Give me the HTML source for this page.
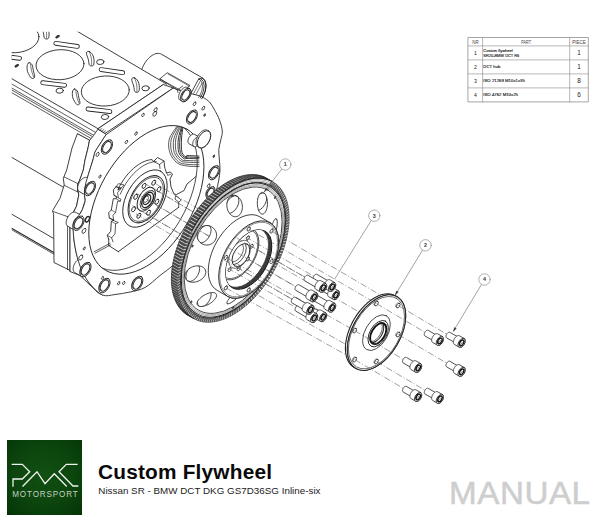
<!DOCTYPE html>
<html><head><meta charset="utf-8"><title>Custom Flywheel Manual</title>
<style>
html,body{margin:0;padding:0;background:#fff;}
body{width:600px;height:525px;position:relative;overflow:hidden;font-family:"Liberation Sans",sans-serif;}
svg{position:absolute;left:0;top:0;}
svg text{font-family:"Liberation Sans",sans-serif;}
.logo{position:absolute;left:7px;top:440px;width:75px;height:75px;background:radial-gradient(ellipse 75% 75% at 50% 46%,#114f12 0%,#0d470e 45%,#063a09 85%,#033205 100%);}
.title{position:absolute;left:98px;top:459.8px;font-size:20px;font-weight:bold;color:#0a0a0a;white-space:nowrap;letter-spacing:0.2px;line-height:24px;transform:scaleX(1.04);transform-origin:0 0;}
.sub{position:absolute;left:98.3px;top:485.1px;font-size:9.8px;color:#222;white-space:nowrap;line-height:12px;letter-spacing:0.02px;}
.manual{position:absolute;left:449.3px;top:476.2px;font-size:30.9px;color:#cecece;-webkit-text-stroke:0.5px #cecece;white-space:nowrap;line-height:36px;letter-spacing:0.5px;transform:scaleX(1.075);transform-origin:0 0;}
</style></head><body>
<svg width="600" height="525" viewBox="0 0 600 525" stroke-linecap="round" stroke-linejoin="round">
<clipPath id="crop"><rect x="11.7" y="31.7" width="600" height="500"/></clipPath>
<g clip-path="url(#crop)">
<path d="M161.28 54.18 L160.34 53.75 L159.33 53.48 L158.24 53.38 L157.09 53.45 L155.89 53.7 L154.66 54.1 L153.41 54.68 L152.15 55.4 L150.9 56.28 L149.67 57.29 L148.47 58.43 L147.32 59.68 L146.23 61.04 L145.21 62.48 L144.28 63.99 L143.44 65.56 L142.7 67.16 L142.07 68.78 L141.56 70.4 L141.17 72.01 L140.91 73.58 L140.77 75.1 L140.77 76.56 L140.91 77.93 L141.17 79.2 L141.56 80.35 L142.07 81.38 L142.7 82.28 L143.44 83.03 L144.28 83.62 L185.5 107.42 L186.44 107.85 L187.45 108.12 L188.54 108.22 L189.69 108.15 L190.89 107.9 L192.12 107.5 L193.37 106.92 L194.63 106.2 L195.88 105.32 L197.11 104.31 L198.31 103.17 L199.46 101.92 L200.55 100.56 L201.56 99.12 L202.5 97.61 L203.34 96.04 L204.08 94.44 L204.71 92.82 L205.22 91.2 L205.61 89.59 L205.87 88.02 L206 86.5 L206 85.04 L205.87 83.67 L205.61 82.4 L205.22 81.25 L204.71 80.22 L204.08 79.32 L203.34 78.57 L202.5 77.98Z" fill="#fff" stroke="#262626" stroke-width="0.88" />
<line x1="5" y1="153.5" x2="63.3" y2="187.2" stroke="#262626" stroke-width="0.88" />
<line x1="5" y1="210.3" x2="53.3" y2="238.3" stroke="#262626" stroke-width="0.88" />
<line x1="5" y1="224.4" x2="55" y2="253.3" stroke="#262626" stroke-width="1.12" />
<line x1="5" y1="225.9" x2="55" y2="254.8" stroke="#262626" stroke-width="0.75" />
<path d="M5 27.8 L78.3 31.7 L166.7 84.2 L98 128.7 L5 74.8Z" fill="#fff" stroke="none" stroke-width="0" />
<line x1="70" y1="27" x2="166.7" y2="84.2" stroke="#262626" stroke-width="0.88" />
<line x1="5" y1="74.8" x2="98" y2="128.7" stroke="#262626" stroke-width="0.88" />
<line x1="98" y1="128.7" x2="163.3" y2="84.5" stroke="#262626" stroke-width="0.88" />
<ellipse cx="15" cy="37.7" rx="24" ry="15" transform="rotate(-3 15 37.7)" fill="none" stroke="#262626" stroke-width="0.88"/>
<line x1="10.8" y1="16.3" x2="32.4" y2="19.4" stroke="#262626" stroke-width="4.8" stroke-linecap="round"/>
<line x1="10.8" y1="16.3" x2="32.4" y2="19.4" stroke="#fff" stroke-width="3.05" stroke-linecap="round"/>
<line x1="-2.3" y1="55.7" x2="19.6" y2="58.3" stroke="#262626" stroke-width="4.8" stroke-linecap="round"/>
<line x1="-2.3" y1="55.7" x2="19.6" y2="58.3" stroke="#fff" stroke-width="3.05" stroke-linecap="round"/>
<path d="M-16 35.7 C-16.8 35.87 -17.57 37.2 -17.8 38.7 C-18.03 40.2 -18.1 42.63 -17.4 44.7 C-16.7 46.77 -14.77 50.2 -13.6 51.1 C-12.43 52 -10.73 51.33 -10.4 50.1 C-10.07 48.87 -11.17 45.77 -11.6 43.7 C-12.03 41.63 -12.27 39.03 -13 37.7 C-13.73 36.37 -15.2 35.53 -16 35.7Z" fill="#fff" stroke="#262626" stroke-width="0.88" />
<path d="M-14.6 37.2 C-14.4 38.28 -13.93 41.58 -13.4 43.7 C-12.87 45.82 -11.73 48.87 -11.4 49.9" fill="none" stroke="#262626" stroke-width="0.62" />
<path d="M44.2 24.5 C43.17 24.2 41.53 24.53 41.4 25.9 C41.27 27.27 42.87 30.63 43.4 32.7 C43.93 34.77 43.77 37.37 44.6 38.3 C45.43 39.23 47.67 39.23 48.4 38.3 C49.13 37.37 49.13 34.47 49 32.7 C48.87 30.93 48.4 29.07 47.6 27.7 C46.8 26.33 45.23 24.8 44.2 24.5Z" fill="#fff" stroke="#262626" stroke-width="0.88" />
<path d="M46.6 38.1 C46.57 37.03 46.73 33.87 46.4 31.7 C46.07 29.53 44.9 26.2 44.6 25.1" fill="none" stroke="#262626" stroke-width="0.62" />
<ellipse cx="57.5" cy="36.7" rx="2" ry="0.9" transform="rotate(-30 57.5 36.7)" fill="#444" stroke="#262626" stroke-width="0.88"/>
<ellipse cx="16.7" cy="65.8" rx="2" ry="0.9" transform="rotate(-30 16.7 65.8)" fill="#444" stroke="#262626" stroke-width="0.88"/>
<ellipse cx="60" cy="64.7" rx="24" ry="15" transform="rotate(-3 60 64.7)" fill="none" stroke="#262626" stroke-width="0.88"/>
<line x1="55.8" y1="43.3" x2="77.4" y2="46.4" stroke="#262626" stroke-width="4.8" stroke-linecap="round"/>
<line x1="55.8" y1="43.3" x2="77.4" y2="46.4" stroke="#fff" stroke-width="3.05" stroke-linecap="round"/>
<line x1="42.7" y1="82.7" x2="64.6" y2="85.3" stroke="#262626" stroke-width="4.8" stroke-linecap="round"/>
<line x1="42.7" y1="82.7" x2="64.6" y2="85.3" stroke="#fff" stroke-width="3.05" stroke-linecap="round"/>
<path d="M29 62.7 C28.2 62.87 27.43 64.2 27.2 65.7 C26.97 67.2 26.9 69.63 27.6 71.7 C28.3 73.77 30.23 77.2 31.4 78.1 C32.57 79 34.27 78.33 34.6 77.1 C34.93 75.87 33.83 72.77 33.4 70.7 C32.97 68.63 32.73 66.03 32 64.7 C31.27 63.37 29.8 62.53 29 62.7Z" fill="#fff" stroke="#262626" stroke-width="0.88" />
<path d="M30.4 64.2 C30.6 65.28 31.07 68.58 31.6 70.7 C32.13 72.82 33.27 75.87 33.6 76.9" fill="none" stroke="#262626" stroke-width="0.62" />
<path d="M89.2 51.5 C88.17 51.2 86.53 51.53 86.4 52.9 C86.27 54.27 87.87 57.63 88.4 59.7 C88.93 61.77 88.77 64.37 89.6 65.3 C90.43 66.23 92.67 66.23 93.4 65.3 C94.13 64.37 94.13 61.47 94 59.7 C93.87 57.93 93.4 56.07 92.6 54.7 C91.8 53.33 90.23 51.8 89.2 51.5Z" fill="#fff" stroke="#262626" stroke-width="0.88" />
<path d="M91.6 65.1 C91.57 64.03 91.73 60.87 91.4 58.7 C91.07 56.53 89.9 53.2 89.6 52.1" fill="none" stroke="#262626" stroke-width="0.62" />
<ellipse cx="59.7" cy="90.7" rx="3.7" ry="2.5" transform="rotate(-5 59.7 90.7)" fill="none" stroke="#262626" stroke-width="0.88"/>
<ellipse cx="100.3" cy="62" rx="3.7" ry="2.5" transform="rotate(-5 100.3 62)" fill="none" stroke="#262626" stroke-width="0.88"/>
<ellipse cx="105.3" cy="91" rx="24" ry="15" transform="rotate(-3 105.3 91)" fill="none" stroke="#262626" stroke-width="0.88"/>
<line x1="101.1" y1="69.6" x2="122.7" y2="72.7" stroke="#262626" stroke-width="4.8" stroke-linecap="round"/>
<line x1="101.1" y1="69.6" x2="122.7" y2="72.7" stroke="#fff" stroke-width="3.05" stroke-linecap="round"/>
<line x1="88" y1="109" x2="109.9" y2="111.6" stroke="#262626" stroke-width="4.8" stroke-linecap="round"/>
<line x1="88" y1="109" x2="109.9" y2="111.6" stroke="#fff" stroke-width="3.05" stroke-linecap="round"/>
<path d="M74.3 89 C73.5 89.17 72.73 90.5 72.5 92 C72.27 93.5 72.2 95.93 72.9 98 C73.6 100.07 75.53 103.5 76.7 104.4 C77.87 105.3 79.57 104.63 79.9 103.4 C80.23 102.17 79.13 99.07 78.7 97 C78.27 94.93 78.03 92.33 77.3 91 C76.57 89.67 75.1 88.83 74.3 89Z" fill="#fff" stroke="#262626" stroke-width="0.88" />
<path d="M75.7 90.5 C75.9 91.58 76.37 94.88 76.9 97 C77.43 99.12 78.57 102.17 78.9 103.2" fill="none" stroke="#262626" stroke-width="0.62" />
<path d="M134.5 77.8 C133.47 77.5 131.83 77.83 131.7 79.2 C131.57 80.57 133.17 83.93 133.7 86 C134.23 88.07 134.07 90.67 134.9 91.6 C135.73 92.53 137.97 92.53 138.7 91.6 C139.43 90.67 139.43 87.77 139.3 86 C139.17 84.23 138.7 82.37 137.9 81 C137.1 79.63 135.53 78.1 134.5 77.8Z" fill="#fff" stroke="#262626" stroke-width="0.88" />
<path d="M136.9 91.4 C136.87 90.33 137.03 87.17 136.7 85 C136.37 82.83 135.2 79.5 134.9 78.4" fill="none" stroke="#262626" stroke-width="0.62" />
<ellipse cx="105" cy="117" rx="3.7" ry="2.5" transform="rotate(-5 105 117)" fill="none" stroke="#262626" stroke-width="0.88"/>
<ellipse cx="145.6" cy="88.3" rx="3.7" ry="2.5" transform="rotate(-5 145.6 88.3)" fill="none" stroke="#262626" stroke-width="0.88"/>
<line x1="5" y1="80.1" x2="96.7" y2="133.05" stroke="#262626" stroke-width="0.75" />
<line x1="5" y1="84.1" x2="94" y2="135.49" stroke="#262626" stroke-width="0.75" />
<line x1="5" y1="86.1" x2="93.3" y2="137.08" stroke="#262626" stroke-width="0.75" />
<line x1="5" y1="88.8" x2="90.7" y2="138.28" stroke="#262626" stroke-width="0.75" />
<line x1="77.3" y1="134" x2="88.7" y2="140.3" stroke="#262626" stroke-width="0.75" />
<path d="M77.3 134 L72 148 L66.7 170 L63.3 178.3 L64.2 185 L60 198.3 L52.5 210.8 L53.6 214.2 L54 262.5 L70.8 270.8 L70 271.5 L70 217.5 L73 213.2 L76.5 206.2 L78.8 195.1 L77.5 187 L78.3 183.3 L80.5 178 L83.3 170 L85 160 L88 148 L89.5 140.5Z" fill="#fff" stroke="#262626" stroke-width="0.88" />
<path d="M89.5 140.5 L88 148 L85 160 L83.3 170 L80.5 178 L78.3 183.3 L77.5 187 L78.8 195.1 L76.5 206.2 L73 213.2 L70 217.5 L70 271.5 L80 275.5 L90 285 L98.3 293 L102.5 295 L102.5 295 L90 284 L82.5 272 L79 263 L76 252 L74 240 L73.2 228 L74.8 220 L78.8 215.5 L82.3 209.7 L85.2 200.5 L84.6 196 L85.2 186 L87 179 L90 169.3 L93.3 158.7 L95 152 L100 144 L106 134.7 L105.3 133.3 L98 129.2 L93.5 135.5 L89.5 140.5Z" fill="#fff" stroke="#262626" stroke-width="0.88" />
<line x1="64.3" y1="177" x2="77.9" y2="183.6" stroke="#262626" stroke-width="0.75" />
<line x1="64.5" y1="185.4" x2="77.4" y2="191.8" stroke="#262626" stroke-width="0.75" />
<line x1="53.4" y1="211.6" x2="70" y2="217.5" stroke="#262626" stroke-width="0.75" />
<line x1="67.5" y1="216.8" x2="67.5" y2="269.6" stroke="#262626" stroke-width="0.75" />
<line x1="77.9" y1="183.6" x2="77.4" y2="191.8" stroke="#262626" stroke-width="0.75" />
<path d="M98 128.7 L163.3 84.5 L173.3 88 L105.3 133.3Z" fill="#fff" stroke="#262626" stroke-width="0.88" />
<line x1="99.83" y1="129.85" x2="102.03" y2="128.45" stroke="#262626" stroke-width="0.62" />
<line x1="101.65" y1="131" x2="103.85" y2="129.6" stroke="#262626" stroke-width="0.62" />
<line x1="103.47" y1="132.15" x2="105.67" y2="130.75" stroke="#262626" stroke-width="0.62" />
<path d="M87.33 177.72 L86.89 177.52 L86.41 177.39 L85.9 177.35 L85.36 177.38 L84.8 177.5 L84.22 177.69 L83.63 177.96 L83.04 178.3 L82.45 178.71 L81.87 179.19 L81.3 179.72 L80.76 180.31 L80.25 180.95 L79.77 181.63 L79.33 182.34 L78.94 183.08 L78.59 183.83 L78.29 184.59 L78.05 185.36 L77.87 186.11 L77.74 186.85 L77.68 187.57 L77.68 188.25 L77.74 188.9 L77.87 189.49 L78.05 190.04 L78.29 190.53 L78.59 190.95 L78.94 191.3 L79.33 191.58 L86 195.43 L86.44 195.63 L86.92 195.76 L87.43 195.8 L87.97 195.77 L88.54 195.65 L89.12 195.46 L89.7 195.19 L90.3 194.85 L90.88 194.44 L91.46 193.96 L92.03 193.43 L92.57 192.84 L93.08 192.2 L93.56 191.52 L94 190.81 L94.4 190.07 L94.74 189.32 L95.04 188.56 L95.28 187.79 L95.46 187.04 L95.59 186.3 L95.65 185.58 L95.65 184.9 L95.59 184.25 L95.46 183.66 L95.28 183.11 L95.04 182.62 L94.74 182.2 L94.4 181.85 L94 181.57Z" fill="#fff" stroke="#262626" stroke-width="0.88" />
<path d="M75.83 212.42 L75.39 212.22 L74.91 212.09 L74.4 212.05 L73.86 212.08 L73.3 212.2 L72.72 212.39 L72.13 212.66 L71.54 213 L70.95 213.41 L70.37 213.89 L69.8 214.42 L69.26 215.01 L68.75 215.65 L68.27 216.33 L67.83 217.04 L67.44 217.78 L67.09 218.53 L66.79 219.29 L66.55 220.06 L66.37 220.81 L66.24 221.55 L66.18 222.27 L66.18 222.95 L66.24 223.6 L66.37 224.19 L66.55 224.74 L66.79 225.23 L67.09 225.65 L67.44 226 L67.83 226.28 L74.5 230.13 L74.94 230.33 L75.42 230.46 L75.93 230.5 L76.47 230.47 L77.04 230.35 L77.62 230.16 L78.2 229.89 L78.8 229.55 L79.38 229.14 L79.96 228.66 L80.53 228.13 L81.07 227.54 L81.58 226.9 L82.06 226.22 L82.5 225.51 L82.9 224.77 L83.24 224.02 L83.54 223.26 L83.78 222.49 L83.96 221.74 L84.09 221 L84.15 220.28 L84.15 219.6 L84.09 218.95 L83.96 218.36 L83.78 217.81 L83.54 217.32 L83.24 216.9 L82.9 216.55 L82.5 216.27Z" fill="#fff" stroke="#262626" stroke-width="0.88" />
<path d="M82.83 258.72 L82.39 258.52 L81.91 258.39 L81.4 258.35 L80.86 258.38 L80.3 258.5 L79.72 258.69 L79.13 258.96 L78.54 259.3 L77.95 259.71 L77.37 260.19 L76.8 260.72 L76.26 261.31 L75.75 261.95 L75.27 262.63 L74.83 263.34 L74.44 264.08 L74.09 264.83 L73.79 265.59 L73.55 266.36 L73.37 267.11 L73.24 267.85 L73.18 268.57 L73.18 269.25 L73.24 269.9 L73.37 270.49 L73.55 271.04 L73.79 271.53 L74.09 271.95 L74.44 272.3 L74.83 272.58 L81.5 276.43 L81.94 276.63 L82.42 276.76 L82.93 276.8 L83.47 276.77 L84.04 276.65 L84.62 276.46 L85.2 276.19 L85.8 275.85 L86.38 275.44 L86.96 274.96 L87.53 274.43 L88.07 273.84 L88.58 273.2 L89.06 272.52 L89.5 271.81 L89.9 271.07 L90.24 270.32 L90.54 269.56 L90.78 268.79 L90.96 268.04 L91.09 267.3 L91.15 266.58 L91.15 265.9 L91.09 265.25 L90.96 264.66 L90.78 264.11 L90.54 263.62 L90.24 263.2 L89.9 262.85 L89.5 262.57Z" fill="#fff" stroke="#262626" stroke-width="0.88" />
<path d="M173.3 88 C174.42 88.42 177.22 89.58 180 90.5 C182.78 91.42 186.67 92.58 190 93.5 C193.33 94.42 196.88 94.7 200 96 C203.12 97.3 206.37 99.13 208.7 101.3 C211.03 103.47 212.2 105.88 214 109 C215.8 112.12 218.12 116.33 219.5 120 C220.88 123.67 222.08 127.67 222.3 131 C222.52 134.33 221.38 136.92 220.8 140 C220.22 143.08 219.03 146.17 218.8 149.5 C218.57 152.83 219.2 156.58 219.4 160 C219.6 163.42 220.13 166.5 220 170 C219.87 173.5 219.27 177.33 218.6 181 C217.93 184.67 217.1 188.17 216 192 C214.9 195.83 213.67 199.67 212 204 C210.33 208.33 208.33 213 206 218 C203.67 223 201 228.83 198 234 C195 239.17 192.12 243.83 188 249 C183.88 254.17 177.97 260.58 173.3 265 C168.63 269.42 164.72 271.75 160 275.5 C155.28 279.25 150 284.75 145 287.5 C140 290.25 135 290.83 130 292 C125 293.17 119.58 294 115 294.5 C110.42 295 106.67 296.75 102.5 295 C98.33 293.25 93.33 287.83 90 284 C86.67 280.17 84.33 275.5 82.5 272 C80.67 268.5 80.08 266.33 79 263 C77.92 259.67 76.83 255.83 76 252 C75.17 248.17 74.47 244 74 240 C73.53 236 73.07 231.33 73.2 228 C73.33 224.67 73.87 222.08 74.8 220 C75.73 217.92 77.55 217.22 78.8 215.5 C80.05 213.78 81.23 212.2 82.3 209.7 C83.37 207.2 84.82 202.78 85.2 200.5 C85.58 198.22 84.6 198.42 84.6 196 C84.6 193.58 84.8 188.83 85.2 186 C85.6 183.17 86.2 181.78 87 179 C87.8 176.22 88.95 172.68 90 169.3 C91.05 165.92 92.47 161.58 93.3 158.7 C94.13 155.82 93.88 154.45 95 152 C96.12 149.55 98.17 146.88 100 144 C101.83 141.12 105 136.25 106 134.7 L173.3 88 Z" fill="#fff" stroke="#262626" stroke-width="0.88" />
<ellipse cx="146.4" cy="199.8" rx="81.5" ry="47.05" transform="rotate(-60 146.4 199.8)" fill="#fff" stroke="#262626" stroke-width="0.88" />
<clipPath id="bigbore"><ellipse cx="146.4" cy="199.8" rx="81.5" ry="47.05" transform="rotate(-60 146.4 199.8)"/></clipPath>
<g clip-path="url(#bigbore)">
<ellipse cx="139.73" cy="195.95" rx="81.5" ry="47.05" transform="rotate(-60 139.73 195.95)" fill="none" stroke="#262626" stroke-width="0.75" />
<path d="M177.5 125.5 C176.13 127.75 170.58 134.5 169.3 139 C168.02 143.5 168.52 148.53 169.8 152.5 C171.08 156.47 174.13 160.55 177 162.8 C179.87 165.05 183.33 165.38 187 166 C190.67 166.62 197 166.42 199 166.5" fill="none" stroke="#262626" stroke-width="0.75" />
<path d="M178.4 125.8 C177.22 128 172.4 134.55 171.3 139 C170.2 143.45 170.58 148.68 171.8 152.5 C173.02 156.32 176.07 159.93 178.6 161.9 C181.13 163.87 183.6 163.82 187 164.3 C190.4 164.78 197 164.72 199 164.8" fill="none" stroke="#262626" stroke-width="0.75" />
<path d="M179.53 126.17 C178.57 128.31 174.67 134.61 173.8 139 C172.93 143.39 173.17 148.87 174.3 152.5 C175.43 156.13 178.48 159.16 180.6 160.78 C182.72 162.39 183.93 161.86 187 162.18 C190.07 162.49 197 162.59 199 162.68" fill="none" stroke="#262626" stroke-width="0.75" />
<path d="M180.43 126.47 C179.65 128.56 176.49 134.66 175.8 139 C175.11 143.34 175.23 149.02 176.3 152.5 C177.37 155.98 180.42 158.55 182.2 159.88 C183.98 161.2 184.2 160.29 187 160.47 C189.8 160.66 197 160.89 199 160.97" fill="none" stroke="#262626" stroke-width="0.75" />
<path d="M181.55 126.85 C181.01 128.88 178.76 134.72 178.3 139 C177.84 143.28 177.82 149.21 178.8 152.5 C179.78 155.79 182.83 157.78 184.2 158.75 C185.57 159.72 184.53 158.33 187 158.35 C189.47 158.37 197 158.77 199 158.85" fill="none" stroke="#262626" stroke-width="0.94" />
<path d="M182.27 127.09 C181.88 129.07 180.21 134.76 179.9 139 C179.59 143.24 179.47 149.33 180.4 152.5 C181.33 155.67 184.38 157.28 185.48 158.03 C186.58 158.78 184.75 157.08 187 156.99 C189.25 156.9 197 157.41 199 157.49" fill="none" stroke="#262626" stroke-width="0.94" />
<path d="M182.99 127.33 C182.74 129.28 181.66 134.81 181.5 139 C181.34 143.19 181.12 149.45 182 152.5 C182.88 155.55 185.93 156.79 186.76 157.31 C187.59 157.83 184.96 155.83 187 155.63 C189.04 155.43 197 156.05 199 156.13" fill="none" stroke="#262626" stroke-width="0.94" />
<path d="M108.7 239.3 L107.3 235.3 L110.7 231.3 L111.3 221.3 L114 220 L109.3 218 L108.7 212.7 L111.3 210 L113.3 198.7 L116 198.7 L116.7 196.7 L114 195.3 L113.3 190 L116 186.7 L121.3 188 L117.8 189.92 L119.5 186.46 L121.41 183.08 L123.5 179.83 L125.75 176.73 L128.15 173.81 L130.66 171.1 L133.27 168.62 L135.95 166.41 L138.67 164.47 L141.41 162.84 L144.15 161.52 L146.84 160.53 L149.48 159.88 L152.03 159.57 L153.5 161.5 L157.5 157.5 L164 161 L164.5 166 L165 168.5 L166.5 173 L170 172 L172.5 174 L170 179 L171 187 L174 194 L176.5 194.5 L184 190.5 L187 184 L196 176.5" fill="none" stroke="#262626" stroke-width="0.88" />
<path d="M113 241.8 L111.6 237.8 L115 233.8 L115.6 223.8 L118.3 222.5 L113.6 220.5 L113 215.2 L115.6 212.5 L117.6 201.2 L120.3 201.2 L121 199.2 L118.3 197.8 L117.6 192.5 L120.3 189.2" fill="none" stroke="#262626" stroke-width="0.75" />
<line x1="107.3" y1="235.3" x2="111.6" y2="237.8" stroke="#262626" stroke-width="0.62" />
<line x1="111.3" y1="221.3" x2="115.6" y2="223.8" stroke="#262626" stroke-width="0.62" />
<line x1="109.3" y1="218" x2="113.6" y2="220.5" stroke="#262626" stroke-width="0.62" />
<line x1="111.3" y1="210" x2="115.6" y2="212.5" stroke="#262626" stroke-width="0.62" />
<line x1="116" y1="198.7" x2="120.3" y2="201.2" stroke="#262626" stroke-width="0.62" />
<line x1="114" y1="195.3" x2="118.3" y2="197.8" stroke="#262626" stroke-width="0.62" />
<line x1="116" y1="186.7" x2="120.3" y2="189.2" stroke="#262626" stroke-width="0.62" />
<path d="M116 186.7 L118.6 183.6 L124 185 L121.3 188" fill="none" stroke="#262626" stroke-width="0.75" />
<path d="M153.5 161.5 L159.5 164.5 L164 161" fill="none" stroke="#262626" stroke-width="0.75" />
<line x1="159.5" y1="164.5" x2="160" y2="168.5" stroke="#262626" stroke-width="0.75" />
<line x1="166.5" y1="173" x2="167.8" y2="175.2" stroke="#262626" stroke-width="0.62" />
<line x1="167.8" y1="175.2" x2="170.6" y2="174.4" stroke="#262626" stroke-width="0.62" />
<path d="M120.31 194.18 L121.99 190.45 L123.91 186.79 L126.05 183.26 L128.38 179.88 L130.89 176.69 L133.54 173.74 L136.3 171.04 L139.15 168.64 L142.05 166.55 L144.97 164.81 L147.89 163.42 L150.76 162.41 L153.55 161.78 L156.24 161.54" fill="none" stroke="#262626" stroke-width="0.75" />
<path d="M176 196 L181.3 200 L178.7 202.2 L175.3 199.3Z" fill="none" stroke="#262626" stroke-width="0.75" />
<line x1="178.7" y1="207.3" x2="118.3" y2="251.7" stroke="#262626" stroke-width="0.88" />
<line x1="118.3" y1="251.7" x2="108.7" y2="245.5" stroke="#262626" stroke-width="0.88" />
<line x1="108.7" y1="245.5" x2="108.7" y2="239.3" stroke="#262626" stroke-width="0.88" />
<path d="M178.7 202.2 L178.7 207.3" fill="none" stroke="#262626" stroke-width="0.75" />
<line x1="94.2" y1="251.7" x2="110" y2="243.3" stroke="#262626" stroke-width="0.75" />
<line x1="95" y1="253.2" x2="110.8" y2="244.8" stroke="#262626" stroke-width="0.75" />
<ellipse cx="145" cy="198.5" rx="31.5" ry="18.19" transform="rotate(-60 145 198.5)" fill="none" stroke="#262626" stroke-width="0.88" />
<ellipse cx="146.3" cy="199.25" rx="25.8" ry="14.9" transform="rotate(-60 146.3 199.25)" fill="#fff" stroke="#262626" stroke-width="1" />
<ellipse cx="146.3" cy="199.25" rx="24.2" ry="13.97" transform="rotate(-60 146.3 199.25)" fill="none" stroke="#262626" stroke-width="0.62" />
<ellipse cx="159.04" cy="189.3" rx="2.8" ry="1.62" transform="rotate(-60 159.04 189.3)" fill="#fff" stroke="#262626" stroke-width="0.88" />
<ellipse cx="153.72" cy="182.73" rx="2.8" ry="1.62" transform="rotate(-60 153.72 182.73)" fill="#fff" stroke="#262626" stroke-width="0.88" />
<ellipse cx="144.05" cy="185.83" rx="2.8" ry="1.62" transform="rotate(-60 144.05 185.83)" fill="#fff" stroke="#262626" stroke-width="0.88" />
<ellipse cx="135.7" cy="196.8" rx="2.8" ry="1.62" transform="rotate(-60 135.7 196.8)" fill="#fff" stroke="#262626" stroke-width="0.88" />
<ellipse cx="133.56" cy="209.2" rx="2.8" ry="1.62" transform="rotate(-60 133.56 209.2)" fill="#fff" stroke="#262626" stroke-width="0.88" />
<ellipse cx="138.88" cy="215.77" rx="2.8" ry="1.62" transform="rotate(-60 138.88 215.77)" fill="#fff" stroke="#262626" stroke-width="0.88" />
<ellipse cx="148.55" cy="212.67" rx="2.8" ry="1.62" transform="rotate(-60 148.55 212.67)" fill="#fff" stroke="#262626" stroke-width="0.88" />
<ellipse cx="156.9" cy="201.7" rx="2.8" ry="1.62" transform="rotate(-60 156.9 201.7)" fill="#fff" stroke="#262626" stroke-width="0.88" />
<ellipse cx="146.3" cy="199.25" rx="13" ry="7.51" transform="rotate(-60 146.3 199.25)" fill="#fff" stroke="#262626" stroke-width="1" />
<ellipse cx="147.6" cy="200" rx="10.6" ry="6.12" transform="rotate(-60 147.6 200)" fill="#fff" stroke="#262626" stroke-width="0.75" />
<ellipse cx="147.6" cy="200" rx="8.4" ry="4.85" transform="rotate(-60 147.6 200)" fill="none" stroke="#262626" stroke-width="1.38" />
<ellipse cx="146.91" cy="199.6" rx="5.4" ry="3.12" transform="rotate(-60 146.91 199.6)" fill="none" stroke="#262626" stroke-width="1.38" />
<ellipse cx="146.04" cy="199.1" rx="3.6" ry="2.08" transform="rotate(-60 146.04 199.1)" fill="none" stroke="#262626" stroke-width="0.62" />
</g>
<path d="M194.44 134.37 L194.14 134.24 L193.82 134.15 L193.47 134.12 L193.11 134.14 L192.73 134.22 L192.33 134.35 L191.94 134.53 L191.54 134.76 L191.14 135.04 L190.75 135.36 L190.37 135.72 L190 136.12 L189.66 136.55 L189.33 137.01 L189.04 137.49 L188.77 137.99 L188.53 138.5 L188.33 139.01 L188.17 139.53 L188.05 140.04 L187.97 140.54 L187.92 141.02 L187.92 141.48 L187.97 141.92 L188.05 142.32 L188.17 142.69 L188.33 143.02 L188.53 143.3 L188.77 143.54 L189.04 143.73 L193.8 146.48 L194.1 146.61 L194.42 146.7 L194.77 146.73 L195.13 146.71 L195.51 146.63 L195.9 146.5 L196.3 146.32 L196.7 146.09 L197.1 145.81 L197.49 145.49 L197.87 145.13 L198.23 144.73 L198.58 144.3 L198.9 143.84 L199.2 143.36 L199.47 142.86 L199.7 142.35 L199.9 141.84 L200.06 141.32 L200.19 140.81 L200.27 140.31 L200.31 139.83 L200.31 139.37 L200.27 138.93 L200.19 138.53 L200.06 138.16 L199.9 137.83 L199.7 137.55 L199.47 137.31 L199.2 137.12Z" fill="#fff" stroke="#262626" stroke-width="0.88" />
<path d="M199.2 137.12 L198.9 136.99 L198.58 136.9 L198.23 136.87 L197.87 136.89 L197.49 136.97 L197.1 137.1 L196.7 137.28 L196.3 137.51 L195.9 137.79 L195.51 138.11 L195.13 138.47 L194.77 138.87 L194.42 139.3 L194.1 139.76 L193.8 140.24 L193.53 140.74 L193.3 141.25 L193.1 141.76 L192.94 142.28 L192.81 142.79 L192.73 143.29 L192.69 143.77 L192.69 144.23 L192.73 144.67 L192.81 145.07 L192.94 145.44 L193.1 145.77 L193.3 146.05 L193.53 146.29 L193.8 146.48" fill="none" stroke="#262626" stroke-width="0.88" />
<path d="M207.45 130.32 L206.93 130.08 L206.36 129.93 L205.75 129.88 L205.11 129.92 L204.44 130.05 L203.75 130.28 L203.05 130.6 L202.35 131.01 L201.65 131.5 L200.96 132.06 L200.29 132.7 L199.65 133.4 L199.04 134.16 L198.47 134.96 L197.95 135.81 L197.48 136.68 L197.07 137.58 L196.72 138.48 L196.43 139.39 L196.21 140.29 L196.07 141.17 L195.99 142.02 L195.99 142.83 L196.07 143.59 L196.21 144.3 L196.43 144.95 L196.72 145.53 L197.07 146.03 L197.48 146.45 L197.95 146.78 L199.25 147.53 L199.77 147.77 L200.34 147.92 L200.95 147.97 L201.59 147.93 L202.26 147.8 L202.95 147.57 L203.65 147.25 L204.35 146.84 L205.05 146.35 L205.74 145.79 L206.41 145.15 L207.05 144.45 L207.66 143.69 L208.23 142.89 L208.75 142.04 L209.22 141.17 L209.63 140.27 L209.99 139.37 L210.27 138.46 L210.49 137.56 L210.63 136.68 L210.71 135.83 L210.71 135.02 L210.63 134.26 L210.49 133.55 L210.27 132.9 L209.99 132.32 L209.63 131.82 L209.22 131.4 L208.75 131.07Z" fill="#fff" stroke="#262626" stroke-width="0.88" />
<ellipse cx="204" cy="139.3" rx="9.5" ry="5.48" transform="rotate(-60 204 139.3)" fill="#fff" stroke="#262626" stroke-width="0.88" />
<ellipse cx="107" cy="147" rx="8" ry="4.62" transform="rotate(-60 107 147)" fill="#fff" stroke="#262626" stroke-width="0.88" />
<ellipse cx="107" cy="147" rx="6.2" ry="3.58" transform="rotate(-60 107 147)" fill="none" stroke="#262626" stroke-width="1" />
<path d="M109.69 142.27 L109.51 141.9 L109.29 141.57 L109.04 141.3 L108.74 141.08 L108.41 140.92 L108.05 140.82 L107.67 140.77 L107.26 140.79 L106.84 140.87 L106.4 141.01 L105.95 141.21 L105.51 141.47 L105.06 141.78 L104.62 142.14 L104.2 142.54 L103.79 142.98 L103.4 143.47 L103.03 143.98 L102.7 144.52 L102.4 145.08 L102.14 145.65 L101.92 146.22 L101.73 146.8 L101.6 147.37 L101.51 147.93 L101.46 148.47 L101.47 148.99 L101.52 149.47 L101.61 149.92 L101.76 150.33 L101.94 150.69 L102.17 151.01 L102.44 151.27 L102.74 151.47 L103.08 151.62 L103.45 151.7 L103.84 151.73 L104.25 151.69" fill="none" stroke="#262626" stroke-width="0.62" />
<ellipse cx="90" cy="188.5" rx="8" ry="4.62" transform="rotate(-60 90 188.5)" fill="#fff" stroke="#262626" stroke-width="0.88" />
<ellipse cx="90" cy="188.5" rx="6.2" ry="3.58" transform="rotate(-60 90 188.5)" fill="none" stroke="#262626" stroke-width="1" />
<path d="M92.69 183.77 L92.51 183.4 L92.29 183.07 L92.04 182.8 L91.74 182.58 L91.41 182.42 L91.05 182.32 L90.67 182.27 L90.26 182.29 L89.84 182.37 L89.4 182.51 L88.95 182.71 L88.51 182.97 L88.06 183.28 L87.62 183.64 L87.2 184.04 L86.79 184.48 L86.4 184.97 L86.03 185.48 L85.7 186.02 L85.4 186.58 L85.14 187.15 L84.92 187.72 L84.73 188.3 L84.6 188.87 L84.51 189.43 L84.46 189.97 L84.47 190.49 L84.52 190.97 L84.61 191.42 L84.76 191.83 L84.94 192.19 L85.17 192.51 L85.44 192.77 L85.74 192.97 L86.08 193.12 L86.45 193.2 L86.84 193.23 L87.25 193.19" fill="none" stroke="#262626" stroke-width="0.62" />
<ellipse cx="78.5" cy="223.2" rx="8" ry="4.62" transform="rotate(-60 78.5 223.2)" fill="#fff" stroke="#262626" stroke-width="0.88" />
<ellipse cx="78.5" cy="223.2" rx="6.2" ry="3.58" transform="rotate(-60 78.5 223.2)" fill="none" stroke="#262626" stroke-width="1" />
<path d="M81.19 218.47 L81.01 218.1 L80.79 217.77 L80.54 217.5 L80.24 217.28 L79.91 217.12 L79.55 217.02 L79.17 216.97 L78.76 216.99 L78.34 217.07 L77.9 217.21 L77.45 217.41 L77.01 217.67 L76.56 217.98 L76.12 218.34 L75.7 218.74 L75.29 219.18 L74.9 219.67 L74.53 220.18 L74.2 220.72 L73.9 221.28 L73.64 221.85 L73.42 222.42 L73.23 223 L73.1 223.57 L73.01 224.13 L72.96 224.67 L72.97 225.19 L73.02 225.67 L73.11 226.12 L73.26 226.53 L73.44 226.89 L73.67 227.21 L73.94 227.47 L74.24 227.67 L74.58 227.82 L74.95 227.9 L75.34 227.93 L75.75 227.89" fill="none" stroke="#262626" stroke-width="0.62" />
<ellipse cx="85.5" cy="269.5" rx="8" ry="4.62" transform="rotate(-60 85.5 269.5)" fill="#fff" stroke="#262626" stroke-width="0.88" />
<ellipse cx="85.5" cy="269.5" rx="6.2" ry="3.58" transform="rotate(-60 85.5 269.5)" fill="none" stroke="#262626" stroke-width="1" />
<path d="M88.19 264.77 L88.01 264.4 L87.79 264.07 L87.54 263.8 L87.24 263.58 L86.91 263.42 L86.55 263.32 L86.17 263.27 L85.76 263.29 L85.34 263.37 L84.9 263.51 L84.45 263.71 L84.01 263.97 L83.56 264.28 L83.12 264.64 L82.7 265.04 L82.29 265.48 L81.9 265.97 L81.53 266.48 L81.2 267.02 L80.9 267.58 L80.64 268.15 L80.42 268.72 L80.23 269.3 L80.1 269.87 L80.01 270.43 L79.96 270.97 L79.97 271.49 L80.02 271.97 L80.11 272.42 L80.26 272.83 L80.44 273.19 L80.67 273.51 L80.94 273.77 L81.24 273.97 L81.58 274.12 L81.95 274.2 L82.34 274.23 L82.75 274.19" fill="none" stroke="#262626" stroke-width="0.62" />
<ellipse cx="104.5" cy="285.5" rx="8" ry="4.62" transform="rotate(-60 104.5 285.5)" fill="#fff" stroke="#262626" stroke-width="0.88" />
<ellipse cx="104.5" cy="285.5" rx="6.2" ry="3.58" transform="rotate(-60 104.5 285.5)" fill="none" stroke="#262626" stroke-width="1" />
<path d="M107.19 280.77 L107.01 280.4 L106.79 280.07 L106.54 279.8 L106.24 279.58 L105.91 279.42 L105.55 279.32 L105.17 279.27 L104.76 279.29 L104.34 279.37 L103.9 279.51 L103.45 279.71 L103.01 279.97 L102.56 280.28 L102.12 280.64 L101.7 281.04 L101.29 281.48 L100.9 281.97 L100.53 282.48 L100.2 283.02 L99.9 283.58 L99.64 284.15 L99.42 284.72 L99.23 285.3 L99.1 285.87 L99.01 286.43 L98.96 286.97 L98.97 287.49 L99.02 287.97 L99.11 288.42 L99.26 288.83 L99.44 289.19 L99.67 289.51 L99.94 289.77 L100.24 289.97 L100.58 290.12 L100.95 290.2 L101.34 290.23 L101.75 290.19" fill="none" stroke="#262626" stroke-width="0.62" />
<ellipse cx="137.3" cy="283.5" rx="8" ry="4.62" transform="rotate(-60 137.3 283.5)" fill="#fff" stroke="#262626" stroke-width="0.88" />
<ellipse cx="137.3" cy="283.5" rx="6.2" ry="3.58" transform="rotate(-60 137.3 283.5)" fill="none" stroke="#262626" stroke-width="1" />
<path d="M139.99 278.77 L139.81 278.4 L139.59 278.07 L139.34 277.8 L139.04 277.58 L138.71 277.42 L138.35 277.32 L137.97 277.27 L137.56 277.29 L137.14 277.37 L136.7 277.51 L136.25 277.71 L135.81 277.97 L135.36 278.28 L134.92 278.64 L134.5 279.04 L134.09 279.48 L133.7 279.97 L133.33 280.48 L133 281.02 L132.7 281.58 L132.44 282.15 L132.22 282.72 L132.03 283.3 L131.9 283.87 L131.81 284.43 L131.76 284.97 L131.77 285.49 L131.82 285.97 L131.91 286.42 L132.06 286.83 L132.24 287.19 L132.47 287.51 L132.74 287.77 L133.04 287.97 L133.38 288.12 L133.75 288.2 L134.14 288.23 L134.55 288.19" fill="none" stroke="#262626" stroke-width="0.62" />
<ellipse cx="192" cy="117" rx="7.8" ry="4.5" transform="rotate(-60 192 117)" fill="#fff" stroke="#262626" stroke-width="0.88" />
<ellipse cx="192" cy="117" rx="6" ry="3.46" transform="rotate(-60 192 117)" fill="none" stroke="#262626" stroke-width="1" />
<path d="M194.55 112.41 L194.39 112.04 L194.17 111.73 L193.93 111.46 L193.64 111.25 L193.32 111.09 L192.98 111 L192.6 110.96 L192.21 110.98 L191.8 111.05 L191.38 111.19 L190.95 111.38 L190.51 111.63 L190.08 111.93 L189.66 112.27 L189.25 112.66 L188.85 113.09 L188.47 113.56 L188.12 114.06 L187.8 114.58 L187.51 115.11 L187.26 115.67 L187.04 116.22 L186.87 116.78 L186.73 117.34 L186.65 117.88 L186.6 118.4 L186.61 118.9 L186.66 119.36 L186.75 119.8 L186.89 120.19 L187.07 120.54 L187.29 120.85 L187.55 121.1 L187.84 121.3 L188.17 121.44 L188.52 121.52 L188.9 121.54 L189.3 121.51" fill="none" stroke="#262626" stroke-width="0.62" />
<ellipse cx="214" cy="172.7" rx="7.8" ry="4.5" transform="rotate(-60 214 172.7)" fill="#fff" stroke="#262626" stroke-width="0.88" />
<ellipse cx="214" cy="172.7" rx="6" ry="3.46" transform="rotate(-60 214 172.7)" fill="none" stroke="#262626" stroke-width="1" />
<path d="M216.55 168.11 L216.39 167.74 L216.17 167.43 L215.93 167.16 L215.64 166.95 L215.32 166.79 L214.98 166.7 L214.6 166.66 L214.21 166.68 L213.8 166.75 L213.38 166.89 L212.95 167.08 L212.51 167.33 L212.08 167.63 L211.66 167.97 L211.25 168.36 L210.85 168.79 L210.47 169.26 L210.12 169.76 L209.8 170.28 L209.51 170.81 L209.26 171.37 L209.04 171.92 L208.87 172.48 L208.73 173.04 L208.65 173.58 L208.6 174.1 L208.61 174.6 L208.66 175.06 L208.75 175.5 L208.89 175.89 L209.07 176.24 L209.29 176.55 L209.55 176.8 L209.84 177 L210.17 177.14 L210.52 177.22 L210.9 177.24 L211.3 177.21" fill="none" stroke="#262626" stroke-width="0.62" />
<ellipse cx="210.5" cy="192.5" rx="6.5" ry="3.75" transform="rotate(-60 210.5 192.5)" fill="#fff" stroke="#262626" stroke-width="0.88" />
<ellipse cx="210.5" cy="192.5" rx="4.7" ry="2.71" transform="rotate(-60 210.5 192.5)" fill="none" stroke="#262626" stroke-width="1" />
<path d="M212.19 188.77 L212.06 188.49 L211.9 188.24 L211.7 188.04 L211.48 187.87 L211.24 187.75 L210.97 187.67 L210.68 187.64 L210.37 187.66 L210.05 187.72 L209.72 187.82 L209.39 187.97 L209.05 188.16 L208.72 188.4 L208.39 188.66 L208.07 188.97 L207.76 189.3 L207.47 189.66 L207.2 190.05 L206.95 190.45 L206.73 190.87 L206.53 191.3 L206.36 191.73 L206.23 192.16 L206.12 192.59 L206.06 193.01 L206.02 193.42 L206.02 193.8 L206.06 194.17 L206.14 194.5 L206.24 194.81 L206.38 195.08 L206.55 195.32 L206.75 195.51 L206.98 195.66 L207.24 195.77 L207.51 195.84 L207.8 195.86 L208.11 195.83" fill="none" stroke="#262626" stroke-width="0.62" />
<ellipse cx="87.4" cy="219.2" rx="3" ry="1.73" transform="rotate(-60 87.4 219.2)" fill="#fff" stroke="#262626" stroke-width="1.38" />
<ellipse cx="97.6" cy="154.4" rx="2.2" ry="1.27" transform="rotate(-60 97.6 154.4)" fill="#fff" stroke="#262626" stroke-width="0.75" />
<ellipse cx="100" cy="176.6" rx="1.6" ry="0.92" transform="rotate(-60 100 176.6)" fill="#fff" stroke="#262626" stroke-width="0.75" />
<ellipse cx="126.4" cy="142" rx="1.8" ry="1.04" transform="rotate(-60 126.4 142)" fill="#fff" stroke="#262626" stroke-width="0.75" />
<ellipse cx="136" cy="133.6" rx="1.8" ry="1.04" transform="rotate(-60 136 133.6)" fill="#fff" stroke="#262626" stroke-width="0.75" />
<ellipse cx="143" cy="115" rx="1.8" ry="1.04" transform="rotate(-60 143 115)" fill="#fff" stroke="#262626" stroke-width="0.75" />
<ellipse cx="84" cy="230.8" rx="2.8" ry="1.62" transform="rotate(-60 84 230.8)" fill="#fff" stroke="#262626" stroke-width="0.75" />
<ellipse cx="84.2" cy="248.5" rx="1.5" ry="0.87" transform="rotate(-60 84.2 248.5)" fill="#fff" stroke="#262626" stroke-width="0.75" />
<ellipse cx="80.8" cy="257.5" rx="2.8" ry="1.62" transform="rotate(-60 80.8 257.5)" fill="#fff" stroke="#262626" stroke-width="0.75" />
<ellipse cx="102.5" cy="278" rx="1.5" ry="0.87" transform="rotate(-60 102.5 278)" fill="#fff" stroke="#262626" stroke-width="0.75" />
<ellipse cx="118.7" cy="283.3" rx="1.7" ry="0.98" transform="rotate(-60 118.7 283.3)" fill="#fff" stroke="#262626" stroke-width="0.75" />
<ellipse cx="123.8" cy="283" rx="1.7" ry="0.98" transform="rotate(-60 123.8 283)" fill="#fff" stroke="#262626" stroke-width="0.75" />
<ellipse cx="194.6" cy="103.8" rx="2" ry="1.15" transform="rotate(-60 194.6 103.8)" fill="#fff" stroke="#262626" stroke-width="0.75" />
<ellipse cx="203.3" cy="108.3" rx="2" ry="1.15" transform="rotate(-60 203.3 108.3)" fill="#fff" stroke="#262626" stroke-width="0.75" />
<ellipse cx="208.7" cy="185.7" rx="2" ry="1.15" transform="rotate(-60 208.7 185.7)" fill="#fff" stroke="#262626" stroke-width="0.75" />
<ellipse cx="204.6" cy="115.1" rx="1.3" ry="0.75" transform="rotate(-60 204.6 115.1)" fill="#555" stroke="#262626" stroke-width="0.62" />
<ellipse cx="213.8" cy="156.3" rx="1.3" ry="0.75" transform="rotate(-60 213.8 156.3)" fill="#555" stroke="#262626" stroke-width="0.62" />
<ellipse cx="155.6" cy="109.8" rx="2.3" ry="1.33" transform="rotate(-60 155.6 109.8)" fill="none" stroke="#262626" stroke-width="0.75" />
<ellipse cx="154.8" cy="113.8" rx="2.7" ry="1.56" transform="rotate(-60 154.8 113.8)" fill="none" stroke="#262626" stroke-width="0.75" />
<path d="M160 78.7 L167.3 72.7 L190 85.5 L182.7 91Z" fill="#fff" stroke="#262626" stroke-width="0.75" />
<line x1="168" y1="73.9" x2="189.4" y2="86.2" stroke="#262626" stroke-width="0.62" />
<path d="M160 78.7 L177.3 90 L182.7 86" fill="none" stroke="#262626" stroke-width="0.75" />
<line x1="177.3" y1="90" x2="178" y2="92.5" stroke="#262626" stroke-width="0.75" />
<path d="M187.59 87.49 L187.19 87.3 L186.74 87.19 L186.27 87.15 L185.77 87.18 L185.25 87.28 L184.71 87.46 L184.17 87.71 L183.62 88.02 L183.08 88.4 L182.54 88.85 L182.02 89.34 L181.52 89.89 L181.04 90.48 L180.6 91.11 L180.19 91.76 L179.83 92.45 L179.51 93.14 L179.23 93.85 L179.01 94.55 L178.84 95.25 L178.73 95.94 L178.67 96.6 L178.67 97.23 L178.73 97.83 L178.84 98.38 L179.01 98.89 L179.23 99.33 L179.51 99.72 L179.83 100.05 L180.19 100.31 L182.1 101.41 L182.51 101.6 L182.95 101.71 L183.42 101.75 L183.92 101.72 L184.45 101.62 L184.98 101.44 L185.53 101.19 L186.07 100.88 L186.62 100.5 L187.15 100.05 L187.68 99.56 L188.18 99.01 L188.65 98.42 L189.09 97.79 L189.5 97.14 L189.87 96.45 L190.19 95.76 L190.46 95.05 L190.68 94.35 L190.85 93.65 L190.97 92.96 L191.03 92.3 L191.03 91.67 L190.97 91.07 L190.85 90.52 L190.68 90.01 L190.46 89.57 L190.19 89.18 L189.87 88.85 L189.5 88.59Z" fill="#fff" stroke="#262626" stroke-width="0.88" />
<ellipse cx="185.8" cy="95" rx="7.4" ry="4.27" transform="rotate(-60 185.8 95)" fill="#fff" stroke="#262626" stroke-width="0.88" />
<ellipse cx="185.8" cy="95" rx="5.6" ry="3.23" transform="rotate(-60 185.8 95)" fill="none" stroke="#262626" stroke-width="1.12" />
<clipPath id="capc"><path d="M190.7 93.5L198.9 78.2L215 75L215 105L205 101Z"/></clipPath>
<g clip-path="url(#capc)">
<ellipse cx="194" cy="92.7" rx="17" ry="9.81" transform="rotate(-60 194 92.7)" fill="none" stroke="#262626" stroke-width="0.88" />
<ellipse cx="193.22" cy="92.25" rx="15.6" ry="9.01" transform="rotate(-60 193.22 92.25)" fill="none" stroke="#262626" stroke-width="0.75" />
<ellipse cx="192.44" cy="91.8" rx="14.4" ry="8.31" transform="rotate(-60 192.44 91.8)" fill="none" stroke="#262626" stroke-width="0.62" />
</g>
<line x1="190.9" y1="93.3" x2="198.9" y2="78.6" stroke="#262626" stroke-width="0.88" />
<line x1="193.6" y1="93.4" x2="200.6" y2="80.6" stroke="#262626" stroke-width="0.62" />
<line x1="196.2" y1="94.2" x2="202.2" y2="83" stroke="#262626" stroke-width="0.62" />
</g>
<line x1="157.73" y1="190.95" x2="246.73" y2="243.65" stroke="#505050" stroke-width="0.56" stroke-dasharray="6.5 2 1 2" stroke-linecap="butt"/>
<line x1="154" y1="182.71" x2="243" y2="235.41" stroke="#505050" stroke-width="0.56" stroke-dasharray="6.5 2 1 2" stroke-linecap="butt"/>
<line x1="145" y1="183.6" x2="234" y2="236.3" stroke="#505050" stroke-width="0.56" stroke-dasharray="6.5 2 1 2" stroke-linecap="butt"/>
<line x1="136" y1="193.1" x2="225" y2="245.8" stroke="#505050" stroke-width="0.56" stroke-dasharray="6.5 2 1 2" stroke-linecap="butt"/>
<line x1="132.27" y1="205.65" x2="221.27" y2="258.35" stroke="#505050" stroke-width="0.56" stroke-dasharray="6.5 2 1 2" stroke-linecap="butt"/>
<line x1="136" y1="213.89" x2="225" y2="266.59" stroke="#505050" stroke-width="0.56" stroke-dasharray="6.5 2 1 2" stroke-linecap="butt"/>
<line x1="145" y1="213" x2="234" y2="265.7" stroke="#505050" stroke-width="0.56" stroke-dasharray="6.5 2 1 2" stroke-linecap="butt"/>
<line x1="154" y1="203.5" x2="243" y2="256.2" stroke="#505050" stroke-width="0.56" stroke-dasharray="6.5 2 1 2" stroke-linecap="butt"/>
<path d="M266.77 178.31 L264.65 177.21 L262.42 176.3 L260.1 175.59 L257.69 175.06 L255.2 174.74 L252.63 174.61 L249.99 174.68 L247.29 174.95 L244.53 175.41 L241.73 176.07 L238.88 176.93 L236.01 177.97 L233.11 179.2 L230.19 180.62 L227.27 182.22 L224.34 184 L221.43 185.95 L218.53 188.06 L215.65 190.34 L212.81 192.77 L210.01 195.34 L207.25 198.06 L204.55 200.91 L201.91 203.89 L199.34 206.99 L196.84 210.19 L194.43 213.5 L192.11 216.89 L189.89 220.37 L187.77 223.92 L185.76 227.53 L183.86 231.19 L182.08 234.9 L180.42 238.64 L178.89 242.4 L177.5 246.17 L176.24 249.95 L175.12 253.71 L174.14 257.46 L173.31 261.18 L172.63 264.86 L172.09 268.49 L171.71 272.05 L171.48 275.55 L171.41 278.97 L171.48 282.3 L171.71 285.54 L172.09 288.67 L172.63 291.68 L173.31 294.57 L174.14 297.33 L175.12 299.95 L176.24 302.42 L177.5 304.74 L178.89 306.9 L180.42 308.9 L182.08 310.73 L183.86 312.38 L185.76 313.85 L187.77 315.14 L193.7 318.56 L195.82 319.66 L198.05 320.57 L200.37 321.29 L202.78 321.81 L205.27 322.14 L207.84 322.26 L210.48 322.19 L213.18 321.93 L215.94 321.46 L218.74 320.8 L221.59 319.95 L224.46 318.9 L227.36 317.67 L230.28 316.25 L233.2 314.65 L236.12 312.88 L239.04 310.93 L241.94 308.81 L244.81 306.54 L247.66 304.11 L250.46 301.53 L253.22 298.81 L255.92 295.96 L258.56 292.98 L261.13 289.89 L263.62 286.68 L266.03 283.38 L268.35 279.98 L270.58 276.51 L272.7 272.96 L274.71 269.35 L276.61 265.68 L278.39 261.98 L280.05 258.24 L281.58 254.47 L282.97 250.7 L284.23 246.93 L285.35 243.16 L286.33 239.41 L287.16 235.7 L287.84 232.02 L288.37 228.39 L288.75 224.82 L288.98 221.32 L289.06 217.9 L288.98 214.57 L288.75 211.34 L288.37 208.21 L287.84 205.2 L287.16 202.31 L286.33 199.55 L285.35 196.93 L284.23 194.45 L282.97 192.13 L281.58 189.97 L280.05 187.97 L278.39 186.15 L276.61 184.5 L274.71 183.02 L272.7 181.74Z" fill="#fff" stroke="#262626" stroke-width="0.62" />
<path d="M270.58 180.64 L264.65 177.21 L263.56 176.74 L269.49 180.16Z" fill="#484848" stroke="#222" stroke-width="0.5" />
<path d="M268.81 179.89 L262.87 176.47 L261.75 176.07 L267.68 179.49Z" fill="#484848" stroke="#222" stroke-width="0.5" />
<path d="M266.97 179.27 L261.04 175.85 L259.87 175.53 L265.81 178.95Z" fill="#484848" stroke="#222" stroke-width="0.5" />
<path d="M265.08 178.78 L259.15 175.35 L257.95 175.11 L263.88 178.53Z" fill="#484848" stroke="#222" stroke-width="0.5" />
<path d="M263.13 178.41 L257.2 174.98 L255.96 174.82 L261.9 178.24Z" fill="#484848" stroke="#222" stroke-width="0.5" />
<path d="M261.13 178.16 L255.2 174.74 L253.93 174.65 L259.86 178.08Z" fill="#484848" stroke="#222" stroke-width="0.5" />
<path d="M259.08 178.05 L253.15 174.62 L251.85 174.61 L257.79 178.04Z" fill="#484848" stroke="#222" stroke-width="0.5" />
<path d="M256.98 178.06 L251.05 174.63 L249.73 174.7 L255.66 178.12Z" fill="#484848" stroke="#222" stroke-width="0.5" />
<path d="M254.85 178.19 L248.91 174.77 L247.57 174.91 L253.5 178.34Z" fill="#484848" stroke="#222" stroke-width="0.5" />
<path d="M252.67 178.45 L246.74 175.03 L245.37 175.25 L251.31 178.68Z" fill="#484848" stroke="#222" stroke-width="0.5" />
<path d="M250.46 178.84 L244.53 175.41 L243.14 175.72 L249.08 179.14Z" fill="#484848" stroke="#222" stroke-width="0.5" />
<path d="M248.22 179.35 L242.29 175.93 L240.89 176.31 L246.82 179.73Z" fill="#484848" stroke="#222" stroke-width="0.5" />
<path d="M245.96 179.99 L240.02 176.56 L238.61 177.02 L244.54 180.44Z" fill="#484848" stroke="#222" stroke-width="0.5" />
<path d="M243.67 180.75 L237.74 177.32 L236.31 177.85 L242.24 181.28Z" fill="#484848" stroke="#222" stroke-width="0.5" />
<path d="M241.36 181.63 L235.43 178.2 L233.99 178.81 L239.92 182.23Z" fill="#484848" stroke="#222" stroke-width="0.5" />
<path d="M239.04 182.63 L233.11 179.2 L231.66 179.88 L237.59 183.31Z" fill="#484848" stroke="#222" stroke-width="0.5" />
<path d="M236.71 183.75 L230.78 180.32 L229.33 181.08 L235.26 184.5Z" fill="#484848" stroke="#222" stroke-width="0.5" />
<path d="M234.37 184.99 L228.44 181.56 L226.99 182.38 L232.92 185.81Z" fill="#484848" stroke="#222" stroke-width="0.5" />
<path d="M232.03 186.34 L226.1 182.91 L224.65 183.8 L230.58 187.23Z" fill="#484848" stroke="#222" stroke-width="0.5" />
<path d="M229.69 187.8 L223.76 184.37 L222.31 185.34 L228.25 188.76Z" fill="#484848" stroke="#222" stroke-width="0.5" />
<path d="M227.36 189.37 L221.43 185.95 L219.99 186.97 L225.92 190.4Z" fill="#484848" stroke="#222" stroke-width="0.5" />
<path d="M225.04 191.05 L219.11 187.62 L217.68 188.72 L223.61 192.14Z" fill="#484848" stroke="#222" stroke-width="0.5" />
<path d="M222.73 192.83 L216.8 189.41 L215.38 190.56 L221.31 193.99Z" fill="#484848" stroke="#222" stroke-width="0.5" />
<path d="M220.44 194.71 L214.51 191.29 L213.1 192.51 L219.04 195.93Z" fill="#484848" stroke="#222" stroke-width="0.5" />
<path d="M218.18 196.69 L212.25 193.27 L210.85 194.54 L216.79 197.97Z" fill="#484848" stroke="#222" stroke-width="0.5" />
<path d="M215.94 198.77 L210.01 195.34 L208.63 196.67 L214.56 200.1Z" fill="#484848" stroke="#222" stroke-width="0.5" />
<path d="M213.73 200.93 L207.8 197.51 L206.44 198.89 L212.38 202.32Z" fill="#484848" stroke="#222" stroke-width="0.5" />
<path d="M211.55 203.18 L205.62 199.76 L204.29 201.2 L210.22 204.62Z" fill="#484848" stroke="#222" stroke-width="0.5" />
<path d="M209.42 205.52 L203.48 202.09 L202.18 203.58 L208.11 207Z" fill="#484848" stroke="#222" stroke-width="0.5" />
<path d="M207.32 207.93 L201.39 204.5 L200.11 206.03 L206.04 209.46Z" fill="#484848" stroke="#222" stroke-width="0.5" />
<path d="M205.27 210.41 L199.34 206.99 L198.09 208.56 L204.02 211.99Z" fill="#484848" stroke="#222" stroke-width="0.5" />
<path d="M203.27 212.97 L197.34 209.54 L196.12 211.16 L202.05 214.58Z" fill="#484848" stroke="#222" stroke-width="0.5" />
<path d="M201.32 215.59 L195.39 212.16 L194.21 213.82 L200.14 217.24Z" fill="#484848" stroke="#222" stroke-width="0.5" />
<path d="M199.43 218.27 L193.49 214.84 L192.35 216.53 L198.28 219.96Z" fill="#484848" stroke="#222" stroke-width="0.5" />
<path d="M197.59 221 L191.66 217.58 L190.56 219.3 L196.49 222.73Z" fill="#484848" stroke="#222" stroke-width="0.5" />
<path d="M195.82 223.79 L189.89 220.37 L188.82 222.12 L194.76 225.54Z" fill="#484848" stroke="#222" stroke-width="0.5" />
<path d="M194.12 226.63 L188.18 223.2 L187.16 224.98 L193.09 228.4Z" fill="#484848" stroke="#222" stroke-width="0.5" />
<path d="M192.48 229.5 L186.55 226.08 L185.57 227.88 L191.5 231.3Z" fill="#484848" stroke="#222" stroke-width="0.5" />
<path d="M190.91 232.41 L184.98 228.99 L184.05 230.81 L189.98 234.23Z" fill="#484848" stroke="#222" stroke-width="0.5" />
<path d="M189.42 235.36 L183.49 231.93 L182.6 233.77 L188.54 237.19Z" fill="#484848" stroke="#222" stroke-width="0.5" />
<path d="M188.01 238.32 L182.08 234.9 L181.24 236.75 L187.17 240.18Z" fill="#484848" stroke="#222" stroke-width="0.5" />
<path d="M186.67 241.31 L180.74 237.89 L179.95 239.75 L185.89 243.18Z" fill="#484848" stroke="#222" stroke-width="0.5" />
<path d="M185.42 244.32 L179.49 240.89 L178.75 242.76 L184.68 246.19Z" fill="#484848" stroke="#222" stroke-width="0.5" />
<path d="M184.25 247.33 L178.32 243.91 L177.63 245.78 L183.57 249.21Z" fill="#484848" stroke="#222" stroke-width="0.5" />
<path d="M183.16 250.35 L177.23 246.93 L176.6 248.8 L182.54 252.23Z" fill="#484848" stroke="#222" stroke-width="0.5" />
<path d="M182.17 253.37 L176.24 249.95 L175.66 251.82 L181.6 255.24Z" fill="#484848" stroke="#222" stroke-width="0.5" />
<path d="M181.26 256.39 L175.33 252.96 L174.81 254.83 L180.75 258.25Z" fill="#484848" stroke="#222" stroke-width="0.5" />
<path d="M180.45 259.39 L174.51 255.97 L174.05 257.82 L179.99 261.25Z" fill="#484848" stroke="#222" stroke-width="0.5" />
<path d="M179.72 262.38 L173.79 258.95 L173.39 260.79 L179.32 264.22Z" fill="#484848" stroke="#222" stroke-width="0.5" />
<path d="M179.09 265.34 L173.16 261.92 L172.82 263.74 L178.75 267.17Z" fill="#484848" stroke="#222" stroke-width="0.5" />
<path d="M178.56 268.28 L172.63 264.86 L172.34 266.66 L178.28 270.09Z" fill="#484848" stroke="#222" stroke-width="0.5" />
<path d="M178.12 271.19 L172.19 267.76 L171.97 269.55 L177.9 272.97Z" fill="#484848" stroke="#222" stroke-width="0.5" />
<path d="M177.78 274.06 L171.85 270.63 L171.68 272.39 L177.62 275.82Z" fill="#484848" stroke="#222" stroke-width="0.5" />
<path d="M177.54 276.89 L171.6 273.46 L171.5 275.19 L177.43 278.62Z" fill="#484848" stroke="#222" stroke-width="0.5" />
<path d="M177.39 279.67 L171.46 276.24 L171.41 277.94 L177.35 281.37Z" fill="#484848" stroke="#222" stroke-width="0.5" />
<path d="M177.34 282.4 L171.41 278.97 L171.43 280.64 L177.36 284.06Z" fill="#484848" stroke="#222" stroke-width="0.5" />
<path d="M177.39 285.07 L171.46 281.65 L171.54 283.27 L177.47 286.7Z" fill="#484848" stroke="#222" stroke-width="0.5" />
<path d="M177.54 287.68 L171.6 284.26 L171.74 285.84 L177.68 289.27Z" fill="#484848" stroke="#222" stroke-width="0.5" />
<path d="M177.78 290.23 L171.85 286.8 L172.05 288.35 L177.98 291.77Z" fill="#484848" stroke="#222" stroke-width="0.5" />
<path d="M178.12 292.7 L172.19 289.28 L172.45 290.78 L178.38 294.2Z" fill="#484848" stroke="#222" stroke-width="0.5" />
<path d="M178.56 295.1 L172.63 291.68 L172.95 293.13 L178.88 296.55Z" fill="#484848" stroke="#222" stroke-width="0.5" />
<path d="M179.09 297.43 L173.16 294 L173.54 295.4 L179.47 298.82Z" fill="#484848" stroke="#222" stroke-width="0.5" />
<path d="M179.72 299.67 L173.79 296.24 L174.23 297.58 L180.16 301.01Z" fill="#484848" stroke="#222" stroke-width="0.5" />
<path d="M180.45 301.82 L174.51 298.39 L175.01 299.68 L180.94 303.11Z" fill="#484848" stroke="#222" stroke-width="0.5" />
<path d="M181.26 303.88 L175.33 300.45 L175.88 301.68 L181.81 305.11Z" fill="#484848" stroke="#222" stroke-width="0.5" />
<path d="M182.17 305.85 L176.24 302.42 L176.84 303.59 L182.78 307.02Z" fill="#484848" stroke="#222" stroke-width="0.5" />
<path d="M183.16 307.72 L177.23 304.29 L177.89 305.4 L183.83 308.82Z" fill="#484848" stroke="#222" stroke-width="0.5" />
<path d="M184.25 309.48 L178.32 306.06 L179.03 307.1 L184.96 310.53Z" fill="#484848" stroke="#222" stroke-width="0.5" />
<path d="M185.42 311.15 L179.49 307.72 L180.25 308.7 L186.19 312.13Z" fill="#484848" stroke="#222" stroke-width="0.5" />
<path d="M186.67 312.71 L180.74 309.28 L181.56 310.19 L187.49 313.62Z" fill="#484848" stroke="#222" stroke-width="0.5" />
<path d="M188.01 314.15 L182.08 310.73 L182.94 311.57 L188.88 314.99Z" fill="#484848" stroke="#222" stroke-width="0.5" />
<path d="M189.42 315.49 L183.49 312.06 L184.41 312.83 L190.34 316.26Z" fill="#484848" stroke="#222" stroke-width="0.5" />
<path d="M190.91 316.71 L184.98 313.28 L185.94 313.98 L191.88 317.41Z" fill="#484848" stroke="#222" stroke-width="0.5" />
<path d="M192.48 317.81 L186.55 314.39 L187.55 315.01 L193.49 318.44Z" fill="#484848" stroke="#222" stroke-width="0.5" />
<path d="M193.22 233.38 L191.11 232.78 L190.46 233.29 L190.46 234.06 L192.42 234.93Z" fill="#6a6a6a" stroke="#333" stroke-width="0.56" />
<path d="M191.81 236.16 L189.64 235.7 L188.99 236.24 L189.01 237 L191.05 237.73Z" fill="#6a6a6a" stroke="#333" stroke-width="0.56" />
<path d="M190.47 238.97 L188.24 238.65 L187.6 239.22 L187.65 239.96 L189.75 240.55Z" fill="#6a6a6a" stroke="#333" stroke-width="0.56" />
<path d="M189.2 241.8 L186.92 241.62 L186.29 242.21 L186.37 242.93 L188.53 243.38Z" fill="#6a6a6a" stroke="#333" stroke-width="0.56" />
<path d="M188.02 244.64 L185.69 244.6 L185.06 245.22 L185.17 245.92 L187.39 246.23Z" fill="#6a6a6a" stroke="#333" stroke-width="0.56" />
<path d="M186.91 247.49 L184.53 247.6 L183.91 248.24 L184.05 248.91 L186.33 249.09Z" fill="#6a6a6a" stroke="#333" stroke-width="0.56" />
<path d="M185.89 250.34 L183.46 250.59 L182.86 251.26 L183.02 251.91 L185.35 251.94Z" fill="#6a6a6a" stroke="#333" stroke-width="0.56" />
<path d="M184.95 253.2 L182.48 253.59 L181.89 254.28 L182.08 254.91 L184.46 254.8Z" fill="#6a6a6a" stroke="#333" stroke-width="0.56" />
<path d="M184.09 256.05 L181.59 256.58 L181.01 257.29 L181.22 257.89 L183.65 257.64Z" fill="#6a6a6a" stroke="#333" stroke-width="0.56" />
<path d="M183.32 258.89 L180.79 259.56 L180.22 260.29 L180.46 260.86 L182.92 260.47Z" fill="#6a6a6a" stroke="#333" stroke-width="0.56" />
<path d="M182.63 261.71 L180.08 262.52 L179.52 263.27 L179.79 263.82 L182.29 263.29Z" fill="#6a6a6a" stroke="#333" stroke-width="0.56" />
<path d="M182.04 264.52 L179.46 265.46 L178.92 266.23 L179.22 266.75 L181.75 266.08Z" fill="#6a6a6a" stroke="#333" stroke-width="0.56" />
<path d="M181.53 267.3 L178.94 268.38 L178.42 269.16 L178.74 269.65 L181.29 268.84Z" fill="#6a6a6a" stroke="#333" stroke-width="0.56" />
<path d="M181.12 270.04 L178.51 271.26 L178.01 272.05 L178.35 272.52 L180.93 271.57Z" fill="#6a6a6a" stroke="#333" stroke-width="0.56" />
<path d="M180.8 272.76 L178.18 274.1 L177.7 274.91 L178.06 275.34 L180.66 274.26Z" fill="#6a6a6a" stroke="#333" stroke-width="0.56" />
<path d="M180.56 275.43 L177.94 276.91 L177.48 277.73 L177.87 278.13 L180.48 276.91Z" fill="#6a6a6a" stroke="#333" stroke-width="0.56" />
<path d="M180.43 278.06 L177.8 279.66 L177.36 280.49 L177.77 280.86 L180.39 279.51Z" fill="#6a6a6a" stroke="#333" stroke-width="0.56" />
<path d="M180.38 280.64 L177.76 282.37 L177.34 283.21 L177.78 283.54 L180.39 282.06Z" fill="#6a6a6a" stroke="#333" stroke-width="0.56" />
<path d="M180.43 283.17 L177.82 285.02 L177.42 285.86 L177.88 286.16 L180.49 284.56Z" fill="#6a6a6a" stroke="#333" stroke-width="0.56" />
<path d="M180.56 285.64 L177.97 287.6 L177.6 288.45 L178.07 288.72 L180.68 287Z" fill="#6a6a6a" stroke="#333" stroke-width="0.56" />
<path d="M180.8 288.05 L178.22 290.12 L177.87 290.98 L178.36 291.21 L180.97 289.37Z" fill="#6a6a6a" stroke="#333" stroke-width="0.56" />
<path d="M181.12 290.39 L178.57 292.57 L178.24 293.43 L178.75 293.63 L181.34 291.67Z" fill="#6a6a6a" stroke="#333" stroke-width="0.56" />
<path d="M181.53 292.66 L179.01 294.95 L178.71 295.81 L179.24 295.97 L181.81 293.9Z" fill="#6a6a6a" stroke="#333" stroke-width="0.56" />
<path d="M182.04 294.85 L179.55 297.25 L179.27 298.11 L179.82 298.23 L182.36 296.05Z" fill="#6a6a6a" stroke="#333" stroke-width="0.56" />
<path d="M182.63 296.97 L180.18 299.46 L179.93 300.32 L180.49 300.41 L183.01 298.12Z" fill="#6a6a6a" stroke="#333" stroke-width="0.56" />
<path d="M183.32 299 L180.91 301.59 L180.68 302.45 L181.26 302.5 L183.74 300.11Z" fill="#6a6a6a" stroke="#333" stroke-width="0.56" />
<path d="M184.09 300.95 L181.72 303.63 L181.52 304.48 L182.11 304.5 L184.56 302.01Z" fill="#6a6a6a" stroke="#333" stroke-width="0.56" />
<path d="M184.95 302.81 L182.63 305.57 L182.46 306.42 L183.06 306.4 L185.46 303.82Z" fill="#6a6a6a" stroke="#333" stroke-width="0.56" />
<path d="M185.89 304.58 L183.63 307.42 L183.48 308.26 L184.09 308.2 L186.45 305.53Z" fill="#6a6a6a" stroke="#333" stroke-width="0.56" />
<path d="M186.91 306.25 L184.71 309.17 L184.59 309.99 L185.21 309.91 L187.52 307.15Z" fill="#6a6a6a" stroke="#333" stroke-width="0.56" />
<path d="M188.02 307.83 L185.88 310.81 L185.79 311.63 L186.42 311.5 L188.67 308.67Z" fill="#6a6a6a" stroke="#333" stroke-width="0.56" />
<path d="M189.2 309.3 L187.13 312.35 L187.06 313.15 L187.7 312.99 L189.9 310.08Z" fill="#6a6a6a" stroke="#333" stroke-width="0.56" />
<path d="M190.47 310.67 L188.46 313.78 L188.42 314.57 L189.07 314.37 L191.21 311.39Z" fill="#6a6a6a" stroke="#333" stroke-width="0.56" />
<path d="M191.81 311.93 L189.87 315.09 L189.86 315.87 L190.51 315.64 L192.59 312.59Z" fill="#6a6a6a" stroke="#333" stroke-width="0.56" />
<path d="M193.22 313.09 L191.36 316.3 L191.38 317.05 L192.03 316.79 L194.04 313.68Z" fill="#6a6a6a" stroke="#333" stroke-width="0.56" />
<path d="M194.7 314.13 L192.92 317.38 L192.96 318.12 L193.62 317.82 L195.55 314.67Z" fill="#6a6a6a" stroke="#333" stroke-width="0.56" />
<path d="M196.24 315.06 L194.55 318.35 L194.62 319.07 L195.28 318.74 L197.14 315.53Z" fill="#6a6a6a" stroke="#333" stroke-width="0.56" />
<path d="M197.86 315.88 L196.24 319.2 L196.35 319.9 L197.01 319.53 L198.79 316.29Z" fill="#6a6a6a" stroke="#333" stroke-width="0.56" />
<path d="M199.53 316.58 L198.01 319.93 L198.14 320.61 L198.8 320.21 L200.49 316.92Z" fill="#6a6a6a" stroke="#333" stroke-width="0.56" />
<path d="M201.26 317.17 L199.83 320.53 L199.99 321.19 L200.65 320.76 L202.26 317.44Z" fill="#6a6a6a" stroke="#333" stroke-width="0.56" />
<path d="M203.05 317.64 L201.71 321.01 L201.9 321.65 L202.56 321.19 L204.08 317.85Z" fill="#6a6a6a" stroke="#333" stroke-width="0.56" />
<path d="M204.9 317.99 L203.65 321.37 L203.86 321.98 L204.52 321.49 L205.95 318.13Z" fill="#6a6a6a" stroke="#333" stroke-width="0.56" />
<path d="M206.79 318.22 L205.64 321.6 L205.88 322.18 L206.53 321.67 L207.87 318.29Z" fill="#6a6a6a" stroke="#333" stroke-width="0.56" />
<path d="M208.73 318.33 L207.68 321.71 L207.94 322.26 L208.59 321.72 L209.83 318.34Z" fill="#6a6a6a" stroke="#333" stroke-width="0.56" />
<path d="M210.71 318.32 L209.76 321.69 L210.05 322.22 L210.69 321.64 L211.84 318.26Z" fill="#6a6a6a" stroke="#333" stroke-width="0.56" />
<path d="M212.73 318.19 L211.89 321.55 L212.2 322.04 L212.84 321.44 L213.88 318.07Z" fill="#6a6a6a" stroke="#333" stroke-width="0.56" />
<path d="M214.79 317.95 L214.05 321.28 L214.39 321.75 L215.01 321.12 L215.95 317.76Z" fill="#6a6a6a" stroke="#333" stroke-width="0.56" />
<path d="M216.88 317.58 L216.25 320.88 L216.61 321.32 L217.22 320.67 L218.06 317.32Z" fill="#6a6a6a" stroke="#333" stroke-width="0.56" />
<path d="M219 317.1 L218.47 320.37 L218.86 320.77 L219.46 320.1 L220.19 316.77Z" fill="#6a6a6a" stroke="#333" stroke-width="0.56" />
<path d="M221.14 316.49 L220.72 319.72 L221.13 320.1 L221.72 319.4 L222.35 316.11Z" fill="#6a6a6a" stroke="#333" stroke-width="0.56" />
<path d="M223.3 315.78 L222.99 318.96 L223.42 319.3 L224 318.59 L224.52 315.32Z" fill="#6a6a6a" stroke="#333" stroke-width="0.56" />
<path d="M225.48 314.94 L225.29 318.08 L225.73 318.38 L226.3 317.65 L226.71 314.43Z" fill="#6a6a6a" stroke="#333" stroke-width="0.56" />
<path d="M227.68 314 L227.59 317.07 L228.06 317.35 L228.61 316.59 L228.91 313.42Z" fill="#6a6a6a" stroke="#333" stroke-width="0.56" />
<path d="M229.88 312.94 L229.9 315.95 L230.39 316.19 L230.92 315.42 L231.12 312.3Z" fill="#6a6a6a" stroke="#333" stroke-width="0.56" />
<path d="M232.09 311.77 L232.22 314.72 L232.73 314.92 L233.25 314.14 L233.33 311.07Z" fill="#6a6a6a" stroke="#333" stroke-width="0.56" />
<path d="M234.31 310.49 L234.55 313.37 L235.07 313.54 L235.57 312.74 L235.54 309.73Z" fill="#6a6a6a" stroke="#333" stroke-width="0.56" />
<path d="M236.52 309.11 L236.87 311.91 L237.41 312.04 L237.89 311.23 L237.75 308.29Z" fill="#6a6a6a" stroke="#333" stroke-width="0.56" />
<path d="M238.72 307.62 L239.18 310.34 L239.74 310.44 L240.19 309.61 L239.95 306.74Z" fill="#6a6a6a" stroke="#333" stroke-width="0.56" />
<path d="M240.92 306.03 L241.48 308.66 L242.05 308.73 L242.49 307.89 L242.14 305.1Z" fill="#6a6a6a" stroke="#333" stroke-width="0.56" />
<path d="M243.1 304.35 L243.77 306.89 L244.36 306.91 L244.77 306.07 L244.31 303.36Z" fill="#6a6a6a" stroke="#333" stroke-width="0.56" />
<path d="M245.26 302.57 L246.04 305.01 L246.64 305 L247.03 304.15 L246.46 301.53Z" fill="#6a6a6a" stroke="#333" stroke-width="0.56" />
<path d="M247.4 300.7 L248.29 303.04 L248.9 302.99 L249.27 302.14 L248.59 299.61Z" fill="#6a6a6a" stroke="#333" stroke-width="0.56" />
<path d="M249.52 298.73 L250.51 300.97 L251.13 300.89 L251.48 300.04 L250.7 297.6Z" fill="#6a6a6a" stroke="#333" stroke-width="0.56" />
<path d="M251.61 296.69 L252.7 298.82 L253.33 298.7 L253.65 297.84 L252.77 295.51Z" fill="#6a6a6a" stroke="#333" stroke-width="0.56" />
<path d="M253.67 294.56 L254.85 296.58 L255.49 296.43 L255.79 295.57 L254.81 293.33Z" fill="#6a6a6a" stroke="#333" stroke-width="0.56" />
<path d="M255.69 292.35 L256.97 294.26 L257.62 294.07 L257.89 293.21 L256.8 291.09Z" fill="#6a6a6a" stroke="#333" stroke-width="0.56" />
<path d="M257.67 290.07 L259.05 291.86 L259.7 291.63 L259.95 290.78 L258.76 288.77Z" fill="#6a6a6a" stroke="#333" stroke-width="0.56" />
<path d="M259.61 287.72 L261.08 289.39 L261.74 289.13 L261.96 288.28 L260.68 286.38Z" fill="#6a6a6a" stroke="#333" stroke-width="0.56" />
<path d="M261.5 285.31 L263.06 286.84 L263.72 286.55 L263.92 285.71 L262.54 283.93Z" fill="#6a6a6a" stroke="#333" stroke-width="0.56" />
<path d="M263.35 282.83 L264.99 284.24 L265.65 283.91 L265.82 283.07 L264.35 281.42Z" fill="#6a6a6a" stroke="#333" stroke-width="0.56" />
<path d="M265.14 280.3 L266.86 281.57 L267.53 281.22 L267.67 280.38 L266.11 278.85Z" fill="#6a6a6a" stroke="#333" stroke-width="0.56" />
<path d="M266.87 277.71 L268.68 278.85 L269.35 278.46 L269.46 277.64 L267.81 276.24Z" fill="#6a6a6a" stroke="#333" stroke-width="0.56" />
<path d="M268.54 275.07 L270.43 276.08 L271.1 275.66 L271.18 274.85 L269.45 273.58Z" fill="#6a6a6a" stroke="#333" stroke-width="0.56" />
<path d="M270.16 272.39 L272.12 273.27 L272.78 272.81 L272.84 272.02 L271.03 270.87Z" fill="#6a6a6a" stroke="#333" stroke-width="0.56" />
<path d="M271.7 269.67 L273.74 270.41 L274.4 269.93 L274.43 269.14 L272.54 268.14Z" fill="#6a6a6a" stroke="#333" stroke-width="0.56" />
<path d="M273.18 266.92 L275.29 267.52 L275.94 267.01 L275.94 266.24 L273.98 265.37Z" fill="#6a6a6a" stroke="#333" stroke-width="0.56" />
<path d="M274.59 264.14 L276.76 264.6 L277.41 264.06 L277.39 263.3 L275.35 262.57Z" fill="#6a6a6a" stroke="#333" stroke-width="0.56" />
<path d="M275.93 261.33 L278.16 261.65 L278.8 261.08 L278.75 260.34 L276.65 259.75Z" fill="#6a6a6a" stroke="#333" stroke-width="0.56" />
<path d="M277.2 258.5 L279.48 258.68 L280.11 258.09 L280.03 257.37 L277.87 256.92Z" fill="#6a6a6a" stroke="#333" stroke-width="0.56" />
<path d="M278.38 255.66 L280.71 255.7 L281.34 255.08 L281.23 254.38 L279.01 254.07Z" fill="#6a6a6a" stroke="#333" stroke-width="0.56" />
<path d="M279.49 252.81 L281.87 252.7 L282.49 252.06 L282.35 251.39 L280.07 251.21Z" fill="#6a6a6a" stroke="#333" stroke-width="0.56" />
<path d="M280.51 249.96 L282.94 249.71 L283.54 249.04 L283.38 248.39 L281.05 248.36Z" fill="#6a6a6a" stroke="#333" stroke-width="0.56" />
<path d="M281.45 247.1 L283.92 246.71 L284.51 246.02 L284.32 245.39 L281.94 245.5Z" fill="#6a6a6a" stroke="#333" stroke-width="0.56" />
<path d="M282.31 244.25 L284.81 243.72 L285.39 243.01 L285.18 242.41 L282.75 242.66Z" fill="#6a6a6a" stroke="#333" stroke-width="0.56" />
<path d="M283.08 241.41 L285.61 240.74 L286.18 240.01 L285.94 239.44 L283.48 239.83Z" fill="#6a6a6a" stroke="#333" stroke-width="0.56" />
<path d="M283.77 238.59 L286.32 237.78 L286.88 237.03 L286.61 236.48 L284.11 237.01Z" fill="#6a6a6a" stroke="#333" stroke-width="0.56" />
<path d="M284.36 235.78 L286.94 234.84 L287.48 234.07 L287.18 233.55 L284.65 234.22Z" fill="#6a6a6a" stroke="#333" stroke-width="0.56" />
<path d="M284.87 233 L287.46 231.92 L287.98 231.14 L287.66 230.65 L285.11 231.46Z" fill="#6a6a6a" stroke="#333" stroke-width="0.56" />
<path d="M285.28 230.26 L287.89 229.04 L288.39 228.25 L288.05 227.78 L285.47 228.73Z" fill="#6a6a6a" stroke="#333" stroke-width="0.56" />
<path d="M285.6 227.54 L288.22 226.2 L288.7 225.39 L288.34 224.96 L285.74 226.04Z" fill="#6a6a6a" stroke="#333" stroke-width="0.56" />
<path d="M285.84 224.87 L288.46 223.39 L288.92 222.57 L288.53 222.17 L285.92 223.39Z" fill="#6a6a6a" stroke="#333" stroke-width="0.56" />
<path d="M285.97 222.24 L288.6 220.64 L289.04 219.81 L288.63 219.44 L286.01 220.79Z" fill="#6a6a6a" stroke="#333" stroke-width="0.56" />
<path d="M286.02 219.66 L288.64 217.93 L289.06 217.09 L288.62 216.76 L286.01 218.24Z" fill="#6a6a6a" stroke="#333" stroke-width="0.56" />
<path d="M285.97 217.13 L288.58 215.28 L288.98 214.44 L288.52 214.14 L285.91 215.74Z" fill="#6a6a6a" stroke="#333" stroke-width="0.56" />
<path d="M285.84 214.66 L288.43 212.7 L288.8 211.85 L288.33 211.58 L285.72 213.3Z" fill="#6a6a6a" stroke="#333" stroke-width="0.56" />
<path d="M285.6 212.25 L288.18 210.18 L288.53 209.32 L288.04 209.09 L285.43 210.93Z" fill="#6a6a6a" stroke="#333" stroke-width="0.56" />
<path d="M285.28 209.91 L287.83 207.73 L288.16 206.87 L287.65 206.67 L285.06 208.63Z" fill="#6a6a6a" stroke="#333" stroke-width="0.56" />
<path d="M284.87 207.64 L287.39 205.35 L287.69 204.49 L287.16 204.33 L284.59 206.4Z" fill="#6a6a6a" stroke="#333" stroke-width="0.56" />
<path d="M284.36 205.45 L286.85 203.05 L287.13 202.19 L286.58 202.07 L284.04 204.25Z" fill="#6a6a6a" stroke="#333" stroke-width="0.56" />
<path d="M283.77 203.33 L286.22 200.84 L286.47 199.98 L285.91 199.89 L283.39 202.18Z" fill="#6a6a6a" stroke="#333" stroke-width="0.56" />
<path d="M283.08 201.3 L285.49 198.71 L285.72 197.85 L285.14 197.8 L282.66 200.19Z" fill="#6a6a6a" stroke="#333" stroke-width="0.56" />
<path d="M282.31 199.35 L284.68 196.67 L284.88 195.82 L284.29 195.8 L281.84 198.29Z" fill="#6a6a6a" stroke="#333" stroke-width="0.56" />
<path d="M281.45 197.49 L283.77 194.73 L283.94 193.88 L283.34 193.9 L280.94 196.48Z" fill="#6a6a6a" stroke="#333" stroke-width="0.56" />
<path d="M280.51 195.72 L282.77 192.88 L282.92 192.04 L282.31 192.1 L279.95 194.77Z" fill="#6a6a6a" stroke="#333" stroke-width="0.56" />
<path d="M279.49 194.05 L281.69 191.13 L281.81 190.31 L281.19 190.39 L278.88 193.15Z" fill="#6a6a6a" stroke="#333" stroke-width="0.56" />
<path d="M278.38 192.47 L280.52 189.49 L280.61 188.67 L279.98 188.8 L277.73 191.63Z" fill="#6a6a6a" stroke="#333" stroke-width="0.56" />
<path d="M277.2 191 L279.27 187.95 L279.34 187.15 L278.7 187.31 L276.5 190.22Z" fill="#6a6a6a" stroke="#333" stroke-width="0.56" />
<path d="M275.93 189.63 L277.94 186.52 L277.98 185.73 L277.33 185.93 L275.19 188.91Z" fill="#6a6a6a" stroke="#333" stroke-width="0.56" />
<path d="M274.59 188.37 L276.53 185.21 L276.54 184.43 L275.89 184.66 L273.81 187.71Z" fill="#6a6a6a" stroke="#333" stroke-width="0.56" />
<path d="M273.18 187.21 L275.04 184 L275.02 183.25 L274.37 183.51 L272.36 186.62Z" fill="#6a6a6a" stroke="#333" stroke-width="0.56" />
<path d="M271.7 186.17 L273.48 182.92 L273.44 182.18 L272.78 182.48 L270.85 185.63Z" fill="#6a6a6a" stroke="#333" stroke-width="0.56" />
<path d="M270.16 185.24 L271.85 181.95 L271.78 181.23 L271.12 181.56 L269.26 184.77Z" fill="#6a6a6a" stroke="#333" stroke-width="0.56" />
<path d="M272 181.35 L267.49 179.43 L262.58 178.33 L257.34 178.04 L251.82 178.59 L246.08 179.95 L240.2 182.11 L234.24 185.06 L228.27 188.75 L222.35 193.14 L216.56 198.18 L210.96 203.82 L205.61 209.99 L200.58 216.62 L195.92 223.64 L191.69 230.95" fill="none" stroke="#262626" stroke-width="1.12" />
<path d="M275.13 185.32 L271 182.63 L266.42 180.75 L261.44 179.71 L256.11 179.53 L250.51 180.2 L244.7 181.73 L238.74 184.08 L232.72 187.23 L226.71 191.15 L220.77 195.78 L214.99 201.07 L209.42 206.95 L204.15 213.36 L199.22 220.22 L194.71 227.44 L190.67 234.93" fill="none" stroke="#777" stroke-width="0.56" />
<path d="M274.26 186.66 L270.22 184.02 L265.74 182.18 L260.86 181.17 L255.64 180.99 L250.15 181.65 L244.46 183.14 L238.63 185.44 L232.73 188.53 L226.84 192.37 L221.03 196.9 L215.36 202.08 L209.91 207.85 L204.75 214.12 L199.93 220.84 L195.51 227.91 L191.55 235.25" fill="none" stroke="#777" stroke-width="0.56" />
<ellipse cx="233.2" cy="250.15" rx="74.5" ry="43.01" transform="rotate(-60 233.2 250.15)" fill="#fff" stroke="#262626" stroke-width="0.88" />
<ellipse cx="233.2" cy="250.15" rx="73.3" ry="42.32" transform="rotate(-60 233.2 250.15)" fill="none" stroke="#262626" stroke-width="1" />
<ellipse cx="233.2" cy="250.15" rx="72" ry="41.57" transform="rotate(-60 233.2 250.15)" fill="none" stroke="#777" stroke-width="0.56" />
<ellipse cx="233.2" cy="250.15" rx="70.7" ry="40.82" transform="rotate(-60 233.2 250.15)" fill="none" stroke="#777" stroke-width="0.56" />
<ellipse cx="233.2" cy="250.15" rx="69.3" ry="40.01" transform="rotate(-60 233.2 250.15)" fill="none" stroke="#262626" stroke-width="0.75" />
<path d="M277.24 222.6 L277.21 221.61 L277.13 220.75 L276.99 220.01 L276.8 219.43 L276.55 219 L276.27 218.74 L275.94 218.65 L275.58 218.73 L275.19 218.97 L274.78 219.39 L274.35 219.96 L273.92 220.68 L273.48 221.54 L273.05 222.52 L272.64 223.6 L272.25 224.77 L271.89 226.01 L271.56 227.29 L271.28 228.6 L271.04 229.9 L270.84 231.19 L270.7 232.43 L270.62 233.61 L270.59 234.7 L270.62 235.69 L270.7 236.56 L270.84 237.29 L271.04 237.87 L271.28 238.3 L271.56 238.56 L271.89 238.65 L272.25 238.58 L272.64 238.33 L273.05 237.91 L273.48 237.34 L273.92 236.62 L274.35 235.76 L274.78 234.78 L275.19 233.7 L275.58 232.53 L275.94 231.29 L276.27 230.01 L276.55 228.7 L276.8 227.4 L276.99 226.11 L277.13 224.87 L277.21 223.7Z" fill="#fff" stroke="#262626" stroke-width="0.88" />
<clipPath id="w0"><path d="M277.24 222.6 L277.21 221.61 L277.13 220.75 L276.99 220.01 L276.8 219.43 L276.55 219 L276.27 218.74 L275.94 218.65 L275.58 218.73 L275.19 218.97 L274.78 219.39 L274.35 219.96 L273.92 220.68 L273.48 221.54 L273.05 222.52 L272.64 223.6 L272.25 224.77 L271.89 226.01 L271.56 227.29 L271.28 228.6 L271.04 229.9 L270.84 231.19 L270.7 232.43 L270.62 233.61 L270.59 234.7 L270.62 235.69 L270.7 236.56 L270.84 237.29 L271.04 237.87 L271.28 238.3 L271.56 238.56 L271.89 238.65 L272.25 238.58 L272.64 238.33 L273.05 237.91 L273.48 237.34 L273.92 236.62 L274.35 235.76 L274.78 234.78 L275.19 233.7 L275.58 232.53 L275.94 231.29 L276.27 230.01 L276.55 228.7 L276.8 227.4 L276.99 226.11 L277.13 224.87 L277.21 223.7Z"/></clipPath>
<g clip-path="url(#w0)">
<ellipse cx="271.44" cy="227.22" rx="9.76" ry="5.63" transform="rotate(-60 271.44 227.22)" fill="none" stroke="#262626" stroke-width="0.75" />
<clipPath id="wb0"><ellipse cx="271.44" cy="227.22" rx="9.76" ry="5.63" transform="rotate(-60 271.44 227.22)"/></clipPath>
<g clip-path="url(#wb0)">
<line x1="157.73" y1="190.95" x2="246.73" y2="243.65" stroke="#505050" stroke-width="0.56" stroke-dasharray="6.5 2 1 2" stroke-linecap="butt"/>
<line x1="154" y1="182.71" x2="243" y2="235.41" stroke="#505050" stroke-width="0.56" stroke-dasharray="6.5 2 1 2" stroke-linecap="butt"/>
<line x1="145" y1="183.6" x2="234" y2="236.3" stroke="#505050" stroke-width="0.56" stroke-dasharray="6.5 2 1 2" stroke-linecap="butt"/>
<line x1="136" y1="193.1" x2="225" y2="245.8" stroke="#505050" stroke-width="0.56" stroke-dasharray="6.5 2 1 2" stroke-linecap="butt"/>
<line x1="132.27" y1="205.65" x2="221.27" y2="258.35" stroke="#505050" stroke-width="0.56" stroke-dasharray="6.5 2 1 2" stroke-linecap="butt"/>
<line x1="136" y1="213.89" x2="225" y2="266.59" stroke="#505050" stroke-width="0.56" stroke-dasharray="6.5 2 1 2" stroke-linecap="butt"/>
<line x1="145" y1="213" x2="234" y2="265.7" stroke="#505050" stroke-width="0.56" stroke-dasharray="6.5 2 1 2" stroke-linecap="butt"/>
<line x1="154" y1="203.5" x2="243" y2="256.2" stroke="#505050" stroke-width="0.56" stroke-dasharray="6.5 2 1 2" stroke-linecap="butt"/>
</g></g>
<path d="M266.77 197.75 L266.41 196.57 L265.97 195.5 L265.47 194.56 L264.92 193.77 L264.33 193.14 L263.71 192.68 L263.06 192.4 L262.4 192.31 L261.74 192.4 L261.09 192.68 L260.47 193.14 L259.87 193.77 L259.32 194.56 L258.83 195.5 L258.39 196.57 L258.02 197.75 L257.73 199.03 L257.52 200.38 L257.39 201.78 L257.35 203.2 L257.39 204.62 L257.52 206.02 L257.73 207.36 L258.03 208.64 L258.39 209.83 L258.83 210.9 L259.33 211.83 L259.88 212.63 L260.47 213.26 L261.1 213.71 L261.74 213.99 L262.4 214.08 L263.06 213.99 L263.71 213.71 L264.34 213.26 L264.93 212.63 L265.48 211.83 L265.97 210.9 L266.41 209.83 L266.78 208.64 L267.07 207.36 L267.28 206.02 L267.41 204.62 L267.45 203.2 L267.41 201.78 L267.28 200.38 L267.07 199.03Z" fill="#fff" stroke="#262626" stroke-width="0.88" />
<clipPath id="w1"><path d="M266.77 197.75 L266.41 196.57 L265.97 195.5 L265.47 194.56 L264.92 193.77 L264.33 193.14 L263.71 192.68 L263.06 192.4 L262.4 192.31 L261.74 192.4 L261.09 192.68 L260.47 193.14 L259.87 193.77 L259.32 194.56 L258.83 195.5 L258.39 196.57 L258.02 197.75 L257.73 199.03 L257.52 200.38 L257.39 201.78 L257.35 203.2 L257.39 204.62 L257.52 206.02 L257.73 207.36 L258.03 208.64 L258.39 209.83 L258.83 210.9 L259.33 211.83 L259.88 212.63 L260.47 213.26 L261.1 213.71 L261.74 213.99 L262.4 214.08 L263.06 213.99 L263.71 213.71 L264.34 213.26 L264.93 212.63 L265.48 211.83 L265.97 210.9 L266.41 209.83 L266.78 208.64 L267.07 207.36 L267.28 206.02 L267.41 204.62 L267.45 203.2 L267.41 201.78 L267.28 200.38 L267.07 199.03Z"/></clipPath>
<g clip-path="url(#w1)">
<ellipse cx="259.93" cy="201.77" rx="9.76" ry="5.63" transform="rotate(-60 259.93 201.77)" fill="none" stroke="#262626" stroke-width="0.75" />
<clipPath id="wb1"><ellipse cx="259.93" cy="201.77" rx="9.76" ry="5.63" transform="rotate(-60 259.93 201.77)"/></clipPath>
<g clip-path="url(#wb1)">
<line x1="157.73" y1="190.95" x2="246.73" y2="243.65" stroke="#505050" stroke-width="0.56" stroke-dasharray="6.5 2 1 2" stroke-linecap="butt"/>
<line x1="154" y1="182.71" x2="243" y2="235.41" stroke="#505050" stroke-width="0.56" stroke-dasharray="6.5 2 1 2" stroke-linecap="butt"/>
<line x1="145" y1="183.6" x2="234" y2="236.3" stroke="#505050" stroke-width="0.56" stroke-dasharray="6.5 2 1 2" stroke-linecap="butt"/>
<line x1="136" y1="193.1" x2="225" y2="245.8" stroke="#505050" stroke-width="0.56" stroke-dasharray="6.5 2 1 2" stroke-linecap="butt"/>
<line x1="132.27" y1="205.65" x2="221.27" y2="258.35" stroke="#505050" stroke-width="0.56" stroke-dasharray="6.5 2 1 2" stroke-linecap="butt"/>
<line x1="136" y1="213.89" x2="225" y2="266.59" stroke="#505050" stroke-width="0.56" stroke-dasharray="6.5 2 1 2" stroke-linecap="butt"/>
<line x1="145" y1="213" x2="234" y2="265.7" stroke="#505050" stroke-width="0.56" stroke-dasharray="6.5 2 1 2" stroke-linecap="butt"/>
<line x1="154" y1="203.5" x2="243" y2="256.2" stroke="#505050" stroke-width="0.56" stroke-dasharray="6.5 2 1 2" stroke-linecap="butt"/>
</g></g>
<path d="M241.5 201.97 L240.98 200.69 L240.34 199.5 L239.61 198.43 L238.79 197.48 L237.9 196.68 L236.95 196.04 L235.97 195.56 L234.96 195.27 L233.94 195.16 L232.93 195.23 L231.96 195.48 L231.03 195.92 L230.16 196.52 L229.36 197.29 L228.66 198.21 L228.05 199.25 L227.56 200.42 L227.19 201.67 L226.95 203 L226.84 204.38 L226.86 205.79 L227.01 207.2 L227.29 208.59 L227.7 209.93 L228.23 211.21 L228.86 212.39 L229.59 213.47 L230.41 214.42 L231.3 215.22 L232.25 215.86 L233.24 216.33 L234.25 216.63 L235.26 216.74 L236.27 216.67 L237.24 216.42 L238.18 215.98 L239.05 215.38 L239.84 214.61 L240.54 213.69 L241.15 212.65 L241.64 211.48 L242.01 210.23 L242.25 208.9 L242.37 207.52 L242.35 206.11 L242.19 204.7 L241.91 203.31Z" fill="#fff" stroke="#262626" stroke-width="0.88" />
<clipPath id="w2"><path d="M241.5 201.97 L240.98 200.69 L240.34 199.5 L239.61 198.43 L238.79 197.48 L237.9 196.68 L236.95 196.04 L235.97 195.56 L234.96 195.27 L233.94 195.16 L232.93 195.23 L231.96 195.48 L231.03 195.92 L230.16 196.52 L229.36 197.29 L228.66 198.21 L228.05 199.25 L227.56 200.42 L227.19 201.67 L226.95 203 L226.84 204.38 L226.86 205.79 L227.01 207.2 L227.29 208.59 L227.7 209.93 L228.23 211.21 L228.86 212.39 L229.59 213.47 L230.41 214.42 L231.3 215.22 L232.25 215.86 L233.24 216.33 L234.25 216.63 L235.26 216.74 L236.27 216.67 L237.24 216.42 L238.18 215.98 L239.05 215.38 L239.84 214.61 L240.54 213.69 L241.15 212.65 L241.64 211.48 L242.01 210.23 L242.25 208.9 L242.37 207.52 L242.35 206.11 L242.19 204.7 L241.91 203.31Z"/></clipPath>
<g clip-path="url(#w2)">
<ellipse cx="232.13" cy="204.52" rx="9.76" ry="5.63" transform="rotate(-60 232.13 204.52)" fill="none" stroke="#262626" stroke-width="0.75" />
<clipPath id="wb2"><ellipse cx="232.13" cy="204.52" rx="9.76" ry="5.63" transform="rotate(-60 232.13 204.52)"/></clipPath>
<g clip-path="url(#wb2)">
<line x1="157.73" y1="190.95" x2="246.73" y2="243.65" stroke="#505050" stroke-width="0.56" stroke-dasharray="6.5 2 1 2" stroke-linecap="butt"/>
<line x1="154" y1="182.71" x2="243" y2="235.41" stroke="#505050" stroke-width="0.56" stroke-dasharray="6.5 2 1 2" stroke-linecap="butt"/>
<line x1="145" y1="183.6" x2="234" y2="236.3" stroke="#505050" stroke-width="0.56" stroke-dasharray="6.5 2 1 2" stroke-linecap="butt"/>
<line x1="136" y1="193.1" x2="225" y2="245.8" stroke="#505050" stroke-width="0.56" stroke-dasharray="6.5 2 1 2" stroke-linecap="butt"/>
<line x1="132.27" y1="205.65" x2="221.27" y2="258.35" stroke="#505050" stroke-width="0.56" stroke-dasharray="6.5 2 1 2" stroke-linecap="butt"/>
<line x1="136" y1="213.89" x2="225" y2="266.59" stroke="#505050" stroke-width="0.56" stroke-dasharray="6.5 2 1 2" stroke-linecap="butt"/>
<line x1="145" y1="213" x2="234" y2="265.7" stroke="#505050" stroke-width="0.56" stroke-dasharray="6.5 2 1 2" stroke-linecap="butt"/>
<line x1="154" y1="203.5" x2="243" y2="256.2" stroke="#505050" stroke-width="0.56" stroke-dasharray="6.5 2 1 2" stroke-linecap="butt"/>
</g></g>
<path d="M216.23 232.77 L215.82 231.56 L215.25 230.42 L214.55 229.35 L213.7 228.39 L212.74 227.55 L211.68 226.84 L210.54 226.28 L209.33 225.87 L208.07 225.62 L206.8 225.53 L205.53 225.62 L204.27 225.87 L203.06 226.28 L201.92 226.84 L200.86 227.55 L199.9 228.39 L199.06 229.35 L198.35 230.41 L197.78 231.56 L197.37 232.77 L197.12 234.02 L197.04 235.29 L197.12 236.57 L197.37 237.82 L197.78 239.03 L198.35 240.17 L199.06 241.24 L199.9 242.2 L200.86 243.04 L201.92 243.75 L203.07 244.31 L204.28 244.72 L205.53 244.97 L206.8 245.06 L208.08 244.97 L209.33 244.72 L210.54 244.31 L211.68 243.75 L212.75 243.04 L213.71 242.2 L214.55 241.24 L215.26 240.18 L215.82 239.03 L216.23 237.82 L216.48 236.57 L216.56 235.3 L216.48 234.02Z" fill="#fff" stroke="#262626" stroke-width="0.88" />
<clipPath id="w3"><path d="M216.23 232.77 L215.82 231.56 L215.25 230.42 L214.55 229.35 L213.7 228.39 L212.74 227.55 L211.68 226.84 L210.54 226.28 L209.33 225.87 L208.07 225.62 L206.8 225.53 L205.53 225.62 L204.27 225.87 L203.06 226.28 L201.92 226.84 L200.86 227.55 L199.9 228.39 L199.06 229.35 L198.35 230.41 L197.78 231.56 L197.37 232.77 L197.12 234.02 L197.04 235.29 L197.12 236.57 L197.37 237.82 L197.78 239.03 L198.35 240.17 L199.06 241.24 L199.9 242.2 L200.86 243.04 L201.92 243.75 L203.07 244.31 L204.28 244.72 L205.53 244.97 L206.8 245.06 L208.08 244.97 L209.33 244.72 L210.54 244.31 L211.68 243.75 L212.75 243.04 L213.71 242.2 L214.55 241.24 L215.26 240.18 L215.82 239.03 L216.23 237.82 L216.48 236.57 L216.56 235.3 L216.48 234.02Z"/></clipPath>
<g clip-path="url(#w3)">
<ellipse cx="204.33" cy="233.87" rx="9.76" ry="5.63" transform="rotate(-60 204.33 233.87)" fill="none" stroke="#262626" stroke-width="0.75" />
<clipPath id="wb3"><ellipse cx="204.33" cy="233.87" rx="9.76" ry="5.63" transform="rotate(-60 204.33 233.87)"/></clipPath>
<g clip-path="url(#wb3)">
<line x1="157.73" y1="190.95" x2="246.73" y2="243.65" stroke="#505050" stroke-width="0.56" stroke-dasharray="6.5 2 1 2" stroke-linecap="butt"/>
<line x1="154" y1="182.71" x2="243" y2="235.41" stroke="#505050" stroke-width="0.56" stroke-dasharray="6.5 2 1 2" stroke-linecap="butt"/>
<line x1="145" y1="183.6" x2="234" y2="236.3" stroke="#505050" stroke-width="0.56" stroke-dasharray="6.5 2 1 2" stroke-linecap="butt"/>
<line x1="136" y1="193.1" x2="225" y2="245.8" stroke="#505050" stroke-width="0.56" stroke-dasharray="6.5 2 1 2" stroke-linecap="butt"/>
<line x1="132.27" y1="205.65" x2="221.27" y2="258.35" stroke="#505050" stroke-width="0.56" stroke-dasharray="6.5 2 1 2" stroke-linecap="butt"/>
<line x1="136" y1="213.89" x2="225" y2="266.59" stroke="#505050" stroke-width="0.56" stroke-dasharray="6.5 2 1 2" stroke-linecap="butt"/>
<line x1="145" y1="213" x2="234" y2="265.7" stroke="#505050" stroke-width="0.56" stroke-dasharray="6.5 2 1 2" stroke-linecap="butt"/>
<line x1="154" y1="203.5" x2="243" y2="256.2" stroke="#505050" stroke-width="0.56" stroke-dasharray="6.5 2 1 2" stroke-linecap="butt"/>
</g></g>
<path d="M205.76 272.12 L205.67 271.1 L205.41 270.13 L204.96 269.22 L204.36 268.4 L203.6 267.67 L202.69 267.05 L201.66 266.55 L200.52 266.18 L199.3 265.95 L198 265.85 L196.65 265.89 L195.29 266.07 L193.92 266.39 L192.57 266.84 L191.28 267.42 L190.05 268.1 L188.91 268.89 L187.88 269.77 L186.97 270.72 L186.21 271.72 L185.61 272.77 L185.17 273.84 L184.9 274.91 L184.81 275.96 L184.9 276.99 L185.17 277.96 L185.61 278.87 L186.21 279.69 L186.97 280.42 L187.88 281.04 L188.91 281.53 L190.05 281.9 L191.28 282.14 L192.57 282.24 L193.92 282.19 L195.29 282.01 L196.65 281.69 L198 281.24 L199.3 280.67 L200.52 279.98 L201.66 279.2 L202.69 278.32 L203.6 277.37 L204.36 276.36 L204.96 275.32 L205.41 274.25 L205.67 273.18Z" fill="#fff" stroke="#262626" stroke-width="0.88" />
<clipPath id="w4"><path d="M205.76 272.12 L205.67 271.1 L205.41 270.13 L204.96 269.22 L204.36 268.4 L203.6 267.67 L202.69 267.05 L201.66 266.55 L200.52 266.18 L199.3 265.95 L198 265.85 L196.65 265.89 L195.29 266.07 L193.92 266.39 L192.57 266.84 L191.28 267.42 L190.05 268.1 L188.91 268.89 L187.88 269.77 L186.97 270.72 L186.21 271.72 L185.61 272.77 L185.17 273.84 L184.9 274.91 L184.81 275.96 L184.9 276.99 L185.17 277.96 L185.61 278.87 L186.21 279.69 L186.97 280.42 L187.88 281.04 L188.91 281.53 L190.05 281.9 L191.28 282.14 L192.57 282.24 L193.92 282.19 L195.29 282.01 L196.65 281.69 L198 281.24 L199.3 280.67 L200.52 279.98 L201.66 279.2 L202.69 278.32 L203.6 277.37 L204.36 276.36 L204.96 275.32 L205.41 274.25 L205.67 273.18Z"/></clipPath>
<g clip-path="url(#w4)">
<ellipse cx="192.81" cy="272.61" rx="9.76" ry="5.63" transform="rotate(-60 192.81 272.61)" fill="none" stroke="#262626" stroke-width="0.75" />
<clipPath id="wb4"><ellipse cx="192.81" cy="272.61" rx="9.76" ry="5.63" transform="rotate(-60 192.81 272.61)"/></clipPath>
<g clip-path="url(#wb4)">
<line x1="157.73" y1="190.95" x2="246.73" y2="243.65" stroke="#505050" stroke-width="0.56" stroke-dasharray="6.5 2 1 2" stroke-linecap="butt"/>
<line x1="154" y1="182.71" x2="243" y2="235.41" stroke="#505050" stroke-width="0.56" stroke-dasharray="6.5 2 1 2" stroke-linecap="butt"/>
<line x1="145" y1="183.6" x2="234" y2="236.3" stroke="#505050" stroke-width="0.56" stroke-dasharray="6.5 2 1 2" stroke-linecap="butt"/>
<line x1="136" y1="193.1" x2="225" y2="245.8" stroke="#505050" stroke-width="0.56" stroke-dasharray="6.5 2 1 2" stroke-linecap="butt"/>
<line x1="132.27" y1="205.65" x2="221.27" y2="258.35" stroke="#505050" stroke-width="0.56" stroke-dasharray="6.5 2 1 2" stroke-linecap="butt"/>
<line x1="136" y1="213.89" x2="225" y2="266.59" stroke="#505050" stroke-width="0.56" stroke-dasharray="6.5 2 1 2" stroke-linecap="butt"/>
<line x1="145" y1="213" x2="234" y2="265.7" stroke="#505050" stroke-width="0.56" stroke-dasharray="6.5 2 1 2" stroke-linecap="butt"/>
<line x1="154" y1="203.5" x2="243" y2="256.2" stroke="#505050" stroke-width="0.56" stroke-dasharray="6.5 2 1 2" stroke-linecap="butt"/>
</g></g>
<path d="M216.23 296.97 L216.48 296.14 L216.56 295.37 L216.48 294.67 L216.23 294.05 L215.82 293.53 L215.26 293.11 L214.55 292.79 L213.71 292.6 L212.75 292.52 L211.68 292.55 L210.54 292.71 L209.33 292.99 L208.08 293.37 L206.8 293.86 L205.53 294.45 L204.28 295.12 L203.07 295.87 L201.92 296.68 L200.86 297.54 L199.9 298.43 L199.06 299.34 L198.35 300.25 L197.78 301.15 L197.37 302.02 L197.12 302.85 L197.04 303.62 L197.12 304.32 L197.37 304.94 L197.78 305.46 L198.35 305.88 L199.06 306.2 L199.9 306.4 L200.86 306.48 L201.92 306.44 L203.06 306.28 L204.27 306.01 L205.53 305.62 L206.8 305.13 L208.07 304.54 L209.33 303.87 L210.54 303.12 L211.68 302.31 L212.74 301.46 L213.7 300.56 L214.55 299.65 L215.25 298.74 L215.82 297.84Z" fill="#fff" stroke="#262626" stroke-width="0.88" />
<clipPath id="w5"><path d="M216.23 296.97 L216.48 296.14 L216.56 295.37 L216.48 294.67 L216.23 294.05 L215.82 293.53 L215.26 293.11 L214.55 292.79 L213.71 292.6 L212.75 292.52 L211.68 292.55 L210.54 292.71 L209.33 292.99 L208.08 293.37 L206.8 293.86 L205.53 294.45 L204.28 295.12 L203.07 295.87 L201.92 296.68 L200.86 297.54 L199.9 298.43 L199.06 299.34 L198.35 300.25 L197.78 301.15 L197.37 302.02 L197.12 302.85 L197.04 303.62 L197.12 304.32 L197.37 304.94 L197.78 305.46 L198.35 305.88 L199.06 306.2 L199.9 306.4 L200.86 306.48 L201.92 306.44 L203.06 306.28 L204.27 306.01 L205.53 305.62 L206.8 305.13 L208.07 304.54 L209.33 303.87 L210.54 303.12 L211.68 302.31 L212.74 301.46 L213.7 300.56 L214.55 299.65 L215.25 298.74 L215.82 297.84Z"/></clipPath>
<g clip-path="url(#w5)">
<ellipse cx="204.33" cy="298.07" rx="9.76" ry="5.63" transform="rotate(-60 204.33 298.07)" fill="none" stroke="#262626" stroke-width="0.75" />
<clipPath id="wb5"><ellipse cx="204.33" cy="298.07" rx="9.76" ry="5.63" transform="rotate(-60 204.33 298.07)"/></clipPath>
<g clip-path="url(#wb5)">
<line x1="157.73" y1="190.95" x2="246.73" y2="243.65" stroke="#505050" stroke-width="0.56" stroke-dasharray="6.5 2 1 2" stroke-linecap="butt"/>
<line x1="154" y1="182.71" x2="243" y2="235.41" stroke="#505050" stroke-width="0.56" stroke-dasharray="6.5 2 1 2" stroke-linecap="butt"/>
<line x1="145" y1="183.6" x2="234" y2="236.3" stroke="#505050" stroke-width="0.56" stroke-dasharray="6.5 2 1 2" stroke-linecap="butt"/>
<line x1="136" y1="193.1" x2="225" y2="245.8" stroke="#505050" stroke-width="0.56" stroke-dasharray="6.5 2 1 2" stroke-linecap="butt"/>
<line x1="132.27" y1="205.65" x2="221.27" y2="258.35" stroke="#505050" stroke-width="0.56" stroke-dasharray="6.5 2 1 2" stroke-linecap="butt"/>
<line x1="136" y1="213.89" x2="225" y2="266.59" stroke="#505050" stroke-width="0.56" stroke-dasharray="6.5 2 1 2" stroke-linecap="butt"/>
<line x1="145" y1="213" x2="234" y2="265.7" stroke="#505050" stroke-width="0.56" stroke-dasharray="6.5 2 1 2" stroke-linecap="butt"/>
<line x1="154" y1="203.5" x2="243" y2="256.2" stroke="#505050" stroke-width="0.56" stroke-dasharray="6.5 2 1 2" stroke-linecap="butt"/>
</g></g>
<path d="M241.5 292.76 L241.91 292.02 L242.19 291.37 L242.35 290.8 L242.37 290.34 L242.25 289.99 L242.01 289.75 L241.64 289.63 L241.15 289.64 L240.54 289.76 L239.84 290.01 L239.05 290.37 L238.18 290.84 L237.24 291.41 L236.27 292.07 L235.26 292.81 L234.25 293.62 L233.24 294.48 L232.25 295.39 L231.3 296.31 L230.41 297.24 L229.59 298.17 L228.86 299.06 L228.23 299.92 L227.7 300.73 L227.29 301.47 L227.01 302.12 L226.86 302.69 L226.84 303.15 L226.95 303.5 L227.19 303.74 L227.56 303.85 L228.05 303.85 L228.66 303.72 L229.36 303.48 L230.16 303.12 L231.03 302.65 L231.96 302.08 L232.93 301.42 L233.94 300.68 L234.96 299.87 L235.97 299 L236.95 298.1 L237.9 297.18 L238.79 296.25 L239.61 295.32 L240.34 294.42 L240.98 293.57Z" fill="#fff" stroke="#262626" stroke-width="0.88" />
<clipPath id="w6"><path d="M241.5 292.76 L241.91 292.02 L242.19 291.37 L242.35 290.8 L242.37 290.34 L242.25 289.99 L242.01 289.75 L241.64 289.63 L241.15 289.64 L240.54 289.76 L239.84 290.01 L239.05 290.37 L238.18 290.84 L237.24 291.41 L236.27 292.07 L235.26 292.81 L234.25 293.62 L233.24 294.48 L232.25 295.39 L231.3 296.31 L230.41 297.24 L229.59 298.17 L228.86 299.06 L228.23 299.92 L227.7 300.73 L227.29 301.47 L227.01 302.12 L226.86 302.69 L226.84 303.15 L226.95 303.5 L227.19 303.74 L227.56 303.85 L228.05 303.85 L228.66 303.72 L229.36 303.48 L230.16 303.12 L231.03 302.65 L231.96 302.08 L232.93 301.42 L233.94 300.68 L234.96 299.87 L235.97 299 L236.95 298.1 L237.9 297.18 L238.79 296.25 L239.61 295.32 L240.34 294.42 L240.98 293.57Z"/></clipPath>
<g clip-path="url(#w6)">
<ellipse cx="232.13" cy="295.32" rx="9.76" ry="5.63" transform="rotate(-60 232.13 295.32)" fill="none" stroke="#262626" stroke-width="0.75" />
<clipPath id="wb6"><ellipse cx="232.13" cy="295.32" rx="9.76" ry="5.63" transform="rotate(-60 232.13 295.32)"/></clipPath>
<g clip-path="url(#wb6)">
<line x1="157.73" y1="190.95" x2="246.73" y2="243.65" stroke="#505050" stroke-width="0.56" stroke-dasharray="6.5 2 1 2" stroke-linecap="butt"/>
<line x1="154" y1="182.71" x2="243" y2="235.41" stroke="#505050" stroke-width="0.56" stroke-dasharray="6.5 2 1 2" stroke-linecap="butt"/>
<line x1="145" y1="183.6" x2="234" y2="236.3" stroke="#505050" stroke-width="0.56" stroke-dasharray="6.5 2 1 2" stroke-linecap="butt"/>
<line x1="136" y1="193.1" x2="225" y2="245.8" stroke="#505050" stroke-width="0.56" stroke-dasharray="6.5 2 1 2" stroke-linecap="butt"/>
<line x1="132.27" y1="205.65" x2="221.27" y2="258.35" stroke="#505050" stroke-width="0.56" stroke-dasharray="6.5 2 1 2" stroke-linecap="butt"/>
<line x1="136" y1="213.89" x2="225" y2="266.59" stroke="#505050" stroke-width="0.56" stroke-dasharray="6.5 2 1 2" stroke-linecap="butt"/>
<line x1="145" y1="213" x2="234" y2="265.7" stroke="#505050" stroke-width="0.56" stroke-dasharray="6.5 2 1 2" stroke-linecap="butt"/>
<line x1="154" y1="203.5" x2="243" y2="256.2" stroke="#505050" stroke-width="0.56" stroke-dasharray="6.5 2 1 2" stroke-linecap="butt"/>
</g></g>
<path d="M266.77 261.96 L267.07 261.15 L267.28 260.46 L267.41 259.88 L267.45 259.43 L267.41 259.12 L267.28 258.95 L267.07 258.92 L266.78 259.04 L266.41 259.3 L265.97 259.7 L265.48 260.23 L264.93 260.89 L264.34 261.66 L263.71 262.52 L263.06 263.47 L262.4 264.48 L261.74 265.55 L261.1 266.65 L260.47 267.75 L259.88 268.86 L259.33 269.94 L258.83 270.97 L258.39 271.95 L258.03 272.84 L257.73 273.65 L257.52 274.34 L257.39 274.92 L257.35 275.37 L257.39 275.68 L257.52 275.85 L257.73 275.88 L258.02 275.76 L258.39 275.5 L258.83 275.1 L259.32 274.56 L259.87 273.91 L260.47 273.14 L261.09 272.28 L261.74 271.33 L262.4 270.32 L263.06 269.25 L263.71 268.15 L264.33 267.04 L264.92 265.94 L265.47 264.86 L265.97 263.83 L266.41 262.85Z" fill="#fff" stroke="#262626" stroke-width="0.88" />
<clipPath id="w7"><path d="M266.77 261.96 L267.07 261.15 L267.28 260.46 L267.41 259.88 L267.45 259.43 L267.41 259.12 L267.28 258.95 L267.07 258.92 L266.78 259.04 L266.41 259.3 L265.97 259.7 L265.48 260.23 L264.93 260.89 L264.34 261.66 L263.71 262.52 L263.06 263.47 L262.4 264.48 L261.74 265.55 L261.1 266.65 L260.47 267.75 L259.88 268.86 L259.33 269.94 L258.83 270.97 L258.39 271.95 L258.03 272.84 L257.73 273.65 L257.52 274.34 L257.39 274.92 L257.35 275.37 L257.39 275.68 L257.52 275.85 L257.73 275.88 L258.02 275.76 L258.39 275.5 L258.83 275.1 L259.32 274.56 L259.87 273.91 L260.47 273.14 L261.09 272.28 L261.74 271.33 L262.4 270.32 L263.06 269.25 L263.71 268.15 L264.33 267.04 L264.92 265.94 L265.47 264.86 L265.97 263.83 L266.41 262.85Z"/></clipPath>
<g clip-path="url(#w7)">
<ellipse cx="259.93" cy="265.97" rx="9.76" ry="5.63" transform="rotate(-60 259.93 265.97)" fill="none" stroke="#262626" stroke-width="0.75" />
<clipPath id="wb7"><ellipse cx="259.93" cy="265.97" rx="9.76" ry="5.63" transform="rotate(-60 259.93 265.97)"/></clipPath>
<g clip-path="url(#wb7)">
<line x1="157.73" y1="190.95" x2="246.73" y2="243.65" stroke="#505050" stroke-width="0.56" stroke-dasharray="6.5 2 1 2" stroke-linecap="butt"/>
<line x1="154" y1="182.71" x2="243" y2="235.41" stroke="#505050" stroke-width="0.56" stroke-dasharray="6.5 2 1 2" stroke-linecap="butt"/>
<line x1="145" y1="183.6" x2="234" y2="236.3" stroke="#505050" stroke-width="0.56" stroke-dasharray="6.5 2 1 2" stroke-linecap="butt"/>
<line x1="136" y1="193.1" x2="225" y2="245.8" stroke="#505050" stroke-width="0.56" stroke-dasharray="6.5 2 1 2" stroke-linecap="butt"/>
<line x1="132.27" y1="205.65" x2="221.27" y2="258.35" stroke="#505050" stroke-width="0.56" stroke-dasharray="6.5 2 1 2" stroke-linecap="butt"/>
<line x1="136" y1="213.89" x2="225" y2="266.59" stroke="#505050" stroke-width="0.56" stroke-dasharray="6.5 2 1 2" stroke-linecap="butt"/>
<line x1="145" y1="213" x2="234" y2="265.7" stroke="#505050" stroke-width="0.56" stroke-dasharray="6.5 2 1 2" stroke-linecap="butt"/>
<line x1="154" y1="203.5" x2="243" y2="256.2" stroke="#505050" stroke-width="0.56" stroke-dasharray="6.5 2 1 2" stroke-linecap="butt"/>
</g></g>
<ellipse cx="275.14" cy="197.57" rx="1.2" ry="0.69" transform="rotate(-60 275.14 197.57)" fill="#555" stroke="#262626" stroke-width="0.5" />
<ellipse cx="232.31" cy="196" rx="1.2" ry="0.69" transform="rotate(-60 232.31 196)" fill="#555" stroke="#262626" stroke-width="0.5" />
<ellipse cx="192.42" cy="246.15" rx="1.2" ry="0.69" transform="rotate(-60 192.42 246.15)" fill="#555" stroke="#262626" stroke-width="0.5" />
<ellipse cx="191.17" cy="302.02" rx="1.2" ry="0.69" transform="rotate(-60 191.17 302.02)" fill="#555" stroke="#262626" stroke-width="0.5" />
<ellipse cx="233.15" cy="307.49" rx="1.2" ry="0.69" transform="rotate(-60 233.15 307.49)" fill="#555" stroke="#262626" stroke-width="0.5" />
<ellipse cx="275.58" cy="255.85" rx="1.2" ry="0.69" transform="rotate(-60 275.58 255.85)" fill="#555" stroke="#262626" stroke-width="0.5" />
<path d="M259.58 216.7 L257.24 215.61 L254.7 214.95 L251.97 214.7 L249.1 214.89 L246.11 215.49 L243.03 216.51 L239.9 217.94 L236.76 219.75 L233.63 221.94 L230.55 224.47 L227.56 227.32 L224.69 230.46 L221.96 233.85 L219.42 237.45 L217.08 241.23 L214.98 245.14 L213.13 249.15 L211.55 253.2 L210.27 257.26 L209.3 261.28 L208.65 265.21 L208.32 269.01 L208.32 272.64 L208.65 276.06 L209.3 279.24 L210.27 282.13 L211.55 284.71 L213.13 286.95 L214.98 288.82 L217.08 290.3 L227.47 296.3 L229.81 297.39 L232.35 298.05 L235.08 298.3 L237.95 298.11 L240.94 297.51 L244.02 296.49 L247.15 295.06 L250.29 293.25 L253.42 291.06 L256.5 288.53 L259.49 285.68 L262.37 282.54 L265.09 279.15 L267.63 275.55 L269.97 271.77 L272.08 267.86 L273.93 263.85 L275.5 259.8 L276.78 255.74 L277.75 251.72 L278.4 247.79 L278.73 243.99 L278.73 240.36 L278.4 236.94 L277.75 233.76 L276.78 230.87 L275.5 228.29 L273.93 226.05 L272.08 224.18 L269.97 222.7Z" fill="#fff" stroke="#262626" stroke-width="0.88" />
<ellipse cx="248.72" cy="259.5" rx="42.5" ry="24.54" transform="rotate(-60 248.72 259.5)" fill="#fff" stroke="#262626" stroke-width="0.88" />
<ellipse cx="248.72" cy="259.5" rx="41" ry="23.67" transform="rotate(-60 248.72 259.5)" fill="none" stroke="#555" stroke-width="0.62" />
<ellipse cx="248.72" cy="259.5" rx="32.5" ry="18.76" transform="rotate(-60 248.72 259.5)" fill="#fff" stroke="#111" stroke-width="1.12" />
<clipPath id="bore"><ellipse cx="248.72" cy="259.5" rx="32.5" ry="18.76" transform="rotate(-60 248.72 259.5)"/></clipPath>
<g clip-path="url(#bore)">
<ellipse cx="248.72" cy="259.5" rx="32.5" ry="18.76" transform="rotate(-60 248.72 259.5)" fill="#3a3a3a" stroke="#262626" stroke-width="0.38" />
<ellipse cx="245.78" cy="257.8" rx="32.3" ry="18.65" transform="rotate(-60 245.78 257.8)" fill="#fff" stroke="#262626" stroke-width="0.62" />
<ellipse cx="238.76" cy="253.75" rx="28.6" ry="16.51" transform="rotate(-60 238.76 253.75)" fill="none" stroke="#262626" stroke-width="0.75" />
<ellipse cx="238.76" cy="253.75" rx="27.2" ry="15.7" transform="rotate(-60 238.76 253.75)" fill="none" stroke="#262626" stroke-width="0.62" />
<ellipse cx="239.63" cy="254.25" rx="15.5" ry="8.95" transform="rotate(-60 239.63 254.25)" fill="none" stroke="#262626" stroke-width="0.62" />
<ellipse cx="240.93" cy="255" rx="12.6" ry="7.27" transform="rotate(-60 240.93 255)" fill="#fff" stroke="#262626" stroke-width="0.88" />
<clipPath id="cb2"><ellipse cx="240.93" cy="255" rx="12.6" ry="7.27" transform="rotate(-60 240.93 255)"/></clipPath>
<g clip-path="url(#cb2)">
<ellipse cx="237.46" cy="253" rx="12.6" ry="7.27" transform="rotate(-60 237.46 253)" fill="none" stroke="#262626" stroke-width="0.75" />
<ellipse cx="236.16" cy="252.25" rx="10.5" ry="6.06" transform="rotate(-60 236.16 252.25)" fill="none" stroke="#262626" stroke-width="0.62" />
</g>
<ellipse cx="251.7" cy="246.28" rx="2.2" ry="1.27" transform="rotate(-60 251.7 246.28)" fill="#fff" stroke="#262626" stroke-width="0.75" />
<ellipse cx="247.91" cy="237.9" rx="2.2" ry="1.27" transform="rotate(-60 247.91 237.9)" fill="#fff" stroke="#262626" stroke-width="0.75" />
<ellipse cx="238.76" cy="238.81" rx="2.2" ry="1.27" transform="rotate(-60 238.76 238.81)" fill="#fff" stroke="#262626" stroke-width="0.75" />
<ellipse cx="229.61" cy="248.47" rx="2.2" ry="1.27" transform="rotate(-60 229.61 248.47)" fill="#fff" stroke="#262626" stroke-width="0.75" />
<ellipse cx="225.82" cy="261.22" rx="2.2" ry="1.27" transform="rotate(-60 225.82 261.22)" fill="#fff" stroke="#262626" stroke-width="0.75" />
<ellipse cx="229.61" cy="269.6" rx="2.2" ry="1.27" transform="rotate(-60 229.61 269.6)" fill="#fff" stroke="#262626" stroke-width="0.75" />
<ellipse cx="238.76" cy="268.69" rx="2.2" ry="1.27" transform="rotate(-60 238.76 268.69)" fill="#fff" stroke="#262626" stroke-width="0.75" />
<ellipse cx="247.91" cy="259.03" rx="2.2" ry="1.27" transform="rotate(-60 247.91 259.03)" fill="#fff" stroke="#262626" stroke-width="0.75" />
</g>
<ellipse cx="271.56" cy="231.09" rx="2.3" ry="1.33" transform="rotate(-60 271.56 231.09)" fill="#fff" stroke="#262626" stroke-width="0.75" />
<ellipse cx="248.72" cy="229.04" rx="2.3" ry="1.33" transform="rotate(-60 248.72 229.04)" fill="#fff" stroke="#262626" stroke-width="0.75" />
<ellipse cx="225.88" cy="257.46" rx="2.3" ry="1.33" transform="rotate(-60 225.88 257.46)" fill="#fff" stroke="#262626" stroke-width="0.75" />
<ellipse cx="225.88" cy="287.91" rx="2.3" ry="1.33" transform="rotate(-60 225.88 287.91)" fill="#fff" stroke="#262626" stroke-width="0.75" />
<ellipse cx="248.72" cy="289.96" rx="2.3" ry="1.33" transform="rotate(-60 248.72 289.96)" fill="#fff" stroke="#262626" stroke-width="0.75" />
<ellipse cx="271.56" cy="261.54" rx="2.3" ry="1.33" transform="rotate(-60 271.56 261.54)" fill="#fff" stroke="#262626" stroke-width="0.75" />
<line x1="249.33" y1="245.15" x2="319.04" y2="285.4" stroke="#505050" stroke-width="0.56" stroke-dasharray="6.5 2 1 2" stroke-linecap="butt"/>
<line x1="245.6" y1="236.91" x2="315.31" y2="277.16" stroke="#505050" stroke-width="0.56" stroke-dasharray="6.5 2 1 2" stroke-linecap="butt"/>
<line x1="236.6" y1="237.8" x2="306.31" y2="278.05" stroke="#505050" stroke-width="0.56" stroke-dasharray="6.5 2 1 2" stroke-linecap="butt"/>
<line x1="227.6" y1="247.3" x2="297.31" y2="287.55" stroke="#505050" stroke-width="0.56" stroke-dasharray="6.5 2 1 2" stroke-linecap="butt"/>
<line x1="223.87" y1="259.85" x2="293.58" y2="300.1" stroke="#505050" stroke-width="0.56" stroke-dasharray="6.5 2 1 2" stroke-linecap="butt"/>
<line x1="227.6" y1="268.09" x2="297.31" y2="308.34" stroke="#505050" stroke-width="0.56" stroke-dasharray="6.5 2 1 2" stroke-linecap="butt"/>
<line x1="236.6" y1="267.2" x2="306.31" y2="307.45" stroke="#505050" stroke-width="0.56" stroke-dasharray="6.5 2 1 2" stroke-linecap="butt"/>
<line x1="245.6" y1="257.7" x2="315.31" y2="297.95" stroke="#505050" stroke-width="0.56" stroke-dasharray="6.5 2 1 2" stroke-linecap="butt"/>
<line x1="271.56" y1="231.09" x2="398.24" y2="305.56" stroke="#505050" stroke-width="0.56" stroke-dasharray="6.5 2 1 2" stroke-linecap="butt"/>
<line x1="248.72" y1="229.04" x2="376.5" y2="303.61" stroke="#505050" stroke-width="0.56" stroke-dasharray="6.5 2 1 2" stroke-linecap="butt"/>
<line x1="225.88" y1="257.46" x2="354.76" y2="330.66" stroke="#505050" stroke-width="0.56" stroke-dasharray="6.5 2 1 2" stroke-linecap="butt"/>
<line x1="225.88" y1="287.91" x2="354.76" y2="359.64" stroke="#505050" stroke-width="0.56" stroke-dasharray="6.5 2 1 2" stroke-linecap="butt"/>
<line x1="248.72" y1="289.96" x2="376.5" y2="361.59" stroke="#505050" stroke-width="0.56" stroke-dasharray="6.5 2 1 2" stroke-linecap="butt"/>
<line x1="271.56" y1="261.54" x2="398.24" y2="334.54" stroke="#505050" stroke-width="0.56" stroke-dasharray="6.5 2 1 2" stroke-linecap="butt"/>
<path d="M316.91 295.18 L316.73 295.09 L316.54 295.04 L316.34 295.03 L316.12 295.04 L315.9 295.08 L315.66 295.16 L315.43 295.27 L315.19 295.41 L314.96 295.57 L314.73 295.76 L314.5 295.98 L314.28 296.21 L314.08 296.47 L313.89 296.74 L313.71 297.02 L313.55 297.32 L313.41 297.62 L313.29 297.92 L313.2 298.23 L313.13 298.53 L313.08 298.83 L313.05 299.11 L313.05 299.39 L313.08 299.65 L313.13 299.88 L313.2 300.1 L313.29 300.3 L313.41 300.47 L313.55 300.61 L313.71 300.72 L325.83 307.72 L326.01 307.8 L326.2 307.85 L326.41 307.87 L326.62 307.85 L326.85 307.81 L327.08 307.73 L327.32 307.62 L327.55 307.49 L327.79 307.32 L328.02 307.13 L328.25 306.92 L328.46 306.68 L328.67 306.43 L328.86 306.16 L329.03 305.87 L329.19 305.58 L329.33 305.27 L329.45 304.97 L329.55 304.66 L329.62 304.36 L329.67 304.07 L329.69 303.78 L329.69 303.51 L329.67 303.25 L329.62 303.01 L329.55 302.79 L329.45 302.6 L329.33 302.43 L329.19 302.29 L329.03 302.18Z" fill="#fff" stroke="#262626" stroke-width="0.81" />
<path d="M329.03 302.18 L328.86 302.09 L328.67 302.04 L328.46 302.03 L328.25 302.04 L328.02 302.08 L327.79 302.16 L327.55 302.27 L327.32 302.41 L327.08 302.57 L326.85 302.76 L326.62 302.98 L326.41 303.21 L326.2 303.47 L326.01 303.74 L325.83 304.02 L325.68 304.32 L325.54 304.62 L325.42 304.92 L325.32 305.23 L325.25 305.53 L325.2 305.83 L325.18 306.11 L325.18 306.39 L325.2 306.65 L325.25 306.88 L325.32 307.1 L325.42 307.3 L325.54 307.47 L325.68 307.61 L325.83 307.72" fill="none" stroke="#262626" stroke-width="0.81" />
<path d="M329.93 300.62 L329.66 300.49 L329.36 300.41 L329.04 300.38 L328.7 300.4 L328.35 300.48 L327.99 300.6 L327.62 300.76 L327.25 300.98 L326.88 301.23 L326.52 301.53 L326.17 301.87 L325.83 302.24 L325.51 302.63 L325.21 303.06 L324.93 303.5 L324.69 303.96 L324.47 304.44 L324.28 304.91 L324.13 305.39 L324.02 305.86 L323.94 306.32 L323.9 306.77 L323.9 307.2 L323.94 307.6 L324.02 307.97 L324.13 308.32 L324.28 308.62 L324.47 308.88 L324.69 309.1 L324.93 309.28 L329.7 312.03 L329.97 312.15 L330.27 312.23 L330.59 312.26 L330.93 312.24 L331.28 312.17 L331.64 312.05 L332.01 311.88 L332.38 311.67 L332.75 311.41 L333.11 311.11 L333.46 310.78 L333.8 310.41 L334.12 310.01 L334.42 309.59 L334.7 309.14 L334.95 308.68 L335.16 308.21 L335.35 307.73 L335.5 307.25 L335.61 306.78 L335.69 306.32 L335.73 305.87 L335.73 305.44 L335.69 305.04 L335.61 304.67 L335.5 304.33 L335.35 304.02 L335.16 303.76 L334.95 303.54 L334.7 303.37Z" fill="#fff" stroke="#262626" stroke-width="0.81" />
<ellipse cx="332.2" cy="307.7" rx="5" ry="2.89" transform="rotate(-60 332.2 307.7)" fill="#fff" stroke="#262626" stroke-width="0.81" />
<ellipse cx="332.2" cy="307.7" rx="3.1" ry="1.79" transform="rotate(-60 332.2 307.7)" fill="#fff" stroke="#111" stroke-width="1.38" />
<path d="M330.85 305.26 L330.67 305.42 L330.49 305.59 L330.32 305.78 L330.16 305.98 L330.02 306.2 L329.88 306.42 L329.76 306.66 L329.65 306.9 L329.56 307.14 L329.49 307.38 L329.44 307.62 L329.41 307.85 L329.39 308.07 L329.4 308.28 L329.42 308.48 L329.47 308.66 L329.53 308.83 L329.61 308.98 L329.71 309.1 L329.83 309.21 L329.96 309.29 L330.1 309.34 L330.25 309.37 L330.42 309.38 L330.59 309.36 L330.77 309.31 L330.96 309.24 L331.14 309.15 L331.33 309.03 L331.51 308.89 L331.69 308.73 L331.87 308.56 L332.04 308.36 L332.19 308.16 L332.34 307.94 L332.47 307.71 L332.59 307.47 L332.69 307.23" fill="none" stroke="#262626" stroke-width="0.62" />
<path d="M320.64 282.63 L320.46 282.55 L320.27 282.5 L320.07 282.48 L319.85 282.5 L319.62 282.54 L319.39 282.62 L319.16 282.72 L318.92 282.86 L318.68 283.03 L318.45 283.22 L318.23 283.43 L318.01 283.67 L317.81 283.92 L317.61 284.19 L317.44 284.48 L317.28 284.77 L317.14 285.07 L317.02 285.38 L316.93 285.69 L316.85 285.99 L316.8 286.28 L316.78 286.57 L316.78 286.84 L316.8 287.1 L316.85 287.34 L316.93 287.56 L317.02 287.75 L317.14 287.92 L317.28 288.06 L317.44 288.17 L329.56 295.17 L329.74 295.25 L329.93 295.31 L330.14 295.32 L330.35 295.31 L330.58 295.26 L330.81 295.19 L331.04 295.08 L331.28 294.94 L331.52 294.78 L331.75 294.59 L331.97 294.37 L332.19 294.14 L332.4 293.88 L332.59 293.61 L332.76 293.33 L332.92 293.03 L333.06 292.73 L333.18 292.42 L333.28 292.12 L333.35 291.82 L333.4 291.52 L333.42 291.23 L333.42 290.96 L333.4 290.7 L333.35 290.46 L333.28 290.25 L333.18 290.05 L333.06 289.88 L332.92 289.74 L332.76 289.63Z" fill="#fff" stroke="#262626" stroke-width="0.81" />
<path d="M332.76 289.63 L332.59 289.55 L332.4 289.5 L332.19 289.48 L331.97 289.5 L331.75 289.54 L331.52 289.62 L331.28 289.72 L331.04 289.86 L330.81 290.03 L330.58 290.22 L330.35 290.43 L330.14 290.67 L329.93 290.92 L329.74 291.19 L329.56 291.48 L329.4 291.77 L329.27 292.07 L329.15 292.38 L329.05 292.69 L328.98 292.99 L328.93 293.28 L328.9 293.57 L328.9 293.84 L328.93 294.1 L328.98 294.34 L329.05 294.56 L329.15 294.75 L329.27 294.92 L329.4 295.06 L329.56 295.17" fill="none" stroke="#262626" stroke-width="0.81" />
<path d="M333.66 288.07 L333.39 287.95 L333.09 287.87 L332.77 287.84 L332.43 287.86 L332.08 287.93 L331.72 288.05 L331.35 288.22 L330.98 288.43 L330.61 288.69 L330.25 288.99 L329.9 289.32 L329.56 289.69 L329.24 290.09 L328.94 290.51 L328.66 290.96 L328.42 291.42 L328.2 291.89 L328.01 292.37 L327.86 292.84 L327.75 293.32 L327.67 293.78 L327.63 294.23 L327.63 294.65 L327.67 295.06 L327.75 295.43 L327.86 295.77 L328.01 296.07 L328.2 296.34 L328.42 296.56 L328.66 296.73 L333.43 299.48 L333.7 299.61 L334 299.69 L334.32 299.72 L334.66 299.7 L335.01 299.62 L335.37 299.5 L335.74 299.34 L336.11 299.12 L336.48 298.87 L336.84 298.57 L337.19 298.23 L337.53 297.86 L337.85 297.46 L338.15 297.04 L338.43 296.6 L338.67 296.14 L338.89 295.66 L339.08 295.19 L339.23 294.71 L339.34 294.24 L339.42 293.78 L339.46 293.33 L339.46 292.9 L339.42 292.5 L339.34 292.12 L339.23 291.78 L339.08 291.48 L338.89 291.22 L338.67 291 L338.43 290.82Z" fill="#fff" stroke="#262626" stroke-width="0.81" />
<ellipse cx="335.93" cy="295.15" rx="5" ry="2.89" transform="rotate(-60 335.93 295.15)" fill="#fff" stroke="#262626" stroke-width="0.81" />
<ellipse cx="335.93" cy="295.15" rx="3.1" ry="1.79" transform="rotate(-60 335.93 295.15)" fill="#fff" stroke="#111" stroke-width="1.38" />
<path d="M334.58 292.72 L334.4 292.87 L334.22 293.05 L334.05 293.23 L333.89 293.44 L333.74 293.65 L333.61 293.88 L333.49 294.11 L333.38 294.35 L333.29 294.59 L333.22 294.83 L333.17 295.07 L333.13 295.3 L333.12 295.53 L333.12 295.74 L333.15 295.94 L333.19 296.12 L333.26 296.29 L333.34 296.43 L333.44 296.56 L333.55 296.66 L333.68 296.74 L333.83 296.8 L333.98 296.83 L334.15 296.83 L334.32 296.81 L334.5 296.77 L334.68 296.7 L334.87 296.6 L335.06 296.49 L335.24 296.35 L335.42 296.19 L335.6 296.01 L335.76 295.82 L335.92 295.61 L336.07 295.39 L336.2 295.16 L336.32 294.93 L336.42 294.69" fill="none" stroke="#262626" stroke-width="0.62" />
<path d="M307.91 304.68 L307.73 304.59 L307.54 304.54 L307.34 304.53 L307.12 304.54 L306.9 304.59 L306.66 304.66 L306.43 304.77 L306.19 304.91 L305.96 305.07 L305.73 305.26 L305.5 305.48 L305.28 305.71 L305.08 305.97 L304.89 306.24 L304.71 306.52 L304.55 306.82 L304.41 307.12 L304.29 307.42 L304.2 307.73 L304.13 308.03 L304.08 308.33 L304.05 308.61 L304.05 308.89 L304.08 309.15 L304.13 309.38 L304.2 309.6 L304.29 309.8 L304.41 309.97 L304.55 310.11 L304.71 310.22 L316.84 317.22 L317.01 317.3 L317.2 317.35 L317.41 317.37 L317.62 317.35 L317.85 317.31 L318.08 317.23 L318.32 317.12 L318.55 316.99 L318.79 316.82 L319.02 316.63 L319.25 316.42 L319.46 316.18 L319.67 315.93 L319.86 315.66 L320.03 315.37 L320.19 315.08 L320.33 314.77 L320.45 314.47 L320.55 314.16 L320.62 313.86 L320.67 313.57 L320.69 313.28 L320.69 313.01 L320.67 312.75 L320.62 312.51 L320.55 312.29 L320.45 312.1 L320.33 311.93 L320.19 311.79 L320.03 311.68Z" fill="#fff" stroke="#262626" stroke-width="0.81" />
<path d="M320.03 311.68 L319.86 311.59 L319.67 311.54 L319.46 311.53 L319.25 311.54 L319.02 311.59 L318.79 311.66 L318.55 311.77 L318.32 311.91 L318.08 312.07 L317.85 312.26 L317.62 312.48 L317.41 312.71 L317.2 312.97 L317.01 313.24 L316.84 313.52 L316.68 313.82 L316.54 314.12 L316.42 314.42 L316.32 314.73 L316.25 315.03 L316.2 315.33 L316.18 315.61 L316.18 315.89 L316.2 316.15 L316.25 316.38 L316.32 316.6 L316.42 316.8 L316.54 316.97 L316.68 317.11 L316.84 317.22" fill="none" stroke="#262626" stroke-width="0.81" />
<path d="M320.93 310.12 L320.66 309.99 L320.36 309.91 L320.04 309.88 L319.7 309.9 L319.35 309.98 L318.99 310.1 L318.62 310.26 L318.25 310.48 L317.88 310.73 L317.52 311.03 L317.17 311.37 L316.83 311.74 L316.51 312.13 L316.21 312.56 L315.94 313 L315.69 313.46 L315.47 313.94 L315.28 314.41 L315.13 314.89 L315.02 315.36 L314.94 315.82 L314.9 316.27 L314.9 316.7 L314.94 317.1 L315.02 317.48 L315.13 317.82 L315.28 318.12 L315.47 318.38 L315.69 318.6 L315.94 318.78 L320.7 321.53 L320.97 321.65 L321.27 321.73 L321.59 321.76 L321.93 321.74 L322.28 321.67 L322.64 321.55 L323.01 321.38 L323.38 321.17 L323.75 320.91 L324.11 320.61 L324.47 320.28 L324.8 319.91 L325.12 319.51 L325.42 319.09 L325.7 318.64 L325.95 318.18 L326.16 317.71 L326.35 317.23 L326.5 316.75 L326.61 316.28 L326.69 315.82 L326.73 315.37 L326.73 314.95 L326.69 314.54 L326.61 314.17 L326.5 313.83 L326.35 313.53 L326.16 313.26 L325.95 313.04 L325.7 312.87Z" fill="#fff" stroke="#262626" stroke-width="0.81" />
<ellipse cx="323.2" cy="317.2" rx="5" ry="2.89" transform="rotate(-60 323.2 317.2)" fill="#fff" stroke="#262626" stroke-width="0.81" />
<ellipse cx="323.2" cy="317.2" rx="3.1" ry="1.79" transform="rotate(-60 323.2 317.2)" fill="#fff" stroke="#111" stroke-width="1.38" />
<path d="M321.85 314.76 L321.67 314.92 L321.49 315.09 L321.32 315.28 L321.16 315.48 L321.02 315.7 L320.88 315.93 L320.76 316.16 L320.65 316.4 L320.56 316.64 L320.49 316.88 L320.44 317.12 L320.41 317.35 L320.39 317.57 L320.4 317.78 L320.42 317.98 L320.47 318.17 L320.53 318.33 L320.61 318.48 L320.71 318.6 L320.83 318.71 L320.96 318.79 L321.1 318.84 L321.25 318.87 L321.42 318.88 L321.59 318.86 L321.77 318.81 L321.96 318.74 L322.14 318.65 L322.33 318.53 L322.51 318.39 L322.69 318.23 L322.87 318.06 L323.04 317.86 L323.19 317.66 L323.34 317.44 L323.47 317.21 L323.59 316.97 L323.69 316.73" fill="none" stroke="#262626" stroke-width="0.62" />
<path d="M316.91 274.39 L316.73 274.31 L316.54 274.26 L316.34 274.24 L316.12 274.25 L315.9 274.3 L315.66 274.38 L315.43 274.48 L315.19 274.62 L314.96 274.79 L314.73 274.98 L314.5 275.19 L314.28 275.43 L314.08 275.68 L313.89 275.95 L313.71 276.24 L313.55 276.53 L313.41 276.83 L313.29 277.14 L313.2 277.45 L313.13 277.75 L313.08 278.04 L313.05 278.33 L313.05 278.6 L313.08 278.86 L313.13 279.1 L313.2 279.32 L313.29 279.51 L313.41 279.68 L313.55 279.82 L313.71 279.93 L325.83 286.93 L326.01 287.01 L326.2 287.06 L326.41 287.08 L326.62 287.07 L326.85 287.02 L327.08 286.95 L327.32 286.84 L327.55 286.7 L327.79 286.54 L328.02 286.35 L328.25 286.13 L328.46 285.9 L328.67 285.64 L328.86 285.37 L329.03 285.09 L329.19 284.79 L329.33 284.49 L329.45 284.18 L329.55 283.88 L329.62 283.58 L329.67 283.28 L329.69 282.99 L329.69 282.72 L329.67 282.46 L329.62 282.22 L329.55 282.01 L329.45 281.81 L329.33 281.64 L329.19 281.5 L329.03 281.39Z" fill="#fff" stroke="#262626" stroke-width="0.81" />
<path d="M329.03 281.39 L328.86 281.31 L328.67 281.26 L328.46 281.24 L328.25 281.25 L328.02 281.3 L327.79 281.38 L327.55 281.48 L327.32 281.62 L327.08 281.79 L326.85 281.98 L326.62 282.19 L326.41 282.43 L326.2 282.68 L326.01 282.95 L325.83 283.24 L325.68 283.53 L325.54 283.83 L325.42 284.14 L325.32 284.45 L325.25 284.75 L325.2 285.04 L325.18 285.33 L325.18 285.6 L325.2 285.86 L325.25 286.1 L325.32 286.32 L325.42 286.51 L325.54 286.68 L325.68 286.82 L325.83 286.93" fill="none" stroke="#262626" stroke-width="0.81" />
<path d="M329.93 279.83 L329.66 279.7 L329.36 279.63 L329.04 279.6 L328.7 279.62 L328.35 279.69 L327.99 279.81 L327.62 279.98 L327.25 280.19 L326.88 280.45 L326.52 280.75 L326.17 281.08 L325.83 281.45 L325.51 281.85 L325.21 282.27 L324.93 282.72 L324.69 283.18 L324.47 283.65 L324.28 284.13 L324.13 284.6 L324.02 285.08 L323.94 285.54 L323.9 285.99 L323.9 286.41 L323.94 286.82 L324.02 287.19 L324.13 287.53 L324.28 287.83 L324.47 288.1 L324.69 288.32 L324.93 288.49 L329.7 291.24 L329.97 291.37 L330.27 291.45 L330.59 291.48 L330.93 291.45 L331.28 291.38 L331.64 291.26 L332.01 291.1 L332.38 290.88 L332.75 290.63 L333.11 290.33 L333.46 289.99 L333.8 289.62 L334.12 289.22 L334.42 288.8 L334.7 288.36 L334.95 287.9 L335.16 287.42 L335.35 286.95 L335.5 286.47 L335.61 286 L335.69 285.53 L335.73 285.09 L335.73 284.66 L335.69 284.26 L335.61 283.88 L335.5 283.54 L335.35 283.24 L335.16 282.98 L334.95 282.76 L334.7 282.58Z" fill="#fff" stroke="#262626" stroke-width="0.81" />
<ellipse cx="332.2" cy="286.91" rx="5" ry="2.89" transform="rotate(-60 332.2 286.91)" fill="#fff" stroke="#262626" stroke-width="0.81" />
<ellipse cx="332.2" cy="286.91" rx="3.1" ry="1.79" transform="rotate(-60 332.2 286.91)" fill="#fff" stroke="#111" stroke-width="1.38" />
<path d="M330.85 284.48 L330.67 284.63 L330.49 284.8 L330.32 284.99 L330.16 285.2 L330.02 285.41 L329.88 285.64 L329.76 285.87 L329.65 286.11 L329.56 286.35 L329.49 286.59 L329.44 286.83 L329.41 287.06 L329.39 287.29 L329.4 287.5 L329.42 287.7 L329.47 287.88 L329.53 288.05 L329.61 288.19 L329.71 288.32 L329.83 288.42 L329.96 288.5 L330.1 288.56 L330.25 288.59 L330.42 288.59 L330.59 288.57 L330.77 288.53 L330.96 288.46 L331.14 288.36 L331.33 288.25 L331.51 288.11 L331.69 287.95 L331.87 287.77 L332.04 287.58 L332.19 287.37 L332.34 287.15 L332.47 286.92 L332.59 286.69 L332.69 286.45" fill="none" stroke="#262626" stroke-width="0.62" />
<path d="M298.91 305.57 L298.74 305.49 L298.54 305.44 L298.34 305.42 L298.12 305.43 L297.9 305.48 L297.67 305.55 L297.43 305.66 L297.19 305.8 L296.96 305.96 L296.73 306.15 L296.5 306.37 L296.28 306.6 L296.08 306.86 L295.89 307.13 L295.71 307.41 L295.55 307.71 L295.41 308.01 L295.29 308.32 L295.2 308.62 L295.13 308.92 L295.08 309.22 L295.05 309.51 L295.05 309.78 L295.08 310.04 L295.13 310.28 L295.2 310.49 L295.29 310.69 L295.41 310.86 L295.55 311 L295.71 311.11 L307.84 318.11 L308.01 318.19 L308.2 318.24 L308.41 318.26 L308.62 318.25 L308.85 318.2 L309.08 318.12 L309.32 318.02 L309.55 317.88 L309.79 317.71 L310.02 317.52 L310.25 317.31 L310.46 317.07 L310.67 316.82 L310.86 316.55 L311.04 316.26 L311.19 315.97 L311.33 315.67 L311.45 315.36 L311.55 315.05 L311.62 314.75 L311.67 314.46 L311.69 314.17 L311.69 313.9 L311.67 313.64 L311.62 313.4 L311.55 313.18 L311.45 312.99 L311.33 312.82 L311.19 312.68 L311.04 312.57Z" fill="#fff" stroke="#262626" stroke-width="0.81" />
<path d="M311.04 312.57 L310.86 312.49 L310.67 312.44 L310.46 312.42 L310.25 312.43 L310.02 312.48 L309.79 312.55 L309.55 312.66 L309.32 312.8 L309.08 312.96 L308.85 313.15 L308.62 313.37 L308.41 313.6 L308.2 313.86 L308.01 314.13 L307.84 314.41 L307.68 314.71 L307.54 315.01 L307.42 315.32 L307.32 315.62 L307.25 315.92 L307.2 316.22 L307.18 316.51 L307.18 316.78 L307.2 317.04 L307.25 317.28 L307.32 317.49 L307.42 317.69 L307.54 317.86 L307.68 318 L307.84 318.11" fill="none" stroke="#262626" stroke-width="0.81" />
<path d="M311.94 311.01 L311.66 310.88 L311.36 310.8 L311.04 310.77 L310.7 310.8 L310.35 310.87 L309.99 310.99 L309.62 311.15 L309.25 311.37 L308.88 311.62 L308.52 311.92 L308.17 312.26 L307.83 312.63 L307.51 313.03 L307.21 313.45 L306.94 313.89 L306.69 314.35 L306.47 314.83 L306.28 315.3 L306.13 315.78 L306.02 316.25 L305.94 316.72 L305.9 317.16 L305.9 317.59 L305.94 317.99 L306.02 318.37 L306.13 318.71 L306.28 319.01 L306.47 319.27 L306.69 319.49 L306.94 319.67 L311.7 322.42 L311.97 322.55 L312.27 322.62 L312.59 322.65 L312.93 322.63 L313.28 322.56 L313.65 322.44 L314.01 322.27 L314.38 322.06 L314.75 321.8 L315.11 321.5 L315.47 321.17 L315.8 320.8 L316.12 320.4 L316.42 319.98 L316.7 319.53 L316.95 319.07 L317.16 318.6 L317.35 318.12 L317.5 317.65 L317.61 317.17 L317.69 316.71 L317.73 316.26 L317.73 315.84 L317.69 315.43 L317.61 315.06 L317.5 314.72 L317.35 314.42 L317.16 314.15 L316.95 313.93 L316.7 313.76Z" fill="#fff" stroke="#262626" stroke-width="0.81" />
<ellipse cx="314.2" cy="318.09" rx="5" ry="2.89" transform="rotate(-60 314.2 318.09)" fill="#fff" stroke="#262626" stroke-width="0.81" />
<ellipse cx="314.2" cy="318.09" rx="3.1" ry="1.79" transform="rotate(-60 314.2 318.09)" fill="#fff" stroke="#111" stroke-width="1.38" />
<path d="M312.85 315.65 L312.67 315.81 L312.49 315.98 L312.32 316.17 L312.16 316.37 L312.02 316.59 L311.88 316.82 L311.76 317.05 L311.65 317.29 L311.56 317.53 L311.49 317.77 L311.44 318.01 L311.41 318.24 L311.39 318.46 L311.4 318.67 L311.42 318.87 L311.47 319.06 L311.53 319.22 L311.61 319.37 L311.71 319.49 L311.83 319.6 L311.96 319.68 L312.1 319.73 L312.25 319.76 L312.42 319.77 L312.59 319.75 L312.77 319.7 L312.96 319.63 L313.14 319.54 L313.33 319.42 L313.51 319.28 L313.69 319.12 L313.87 318.95 L314.04 318.75 L314.19 318.55 L314.34 318.33 L314.47 318.1 L314.59 317.86 L314.69 317.62" fill="none" stroke="#262626" stroke-width="0.62" />
<path d="M307.91 275.28 L307.73 275.2 L307.54 275.15 L307.34 275.13 L307.12 275.15 L306.9 275.19 L306.66 275.27 L306.43 275.38 L306.19 275.51 L305.96 275.68 L305.73 275.87 L305.5 276.08 L305.28 276.32 L305.08 276.57 L304.89 276.84 L304.71 277.13 L304.55 277.42 L304.41 277.73 L304.29 278.03 L304.2 278.34 L304.13 278.64 L304.08 278.93 L304.05 279.22 L304.05 279.49 L304.08 279.75 L304.13 279.99 L304.2 280.21 L304.29 280.4 L304.41 280.57 L304.55 280.71 L304.71 280.82 L316.84 287.82 L317.01 287.91 L317.2 287.96 L317.41 287.97 L317.62 287.96 L317.85 287.91 L318.08 287.84 L318.32 287.73 L318.55 287.59 L318.79 287.43 L319.02 287.24 L319.25 287.02 L319.46 286.79 L319.67 286.53 L319.86 286.26 L320.03 285.98 L320.19 285.68 L320.33 285.38 L320.45 285.08 L320.55 284.77 L320.62 284.47 L320.67 284.17 L320.69 283.89 L320.69 283.61 L320.67 283.35 L320.62 283.12 L320.55 282.9 L320.45 282.7 L320.33 282.53 L320.19 282.39 L320.03 282.28Z" fill="#fff" stroke="#262626" stroke-width="0.81" />
<path d="M320.03 282.28 L319.86 282.2 L319.67 282.15 L319.46 282.13 L319.25 282.15 L319.02 282.19 L318.79 282.27 L318.55 282.38 L318.32 282.51 L318.08 282.68 L317.85 282.87 L317.62 283.08 L317.41 283.32 L317.2 283.57 L317.01 283.84 L316.84 284.13 L316.68 284.42 L316.54 284.73 L316.42 285.03 L316.32 285.34 L316.25 285.64 L316.2 285.93 L316.18 286.22 L316.18 286.49 L316.2 286.75 L316.25 286.99 L316.32 287.21 L316.42 287.4 L316.54 287.57 L316.68 287.71 L316.84 287.82" fill="none" stroke="#262626" stroke-width="0.81" />
<path d="M320.93 280.72 L320.66 280.6 L320.36 280.52 L320.04 280.49 L319.7 280.51 L319.35 280.58 L318.99 280.7 L318.62 280.87 L318.25 281.08 L317.88 281.34 L317.52 281.64 L317.17 281.97 L316.83 282.34 L316.51 282.74 L316.21 283.16 L315.94 283.61 L315.69 284.07 L315.47 284.54 L315.28 285.02 L315.13 285.5 L315.02 285.97 L314.94 286.43 L314.9 286.88 L314.9 287.3 L314.94 287.71 L315.02 288.08 L315.13 288.42 L315.28 288.72 L315.47 288.99 L315.69 289.21 L315.94 289.38 L320.7 292.13 L320.97 292.26 L321.27 292.34 L321.59 292.37 L321.93 292.35 L322.28 292.27 L322.64 292.15 L323.01 291.99 L323.38 291.77 L323.75 291.52 L324.11 291.22 L324.47 290.88 L324.8 290.51 L325.12 290.12 L325.42 289.69 L325.7 289.25 L325.95 288.79 L326.16 288.31 L326.35 287.84 L326.5 287.36 L326.61 286.89 L326.69 286.43 L326.73 285.98 L326.73 285.55 L326.69 285.15 L326.61 284.77 L326.5 284.43 L326.35 284.13 L326.16 283.87 L325.95 283.65 L325.7 283.47Z" fill="#fff" stroke="#262626" stroke-width="0.81" />
<ellipse cx="323.2" cy="287.8" rx="5" ry="2.89" transform="rotate(-60 323.2 287.8)" fill="#fff" stroke="#262626" stroke-width="0.81" />
<ellipse cx="323.2" cy="287.8" rx="3.1" ry="1.79" transform="rotate(-60 323.2 287.8)" fill="#fff" stroke="#111" stroke-width="1.38" />
<path d="M321.85 285.37 L321.67 285.52 L321.49 285.7 L321.32 285.88 L321.16 286.09 L321.02 286.3 L320.88 286.53 L320.76 286.76 L320.65 287 L320.56 287.24 L320.49 287.48 L320.44 287.72 L320.41 287.95 L320.39 288.18 L320.4 288.39 L320.42 288.59 L320.47 288.77 L320.53 288.94 L320.61 289.08 L320.71 289.21 L320.83 289.31 L320.96 289.39 L321.1 289.45 L321.25 289.48 L321.42 289.48 L321.59 289.46 L321.77 289.42 L321.96 289.35 L322.14 289.25 L322.33 289.14 L322.51 289 L322.69 288.84 L322.87 288.66 L323.04 288.47 L323.19 288.26 L323.34 288.04 L323.47 287.81 L323.59 287.58 L323.69 287.34" fill="none" stroke="#262626" stroke-width="0.62" />
<path d="M295.18 297.33 L295.01 297.25 L294.82 297.19 L294.61 297.18 L294.39 297.19 L294.17 297.24 L293.94 297.31 L293.7 297.42 L293.46 297.56 L293.23 297.72 L293 297.91 L292.77 298.13 L292.56 298.36 L292.35 298.62 L292.16 298.89 L291.98 299.17 L291.82 299.47 L291.69 299.77 L291.57 300.08 L291.47 300.38 L291.4 300.68 L291.35 300.98 L291.32 301.27 L291.32 301.54 L291.35 301.8 L291.4 302.04 L291.47 302.25 L291.57 302.45 L291.69 302.62 L291.82 302.76 L291.98 302.87 L304.11 309.87 L304.28 309.95 L304.47 310 L304.68 310.02 L304.9 310 L305.12 309.96 L305.35 309.88 L305.59 309.78 L305.83 309.64 L306.06 309.47 L306.29 309.28 L306.52 309.07 L306.73 308.83 L306.94 308.58 L307.13 308.31 L307.31 308.02 L307.47 307.73 L307.6 307.43 L307.72 307.12 L307.82 306.81 L307.89 306.51 L307.94 306.22 L307.97 305.93 L307.97 305.66 L307.94 305.4 L307.89 305.16 L307.82 304.94 L307.72 304.75 L307.6 304.58 L307.47 304.44 L307.31 304.33Z" fill="#fff" stroke="#262626" stroke-width="0.81" />
<path d="M307.31 304.33 L307.13 304.25 L306.94 304.19 L306.73 304.18 L306.52 304.19 L306.29 304.24 L306.06 304.31 L305.83 304.42 L305.59 304.56 L305.35 304.72 L305.12 304.91 L304.9 305.13 L304.68 305.36 L304.47 305.62 L304.28 305.89 L304.11 306.17 L303.95 306.47 L303.81 306.77 L303.69 307.08 L303.59 307.38 L303.52 307.68 L303.47 307.98 L303.45 308.27 L303.45 308.54 L303.47 308.8 L303.52 309.04 L303.59 309.25 L303.69 309.45 L303.81 309.62 L303.95 309.76 L304.11 309.87" fill="none" stroke="#262626" stroke-width="0.81" />
<path d="M308.21 302.77 L307.93 302.64 L307.63 302.56 L307.31 302.53 L306.97 302.55 L306.62 302.63 L306.26 302.75 L305.89 302.91 L305.52 303.13 L305.15 303.38 L304.79 303.68 L304.44 304.02 L304.1 304.39 L303.78 304.79 L303.48 305.21 L303.21 305.65 L302.96 306.11 L302.74 306.59 L302.56 307.06 L302.41 307.54 L302.29 308.01 L302.22 308.47 L302.18 308.92 L302.18 309.35 L302.22 309.75 L302.29 310.13 L302.41 310.47 L302.56 310.77 L302.74 311.03 L302.96 311.25 L303.21 311.43 L307.97 314.18 L308.25 314.3 L308.54 314.38 L308.87 314.41 L309.2 314.39 L309.56 314.32 L309.92 314.2 L310.29 314.03 L310.66 313.82 L311.02 313.56 L311.39 313.26 L311.74 312.93 L312.08 312.56 L312.4 312.16 L312.7 311.74 L312.97 311.29 L313.22 310.83 L313.44 310.36 L313.62 309.88 L313.77 309.41 L313.89 308.93 L313.96 308.47 L314 308.02 L314 307.6 L313.96 307.19 L313.89 306.82 L313.77 306.48 L313.62 306.18 L313.44 305.91 L313.22 305.69 L312.97 305.52Z" fill="#fff" stroke="#262626" stroke-width="0.81" />
<ellipse cx="310.47" cy="309.85" rx="5" ry="2.89" transform="rotate(-60 310.47 309.85)" fill="#fff" stroke="#262626" stroke-width="0.81" />
<ellipse cx="310.47" cy="309.85" rx="3.1" ry="1.79" transform="rotate(-60 310.47 309.85)" fill="#fff" stroke="#111" stroke-width="1.38" />
<path d="M309.12 307.41 L308.94 307.57 L308.77 307.74 L308.6 307.93 L308.44 308.13 L308.29 308.35 L308.15 308.58 L308.03 308.81 L307.93 309.05 L307.84 309.29 L307.76 309.53 L307.71 309.77 L307.68 310 L307.66 310.22 L307.67 310.43 L307.69 310.63 L307.74 310.82 L307.8 310.98 L307.88 311.13 L307.98 311.25 L308.1 311.36 L308.23 311.44 L308.37 311.49 L308.53 311.52 L308.69 311.53 L308.86 311.51 L309.04 311.46 L309.23 311.39 L309.41 311.3 L309.6 311.18 L309.79 311.04 L309.97 310.88 L310.14 310.71 L310.31 310.51 L310.46 310.31 L310.61 310.09 L310.74 309.86 L310.86 309.62 L310.96 309.38" fill="none" stroke="#262626" stroke-width="0.62" />
<path d="M298.91 284.78 L298.74 284.7 L298.54 284.65 L298.34 284.63 L298.12 284.65 L297.9 284.69 L297.67 284.77 L297.43 284.88 L297.19 285.01 L296.96 285.18 L296.73 285.37 L296.5 285.58 L296.28 285.82 L296.08 286.07 L295.89 286.34 L295.71 286.63 L295.55 286.92 L295.41 287.23 L295.29 287.53 L295.2 287.84 L295.13 288.14 L295.08 288.43 L295.05 288.72 L295.05 288.99 L295.08 289.25 L295.13 289.49 L295.2 289.71 L295.29 289.9 L295.41 290.07 L295.55 290.21 L295.71 290.32 L307.84 297.32 L308.01 297.41 L308.2 297.46 L308.41 297.47 L308.62 297.46 L308.85 297.42 L309.08 297.34 L309.32 297.23 L309.55 297.09 L309.79 296.93 L310.02 296.74 L310.25 296.52 L310.46 296.29 L310.67 296.03 L310.86 295.76 L311.04 295.48 L311.19 295.18 L311.33 294.88 L311.45 294.58 L311.55 294.27 L311.62 293.97 L311.67 293.67 L311.69 293.39 L311.69 293.11 L311.67 292.85 L311.62 292.62 L311.55 292.4 L311.45 292.2 L311.33 292.03 L311.19 291.89 L311.04 291.78Z" fill="#fff" stroke="#262626" stroke-width="0.81" />
<path d="M311.04 291.78 L310.86 291.7 L310.67 291.65 L310.46 291.63 L310.25 291.65 L310.02 291.69 L309.79 291.77 L309.55 291.88 L309.32 292.01 L309.08 292.18 L308.85 292.37 L308.62 292.58 L308.41 292.82 L308.2 293.07 L308.01 293.34 L307.84 293.63 L307.68 293.92 L307.54 294.23 L307.42 294.53 L307.32 294.84 L307.25 295.14 L307.2 295.43 L307.18 295.72 L307.18 295.99 L307.2 296.25 L307.25 296.49 L307.32 296.71 L307.42 296.9 L307.54 297.07 L307.68 297.21 L307.84 297.32" fill="none" stroke="#262626" stroke-width="0.81" />
<path d="M311.94 290.22 L311.66 290.1 L311.36 290.02 L311.04 289.99 L310.7 290.01 L310.35 290.08 L309.99 290.2 L309.62 290.37 L309.25 290.58 L308.88 290.84 L308.52 291.14 L308.17 291.47 L307.83 291.84 L307.51 292.24 L307.21 292.66 L306.94 293.11 L306.69 293.57 L306.47 294.04 L306.28 294.52 L306.13 295 L306.02 295.47 L305.94 295.93 L305.9 296.38 L305.9 296.81 L305.94 297.21 L306.02 297.58 L306.13 297.92 L306.28 298.23 L306.47 298.49 L306.69 298.71 L306.94 298.88 L311.7 301.63 L311.97 301.76 L312.27 301.84 L312.59 301.87 L312.93 301.85 L313.28 301.77 L313.65 301.65 L314.01 301.49 L314.38 301.27 L314.75 301.02 L315.11 300.72 L315.47 300.38 L315.8 300.01 L316.12 299.62 L316.42 299.19 L316.7 298.75 L316.95 298.29 L317.16 297.81 L317.35 297.34 L317.5 296.86 L317.61 296.39 L317.69 295.93 L317.73 295.48 L317.73 295.05 L317.69 294.65 L317.61 294.28 L317.5 293.93 L317.35 293.63 L317.16 293.37 L316.95 293.15 L316.7 292.97Z" fill="#fff" stroke="#262626" stroke-width="0.81" />
<ellipse cx="314.2" cy="297.3" rx="5" ry="2.89" transform="rotate(-60 314.2 297.3)" fill="#fff" stroke="#262626" stroke-width="0.81" />
<ellipse cx="314.2" cy="297.3" rx="3.1" ry="1.79" transform="rotate(-60 314.2 297.3)" fill="#fff" stroke="#111" stroke-width="1.38" />
<path d="M312.85 294.87 L312.67 295.02 L312.49 295.2 L312.32 295.39 L312.16 295.59 L312.02 295.81 L311.88 296.03 L311.76 296.27 L311.65 296.5 L311.56 296.74 L311.49 296.98 L311.44 297.22 L311.41 297.45 L311.39 297.68 L311.4 297.89 L311.42 298.09 L311.47 298.27 L311.53 298.44 L311.61 298.58 L311.71 298.71 L311.83 298.81 L311.96 298.89 L312.1 298.95 L312.25 298.98 L312.42 298.98 L312.59 298.96 L312.77 298.92 L312.96 298.85 L313.14 298.75 L313.33 298.64 L313.51 298.5 L313.69 298.34 L313.87 298.16 L314.04 297.97 L314.19 297.76 L314.34 297.54 L314.47 297.31 L314.59 297.08 L314.69 296.84" fill="none" stroke="#262626" stroke-width="0.62" />
<path d="M395.24 295.73 L392.97 294.68 L390.5 294.04 L387.85 293.8 L385.06 293.98 L382.15 294.56 L379.16 295.56 L376.12 296.94 L373.07 298.71 L370.03 300.83 L367.04 303.29 L364.13 306.06 L361.34 309.11 L358.69 312.4 L356.22 315.9 L353.94 319.58 L351.9 323.38 L350.1 327.27 L348.57 331.21 L347.33 335.15 L346.39 339.06 L345.75 342.88 L345.43 346.57 L345.43 350.1 L345.75 353.43 L346.39 356.51 L347.33 359.32 L348.57 361.83 L350.1 364 L351.9 365.82 L353.94 367.27 L355.85 368.37 L358.12 369.42 L360.59 370.06 L363.24 370.3 L366.03 370.12 L368.94 369.54 L371.93 368.54 L374.97 367.16 L378.03 365.39 L381.07 363.27 L384.06 360.81 L386.97 358.04 L389.76 354.99 L392.41 351.7 L394.88 348.2 L397.15 344.52 L399.2 340.72 L400.99 336.83 L402.52 332.89 L403.76 328.95 L404.71 325.04 L405.34 321.22 L405.66 317.53 L405.66 314 L405.34 310.67 L404.71 307.59 L403.76 304.78 L402.52 302.27 L400.99 300.1 L399.2 298.28 L397.15 296.83Z" fill="#fff" stroke="#262626" stroke-width="1.12" />
<path d="M397.15 296.83 L394.88 295.78 L392.41 295.14 L389.76 294.9 L386.97 295.08 L384.06 295.66 L381.07 296.66 L378.03 298.04 L374.97 299.81 L371.93 301.93 L368.94 304.39 L366.03 307.16 L363.24 310.21 L360.59 313.5 L358.12 317 L355.85 320.68 L353.8 324.48 L352.01 328.37 L350.48 332.31 L349.24 336.25 L348.29 340.16 L347.66 343.98 L347.34 347.67 L347.34 351.2 L347.66 354.53 L348.29 357.61 L349.24 360.42 L350.48 362.93 L352.01 365.1 L353.8 366.92 L355.85 368.37" fill="none" stroke="#262626" stroke-width="1.12" />
<ellipse cx="376.5" cy="332.6" rx="41.3" ry="23.84" transform="rotate(-60 376.5 332.6)" fill="#fff" stroke="#262626" stroke-width="1" />
<ellipse cx="376.5" cy="332.6" rx="39.7" ry="22.92" transform="rotate(-60 376.5 332.6)" fill="none" stroke="#262626" stroke-width="0.62" />
<ellipse cx="398.24" cy="305.56" rx="2.6" ry="1.5" transform="rotate(-60 398.24 305.56)" fill="#fff" stroke="#262626" stroke-width="0.75" />
<path d="M398.22 302.87 L398.06 302.87 L397.89 302.89 L397.71 302.94 L397.54 303.01 L397.35 303.11 L397.17 303.23 L396.99 303.37 L396.82 303.52 L396.65 303.7 L396.49 303.89 L396.34 304.1 L396.2 304.31 L396.08 304.54 L395.97 304.77 L395.88 305 L395.8 305.23 L395.74 305.47 L395.7 305.69 L395.68 305.91 L395.68 306.12 L395.7 306.32 L395.73 306.51 L395.79 306.67 L395.86 306.82 L395.95 306.95 L396.06 307.06 L396.18 307.14 L396.32 307.2 L396.47 307.24 L396.63 307.25 L396.79 307.23" fill="none" stroke="#262626" stroke-width="0.5" />
<ellipse cx="376.5" cy="303.61" rx="2.6" ry="1.5" transform="rotate(-60 376.5 303.61)" fill="#fff" stroke="#262626" stroke-width="0.75" />
<path d="M376.48 300.93 L376.32 300.93 L376.15 300.95 L375.98 301 L375.8 301.07 L375.61 301.17 L375.43 301.28 L375.26 301.42 L375.08 301.58 L374.91 301.76 L374.75 301.95 L374.6 302.15 L374.46 302.37 L374.34 302.59 L374.23 302.82 L374.14 303.06 L374.06 303.29 L374 303.52 L373.96 303.75 L373.94 303.97 L373.94 304.18 L373.96 304.38 L373.99 304.56 L374.05 304.73 L374.12 304.88 L374.21 305.01 L374.32 305.11 L374.44 305.2 L374.58 305.26 L374.73 305.29 L374.89 305.31 L375.05 305.29" fill="none" stroke="#262626" stroke-width="0.5" />
<ellipse cx="354.76" cy="330.66" rx="2.6" ry="1.5" transform="rotate(-60 354.76 330.66)" fill="#fff" stroke="#262626" stroke-width="0.75" />
<path d="M354.74 327.97 L354.58 327.97 L354.41 327.99 L354.24 328.04 L354.06 328.11 L353.88 328.21 L353.69 328.33 L353.52 328.47 L353.34 328.62 L353.17 328.8 L353.01 328.99 L352.86 329.2 L352.73 329.41 L352.6 329.64 L352.49 329.87 L352.4 330.1 L352.32 330.33 L352.26 330.57 L352.22 330.79 L352.2 331.01 L352.2 331.22 L352.22 331.42 L352.25 331.61 L352.31 331.77 L352.38 331.92 L352.48 332.05 L352.58 332.16 L352.71 332.24 L352.84 332.3 L352.99 332.34 L353.15 332.35 L353.31 332.33" fill="none" stroke="#262626" stroke-width="0.5" />
<ellipse cx="354.76" cy="359.64" rx="2.6" ry="1.5" transform="rotate(-60 354.76 359.64)" fill="#fff" stroke="#262626" stroke-width="0.75" />
<path d="M354.74 356.96 L354.58 356.95 L354.41 356.98 L354.24 357.03 L354.06 357.1 L353.88 357.19 L353.69 357.31 L353.52 357.45 L353.34 357.61 L353.17 357.79 L353.01 357.98 L352.86 358.18 L352.73 358.4 L352.6 358.62 L352.49 358.85 L352.4 359.09 L352.32 359.32 L352.26 359.55 L352.22 359.78 L352.2 360 L352.2 360.21 L352.22 360.41 L352.25 360.59 L352.31 360.76 L352.38 360.91 L352.48 361.04 L352.58 361.14 L352.71 361.23 L352.84 361.29 L352.99 361.32 L353.15 361.33 L353.31 361.32" fill="none" stroke="#262626" stroke-width="0.5" />
<ellipse cx="376.5" cy="361.59" rx="2.6" ry="1.5" transform="rotate(-60 376.5 361.59)" fill="#fff" stroke="#262626" stroke-width="0.75" />
<path d="M376.48 358.9 L376.32 358.9 L376.15 358.92 L375.98 358.97 L375.8 359.04 L375.61 359.14 L375.43 359.26 L375.26 359.39 L375.08 359.55 L374.91 359.73 L374.75 359.92 L374.6 360.12 L374.46 360.34 L374.34 360.56 L374.23 360.79 L374.14 361.03 L374.06 361.26 L374 361.49 L373.96 361.72 L373.94 361.94 L373.94 362.15 L373.96 362.35 L373.99 362.53 L374.05 362.7 L374.12 362.85 L374.21 362.98 L374.32 363.09 L374.44 363.17 L374.58 363.23 L374.73 363.27 L374.89 363.28 L375.05 363.26" fill="none" stroke="#262626" stroke-width="0.5" />
<ellipse cx="398.24" cy="334.54" rx="2.6" ry="1.5" transform="rotate(-60 398.24 334.54)" fill="#fff" stroke="#262626" stroke-width="0.75" />
<path d="M398.22 331.86 L398.06 331.85 L397.89 331.88 L397.71 331.93 L397.54 332 L397.35 332.09 L397.17 332.21 L396.99 332.35 L396.82 332.51 L396.65 332.69 L396.49 332.88 L396.34 333.08 L396.2 333.3 L396.08 333.52 L395.97 333.75 L395.88 333.99 L395.8 334.22 L395.74 334.45 L395.7 334.68 L395.68 334.9 L395.68 335.11 L395.7 335.31 L395.73 335.49 L395.79 335.66 L395.86 335.81 L395.95 335.94 L396.06 336.04 L396.18 336.13 L396.32 336.19 L396.47 336.22 L396.63 336.23 L396.79 336.22" fill="none" stroke="#262626" stroke-width="0.5" />
<ellipse cx="376.5" cy="332.6" rx="19.6" ry="11.32" transform="rotate(-60 376.5 332.6)" fill="none" stroke="#262626" stroke-width="0.75" />
<ellipse cx="378.23" cy="333.6" rx="14.5" ry="8.37" transform="rotate(-60 378.23 333.6)" fill="#fff" stroke="#262626" stroke-width="0.88" />
<ellipse cx="378.23" cy="333.6" rx="11.5" ry="6.64" transform="rotate(-60 378.23 333.6)" fill="#fff" stroke="#111" stroke-width="1.88" />
<clipPath id="pb"><ellipse cx="378.23" cy="333.6" rx="11.5" ry="6.64" transform="rotate(-60 378.23 333.6)"/></clipPath>
<g clip-path="url(#pb)">
<ellipse cx="375.63" cy="332.1" rx="11.5" ry="6.64" transform="rotate(-60 375.63 332.1)" fill="none" stroke="#262626" stroke-width="1" />
<ellipse cx="374.34" cy="331.35" rx="11.5" ry="6.64" transform="rotate(-60 374.34 331.35)" fill="none" stroke="#262626" stroke-width="0.62" />
</g>
<line x1="398.24" y1="305.56" x2="448.25" y2="335.11" stroke="#505050" stroke-width="0.56" stroke-dasharray="6.5 2 1 2" stroke-linecap="butt"/>
<line x1="376.5" y1="303.61" x2="426.51" y2="333.16" stroke="#505050" stroke-width="0.56" stroke-dasharray="6.5 2 1 2" stroke-linecap="butt"/>
<line x1="354.76" y1="330.66" x2="404.77" y2="360.21" stroke="#505050" stroke-width="0.56" stroke-dasharray="6.5 2 1 2" stroke-linecap="butt"/>
<line x1="354.76" y1="359.64" x2="404.77" y2="389.19" stroke="#505050" stroke-width="0.56" stroke-dasharray="6.5 2 1 2" stroke-linecap="butt"/>
<line x1="376.5" y1="361.59" x2="426.51" y2="391.14" stroke="#505050" stroke-width="0.56" stroke-dasharray="6.5 2 1 2" stroke-linecap="butt"/>
<line x1="398.24" y1="334.54" x2="448.25" y2="364.09" stroke="#505050" stroke-width="0.56" stroke-dasharray="6.5 2 1 2" stroke-linecap="butt"/>
<path d="M449.85 361.32 L449.67 361.24 L449.48 361.19 L449.28 361.17 L449.06 361.19 L448.84 361.23 L448.6 361.31 L448.37 361.42 L448.13 361.55 L447.9 361.72 L447.67 361.91 L447.44 362.12 L447.22 362.36 L447.02 362.61 L446.83 362.88 L446.65 363.17 L446.49 363.46 L446.35 363.77 L446.23 364.07 L446.14 364.38 L446.07 364.68 L446.02 364.97 L445.99 365.26 L445.99 365.53 L446.02 365.79 L446.07 366.03 L446.14 366.25 L446.23 366.44 L446.35 366.61 L446.49 366.75 L446.65 366.86 L455.31 371.86 L455.49 371.95 L455.68 372 L455.88 372.01 L456.1 372 L456.33 371.96 L456.56 371.88 L456.79 371.77 L457.03 371.63 L457.26 371.47 L457.5 371.28 L457.72 371.06 L457.94 370.83 L458.14 370.57 L458.33 370.3 L458.51 370.02 L458.67 369.72 L458.81 369.42 L458.93 369.12 L459.02 368.81 L459.1 368.51 L459.15 368.21 L459.17 367.93 L459.17 367.65 L459.15 367.39 L459.1 367.16 L459.02 366.94 L458.93 366.74 L458.81 366.57 L458.67 366.43 L458.51 366.32Z" fill="#fff" stroke="#262626" stroke-width="0.81" />
<path d="M458.51 366.32 L458.33 366.24 L458.14 366.19 L457.94 366.17 L457.72 366.19 L457.5 366.23 L457.26 366.31 L457.03 366.42 L456.79 366.55 L456.56 366.72 L456.33 366.91 L456.1 367.12 L455.88 367.36 L455.68 367.61 L455.49 367.88 L455.31 368.17 L455.15 368.46 L455.01 368.77 L454.89 369.07 L454.8 369.38 L454.73 369.68 L454.68 369.97 L454.65 370.26 L454.65 370.53 L454.68 370.79 L454.73 371.03 L454.8 371.25 L454.89 371.44 L455.01 371.61 L455.15 371.75 L455.31 371.86" fill="none" stroke="#262626" stroke-width="0.81" />
<path d="M459.41 364.76 L459.14 364.64 L458.84 364.56 L458.52 364.53 L458.18 364.55 L457.83 364.62 L457.46 364.74 L457.1 364.91 L456.73 365.12 L456.36 365.38 L456 365.68 L455.64 366.01 L455.31 366.38 L454.99 366.78 L454.69 367.2 L454.41 367.65 L454.16 368.11 L453.95 368.58 L453.76 369.06 L453.61 369.54 L453.5 370.01 L453.42 370.47 L453.38 370.92 L453.38 371.35 L453.42 371.75 L453.5 372.12 L453.61 372.46 L453.76 372.77 L453.95 373.03 L454.16 373.25 L454.41 373.42 L459.17 376.17 L459.45 376.3 L459.75 376.38 L460.07 376.41 L460.41 376.39 L460.76 376.31 L461.12 376.19 L461.49 376.03 L461.86 375.81 L462.23 375.56 L462.59 375.26 L462.94 374.92 L463.28 374.55 L463.6 374.16 L463.9 373.73 L464.17 373.29 L464.42 372.83 L464.64 372.35 L464.82 371.88 L464.97 371.4 L465.09 370.93 L465.17 370.47 L465.2 370.02 L465.2 369.59 L465.17 369.19 L465.09 368.82 L464.97 368.47 L464.82 368.17 L464.64 367.91 L464.42 367.69 L464.17 367.51Z" fill="#fff" stroke="#262626" stroke-width="0.81" />
<ellipse cx="461.67" cy="371.84" rx="5" ry="2.89" transform="rotate(-60 461.67 371.84)" fill="#fff" stroke="#262626" stroke-width="0.81" />
<ellipse cx="461.67" cy="371.84" rx="3.1" ry="1.79" transform="rotate(-60 461.67 371.84)" fill="#fff" stroke="#111" stroke-width="1.38" />
<path d="M460.33 369.41 L460.15 369.56 L459.97 369.74 L459.8 369.93 L459.64 370.13 L459.49 370.35 L459.36 370.57 L459.23 370.81 L459.13 371.04 L459.04 371.28 L458.97 371.52 L458.92 371.76 L458.88 371.99 L458.87 372.22 L458.87 372.43 L458.9 372.63 L458.94 372.81 L459.01 372.98 L459.09 373.12 L459.19 373.25 L459.3 373.35 L459.43 373.43 L459.57 373.49 L459.73 373.52 L459.89 373.52 L460.07 373.5 L460.25 373.46 L460.43 373.39 L460.62 373.29 L460.8 373.18 L460.99 373.04 L461.17 372.88 L461.34 372.7 L461.51 372.51 L461.67 372.3 L461.81 372.08 L461.95 371.85 L462.06 371.62 L462.17 371.38" fill="none" stroke="#262626" stroke-width="0.62" />
<path d="M428.11 388.36 L427.94 388.28 L427.74 388.23 L427.54 388.21 L427.32 388.23 L427.1 388.27 L426.87 388.35 L426.63 388.46 L426.39 388.59 L426.16 388.76 L425.93 388.95 L425.7 389.16 L425.48 389.4 L425.28 389.66 L425.09 389.93 L424.91 390.21 L424.75 390.51 L424.61 390.81 L424.5 391.11 L424.4 391.42 L424.33 391.72 L424.28 392.02 L424.25 392.3 L424.25 392.58 L424.28 392.83 L424.33 393.07 L424.4 393.29 L424.5 393.49 L424.61 393.65 L424.75 393.8 L424.91 393.91 L433.57 398.91 L433.75 398.99 L433.94 399.04 L434.14 399.06 L434.36 399.04 L434.59 399 L434.82 398.92 L435.05 398.81 L435.29 398.68 L435.53 398.51 L435.76 398.32 L435.98 398.11 L436.2 397.87 L436.4 397.62 L436.6 397.34 L436.77 397.06 L436.93 396.76 L437.07 396.46 L437.19 396.16 L437.28 395.85 L437.36 395.55 L437.41 395.25 L437.43 394.97 L437.43 394.69 L437.41 394.44 L437.36 394.2 L437.28 393.98 L437.19 393.79 L437.07 393.62 L436.93 393.48 L436.77 393.36Z" fill="#fff" stroke="#262626" stroke-width="0.81" />
<path d="M436.77 393.36 L436.6 393.28 L436.4 393.23 L436.2 393.21 L435.98 393.23 L435.76 393.27 L435.53 393.35 L435.29 393.46 L435.05 393.59 L434.82 393.76 L434.59 393.95 L434.36 394.16 L434.14 394.4 L433.94 394.66 L433.75 394.93 L433.57 395.21 L433.41 395.51 L433.27 395.81 L433.16 396.11 L433.06 396.42 L432.99 396.72 L432.94 397.02 L432.91 397.3 L432.91 397.58 L432.94 397.83 L432.99 398.07 L433.06 398.29 L433.16 398.49 L433.27 398.65 L433.41 398.8 L433.57 398.91" fill="none" stroke="#262626" stroke-width="0.81" />
<path d="M437.67 391.81 L437.4 391.68 L437.1 391.6 L436.78 391.57 L436.44 391.59 L436.09 391.66 L435.72 391.78 L435.36 391.95 L434.99 392.17 L434.62 392.42 L434.26 392.72 L433.9 393.06 L433.57 393.42 L433.25 393.82 L432.95 394.25 L432.67 394.69 L432.42 395.15 L432.21 395.62 L432.02 396.1 L431.87 396.58 L431.76 397.05 L431.68 397.51 L431.64 397.96 L431.64 398.39 L431.68 398.79 L431.76 399.16 L431.87 399.5 L432.02 399.81 L432.21 400.07 L432.42 400.29 L432.67 400.47 L437.43 403.22 L437.71 403.34 L438.01 403.42 L438.33 403.45 L438.67 403.43 L439.02 403.36 L439.38 403.24 L439.75 403.07 L440.12 402.86 L440.49 402.6 L440.85 402.3 L441.2 401.97 L441.54 401.6 L441.86 401.2 L442.16 400.77 L442.43 400.33 L442.68 399.87 L442.9 399.4 L443.08 398.92 L443.24 398.44 L443.35 397.97 L443.43 397.51 L443.47 397.06 L443.47 396.63 L443.43 396.23 L443.35 395.86 L443.24 395.52 L443.08 395.21 L442.9 394.95 L442.68 394.73 L442.43 394.56Z" fill="#fff" stroke="#262626" stroke-width="0.81" />
<ellipse cx="439.93" cy="398.89" rx="5" ry="2.89" transform="rotate(-60 439.93 398.89)" fill="#fff" stroke="#262626" stroke-width="0.81" />
<ellipse cx="439.93" cy="398.89" rx="3.1" ry="1.79" transform="rotate(-60 439.93 398.89)" fill="#fff" stroke="#111" stroke-width="1.38" />
<path d="M438.59 396.45 L438.41 396.61 L438.23 396.78 L438.06 396.97 L437.9 397.17 L437.75 397.39 L437.62 397.61 L437.5 397.85 L437.39 398.09 L437.3 398.33 L437.23 398.57 L437.18 398.8 L437.14 399.04 L437.13 399.26 L437.13 399.47 L437.16 399.67 L437.2 399.85 L437.27 400.02 L437.35 400.17 L437.45 400.29 L437.56 400.4 L437.69 400.48 L437.84 400.53 L437.99 400.56 L438.16 400.57 L438.33 400.55 L438.51 400.5 L438.69 400.43 L438.88 400.34 L439.07 400.22 L439.25 400.08 L439.43 399.92 L439.61 399.75 L439.77 399.55 L439.93 399.34 L440.07 399.13 L440.21 398.9 L440.32 398.66 L440.43 398.42" fill="none" stroke="#262626" stroke-width="0.62" />
<path d="M449.85 332.34 L449.67 332.25 L449.48 332.2 L449.28 332.19 L449.06 332.2 L448.84 332.25 L448.6 332.32 L448.37 332.43 L448.13 332.57 L447.9 332.73 L447.67 332.92 L447.44 333.14 L447.22 333.37 L447.02 333.63 L446.83 333.9 L446.65 334.18 L446.49 334.48 L446.35 334.78 L446.23 335.09 L446.14 335.39 L446.07 335.69 L446.02 335.99 L445.99 336.28 L445.99 336.55 L446.02 336.81 L446.07 337.05 L446.14 337.26 L446.23 337.46 L446.35 337.63 L446.49 337.77 L446.65 337.88 L455.31 342.88 L455.49 342.96 L455.68 343.01 L455.88 343.03 L456.1 343.01 L456.33 342.97 L456.56 342.89 L456.79 342.79 L457.03 342.65 L457.26 342.48 L457.5 342.29 L457.72 342.08 L457.94 341.84 L458.14 341.59 L458.33 341.32 L458.51 341.03 L458.67 340.74 L458.81 340.43 L458.93 340.13 L459.02 339.82 L459.1 339.52 L459.15 339.23 L459.17 338.94 L459.17 338.67 L459.15 338.41 L459.1 338.17 L459.02 337.95 L458.93 337.76 L458.81 337.59 L458.67 337.45 L458.51 337.34Z" fill="#fff" stroke="#262626" stroke-width="0.81" />
<path d="M458.51 337.34 L458.33 337.25 L458.14 337.2 L457.94 337.19 L457.72 337.2 L457.5 337.25 L457.26 337.32 L457.03 337.43 L456.79 337.57 L456.56 337.73 L456.33 337.92 L456.1 338.14 L455.88 338.37 L455.68 338.63 L455.49 338.9 L455.31 339.18 L455.15 339.48 L455.01 339.78 L454.89 340.09 L454.8 340.39 L454.73 340.69 L454.68 340.99 L454.65 341.28 L454.65 341.55 L454.68 341.81 L454.73 342.05 L454.8 342.26 L454.89 342.46 L455.01 342.63 L455.15 342.77 L455.31 342.88" fill="none" stroke="#262626" stroke-width="0.81" />
<path d="M459.41 335.78 L459.14 335.65 L458.84 335.57 L458.52 335.54 L458.18 335.56 L457.83 335.64 L457.46 335.76 L457.1 335.92 L456.73 336.14 L456.36 336.39 L456 336.69 L455.64 337.03 L455.31 337.4 L454.99 337.8 L454.69 338.22 L454.41 338.66 L454.16 339.12 L453.95 339.6 L453.76 340.07 L453.61 340.55 L453.5 341.02 L453.42 341.48 L453.38 341.93 L453.38 342.36 L453.42 342.76 L453.5 343.14 L453.61 343.48 L453.76 343.78 L453.95 344.04 L454.16 344.26 L454.41 344.44 L459.17 347.19 L459.45 347.31 L459.75 347.39 L460.07 347.42 L460.41 347.4 L460.76 347.33 L461.12 347.21 L461.49 347.04 L461.86 346.83 L462.23 346.57 L462.59 346.27 L462.94 345.94 L463.28 345.57 L463.6 345.17 L463.9 344.75 L464.17 344.3 L464.42 343.84 L464.64 343.37 L464.82 342.89 L464.97 342.42 L465.09 341.94 L465.17 341.48 L465.2 341.03 L465.2 340.61 L465.17 340.2 L465.09 339.83 L464.97 339.49 L464.82 339.19 L464.64 338.92 L464.42 338.7 L464.17 338.53Z" fill="#fff" stroke="#262626" stroke-width="0.81" />
<ellipse cx="461.67" cy="342.86" rx="5" ry="2.89" transform="rotate(-60 461.67 342.86)" fill="#fff" stroke="#262626" stroke-width="0.81" />
<ellipse cx="461.67" cy="342.86" rx="3.1" ry="1.79" transform="rotate(-60 461.67 342.86)" fill="#fff" stroke="#111" stroke-width="1.38" />
<path d="M460.33 340.42 L460.15 340.58 L459.97 340.75 L459.8 340.94 L459.64 341.14 L459.49 341.36 L459.36 341.59 L459.23 341.82 L459.13 342.06 L459.04 342.3 L458.97 342.54 L458.92 342.78 L458.88 343.01 L458.87 343.23 L458.87 343.44 L458.9 343.64 L458.94 343.83 L459.01 343.99 L459.09 344.14 L459.19 344.26 L459.3 344.37 L459.43 344.45 L459.57 344.5 L459.73 344.53 L459.89 344.54 L460.07 344.52 L460.25 344.47 L460.43 344.4 L460.62 344.31 L460.8 344.19 L460.99 344.05 L461.17 343.89 L461.34 343.72 L461.51 343.52 L461.67 343.32 L461.81 343.1 L461.95 342.87 L462.06 342.63 L462.17 342.39" fill="none" stroke="#262626" stroke-width="0.62" />
<path d="M406.37 386.42 L406.2 386.34 L406.01 386.29 L405.8 386.27 L405.58 386.29 L405.36 386.33 L405.13 386.41 L404.89 386.51 L404.65 386.65 L404.42 386.82 L404.19 387.01 L403.96 387.22 L403.75 387.46 L403.54 387.71 L403.35 387.98 L403.17 388.27 L403.01 388.56 L402.88 388.87 L402.76 389.17 L402.66 389.48 L402.59 389.78 L402.54 390.07 L402.51 390.36 L402.51 390.63 L402.54 390.89 L402.59 391.13 L402.66 391.35 L402.76 391.54 L402.88 391.71 L403.01 391.85 L403.17 391.96 L411.83 396.96 L412.01 397.05 L412.2 397.1 L412.41 397.11 L412.62 397.1 L412.85 397.05 L413.08 396.98 L413.31 396.87 L413.55 396.73 L413.79 396.57 L414.02 396.38 L414.24 396.16 L414.46 395.93 L414.67 395.67 L414.86 395.4 L415.03 395.12 L415.19 394.82 L415.33 394.52 L415.45 394.21 L415.55 393.91 L415.62 393.61 L415.67 393.31 L415.69 393.02 L415.69 392.75 L415.67 392.49 L415.62 392.25 L415.55 392.04 L415.45 391.84 L415.33 391.67 L415.19 391.53 L415.03 391.42Z" fill="#fff" stroke="#262626" stroke-width="0.81" />
<path d="M415.03 391.42 L414.86 391.34 L414.67 391.29 L414.46 391.27 L414.24 391.29 L414.02 391.33 L413.79 391.41 L413.55 391.51 L413.31 391.65 L413.08 391.82 L412.85 392.01 L412.62 392.22 L412.41 392.46 L412.2 392.71 L412.01 392.98 L411.83 393.27 L411.67 393.56 L411.54 393.87 L411.42 394.17 L411.32 394.48 L411.25 394.78 L411.2 395.07 L411.17 395.36 L411.17 395.63 L411.2 395.89 L411.25 396.13 L411.32 396.35 L411.42 396.54 L411.54 396.71 L411.67 396.85 L411.83 396.96" fill="none" stroke="#262626" stroke-width="0.81" />
<path d="M415.93 389.86 L415.66 389.74 L415.36 389.66 L415.04 389.63 L414.7 389.65 L414.35 389.72 L413.99 389.84 L413.62 390.01 L413.25 390.22 L412.88 390.48 L412.52 390.78 L412.17 391.11 L411.83 391.48 L411.51 391.88 L411.21 392.3 L410.93 392.75 L410.69 393.21 L410.47 393.68 L410.28 394.16 L410.13 394.63 L410.02 395.11 L409.94 395.57 L409.9 396.02 L409.9 396.44 L409.94 396.85 L410.02 397.22 L410.13 397.56 L410.28 397.86 L410.47 398.13 L410.69 398.35 L410.93 398.52 L415.7 401.27 L415.97 401.4 L416.27 401.48 L416.59 401.51 L416.93 401.49 L417.28 401.41 L417.64 401.29 L418.01 401.13 L418.38 400.91 L418.75 400.66 L419.11 400.36 L419.46 400.02 L419.8 399.65 L420.12 399.25 L420.42 398.83 L420.7 398.39 L420.94 397.93 L421.16 397.45 L421.35 396.98 L421.5 396.5 L421.61 396.03 L421.69 395.57 L421.73 395.12 L421.73 394.69 L421.69 394.29 L421.61 393.91 L421.5 393.57 L421.35 393.27 L421.16 393.01 L420.94 392.79 L420.7 392.61Z" fill="#fff" stroke="#262626" stroke-width="0.81" />
<ellipse cx="418.2" cy="396.94" rx="5" ry="2.89" transform="rotate(-60 418.2 396.94)" fill="#fff" stroke="#262626" stroke-width="0.81" />
<ellipse cx="418.2" cy="396.94" rx="3.1" ry="1.79" transform="rotate(-60 418.2 396.94)" fill="#fff" stroke="#111" stroke-width="1.38" />
<path d="M416.85 394.51 L416.67 394.66 L416.49 394.84 L416.32 395.02 L416.16 395.23 L416.01 395.44 L415.88 395.67 L415.76 395.9 L415.65 396.14 L415.56 396.38 L415.49 396.62 L415.44 396.86 L415.4 397.09 L415.39 397.32 L415.39 397.53 L415.42 397.73 L415.46 397.91 L415.53 398.08 L415.61 398.22 L415.71 398.35 L415.82 398.45 L415.95 398.53 L416.1 398.59 L416.25 398.62 L416.42 398.62 L416.59 398.6 L416.77 398.56 L416.95 398.49 L417.14 398.39 L417.33 398.28 L417.51 398.14 L417.69 397.98 L417.87 397.8 L418.03 397.61 L418.19 397.4 L418.34 397.18 L418.47 396.95 L418.59 396.72 L418.69 396.48" fill="none" stroke="#262626" stroke-width="0.62" />
<path d="M428.11 330.39 L427.94 330.31 L427.74 330.26 L427.54 330.24 L427.32 330.26 L427.1 330.3 L426.87 330.38 L426.63 330.49 L426.39 330.62 L426.16 330.79 L425.93 330.98 L425.7 331.19 L425.48 331.43 L425.28 331.68 L425.09 331.96 L424.91 332.24 L424.75 332.54 L424.61 332.84 L424.5 333.14 L424.4 333.45 L424.33 333.75 L424.28 334.05 L424.25 334.33 L424.25 334.61 L424.28 334.86 L424.33 335.1 L424.4 335.32 L424.5 335.51 L424.61 335.68 L424.75 335.82 L424.91 335.94 L433.57 340.94 L433.75 341.02 L433.94 341.07 L434.14 341.09 L434.36 341.07 L434.59 341.03 L434.82 340.95 L435.05 340.84 L435.29 340.71 L435.53 340.54 L435.76 340.35 L435.98 340.14 L436.2 339.9 L436.4 339.64 L436.6 339.37 L436.77 339.09 L436.93 338.79 L437.07 338.49 L437.19 338.19 L437.28 337.88 L437.36 337.58 L437.41 337.28 L437.43 337 L437.43 336.72 L437.41 336.47 L437.36 336.23 L437.28 336.01 L437.19 335.81 L437.07 335.65 L436.93 335.5 L436.77 335.39Z" fill="#fff" stroke="#262626" stroke-width="0.81" />
<path d="M436.77 335.39 L436.6 335.31 L436.4 335.26 L436.2 335.24 L435.98 335.26 L435.76 335.3 L435.53 335.38 L435.29 335.49 L435.05 335.62 L434.82 335.79 L434.59 335.98 L434.36 336.19 L434.14 336.43 L433.94 336.68 L433.75 336.96 L433.57 337.24 L433.41 337.54 L433.27 337.84 L433.16 338.14 L433.06 338.45 L432.99 338.75 L432.94 339.05 L432.91 339.33 L432.91 339.61 L432.94 339.86 L432.99 340.1 L433.06 340.32 L433.16 340.51 L433.27 340.68 L433.41 340.82 L433.57 340.94" fill="none" stroke="#262626" stroke-width="0.81" />
<path d="M437.67 333.83 L437.4 333.71 L437.1 333.63 L436.78 333.6 L436.44 333.62 L436.09 333.69 L435.72 333.81 L435.36 333.98 L434.99 334.19 L434.62 334.45 L434.26 334.75 L433.9 335.08 L433.57 335.45 L433.25 335.85 L432.95 336.28 L432.67 336.72 L432.42 337.18 L432.21 337.65 L432.02 338.13 L431.87 338.61 L431.76 339.08 L431.68 339.54 L431.64 339.99 L431.64 340.42 L431.68 340.82 L431.76 341.19 L431.87 341.53 L432.02 341.84 L432.21 342.1 L432.42 342.32 L432.67 342.49 L437.43 345.24 L437.71 345.37 L438.01 345.45 L438.33 345.48 L438.67 345.46 L439.02 345.39 L439.38 345.27 L439.75 345.1 L440.12 344.88 L440.49 344.63 L440.85 344.33 L441.2 343.99 L441.54 343.63 L441.86 343.23 L442.16 342.8 L442.43 342.36 L442.68 341.9 L442.9 341.43 L443.08 340.95 L443.24 340.47 L443.35 340 L443.43 339.54 L443.47 339.09 L443.47 338.66 L443.43 338.26 L443.35 337.89 L443.24 337.55 L443.08 337.24 L442.9 336.98 L442.68 336.76 L442.43 336.58Z" fill="#fff" stroke="#262626" stroke-width="0.81" />
<ellipse cx="439.93" cy="340.91" rx="5" ry="2.89" transform="rotate(-60 439.93 340.91)" fill="#fff" stroke="#262626" stroke-width="0.81" />
<ellipse cx="439.93" cy="340.91" rx="3.1" ry="1.79" transform="rotate(-60 439.93 340.91)" fill="#fff" stroke="#111" stroke-width="1.38" />
<path d="M438.59 338.48 L438.41 338.63 L438.23 338.81 L438.06 339 L437.9 339.2 L437.75 339.42 L437.62 339.64 L437.5 339.88 L437.39 340.11 L437.3 340.36 L437.23 340.6 L437.18 340.83 L437.14 341.06 L437.13 341.29 L437.13 341.5 L437.16 341.7 L437.2 341.88 L437.27 342.05 L437.35 342.2 L437.45 342.32 L437.56 342.42 L437.69 342.5 L437.84 342.56 L437.99 342.59 L438.16 342.6 L438.33 342.57 L438.51 342.53 L438.69 342.46 L438.88 342.36 L439.07 342.25 L439.25 342.11 L439.43 341.95 L439.61 341.77 L439.77 341.58 L439.93 341.37 L440.07 341.15 L440.21 340.93 L440.32 340.69 L440.43 340.45" fill="none" stroke="#262626" stroke-width="0.62" />
<path d="M406.37 357.44 L406.2 357.35 L406.01 357.3 L405.8 357.29 L405.58 357.3 L405.36 357.34 L405.13 357.42 L404.89 357.53 L404.65 357.67 L404.42 357.83 L404.19 358.02 L403.96 358.24 L403.75 358.47 L403.54 358.73 L403.35 359 L403.17 359.28 L403.01 359.58 L402.88 359.88 L402.76 360.18 L402.66 360.49 L402.59 360.79 L402.54 361.09 L402.51 361.37 L402.51 361.65 L402.54 361.91 L402.59 362.14 L402.66 362.36 L402.76 362.56 L402.88 362.73 L403.01 362.87 L403.17 362.98 L411.83 367.98 L412.01 368.06 L412.2 368.11 L412.41 368.13 L412.62 368.11 L412.85 368.07 L413.08 367.99 L413.31 367.88 L413.55 367.75 L413.79 367.58 L414.02 367.39 L414.24 367.18 L414.46 366.94 L414.67 366.69 L414.86 366.42 L415.03 366.13 L415.19 365.84 L415.33 365.53 L415.45 365.23 L415.55 364.92 L415.62 364.62 L415.67 364.33 L415.69 364.04 L415.69 363.77 L415.67 363.51 L415.62 363.27 L415.55 363.05 L415.45 362.86 L415.33 362.69 L415.19 362.55 L415.03 362.44Z" fill="#fff" stroke="#262626" stroke-width="0.81" />
<path d="M415.03 362.44 L414.86 362.35 L414.67 362.3 L414.46 362.29 L414.24 362.3 L414.02 362.34 L413.79 362.42 L413.55 362.53 L413.31 362.67 L413.08 362.83 L412.85 363.02 L412.62 363.24 L412.41 363.47 L412.2 363.73 L412.01 364 L411.83 364.28 L411.67 364.58 L411.54 364.88 L411.42 365.18 L411.32 365.49 L411.25 365.79 L411.2 366.09 L411.17 366.37 L411.17 366.65 L411.2 366.91 L411.25 367.14 L411.32 367.36 L411.42 367.56 L411.54 367.73 L411.67 367.87 L411.83 367.98" fill="none" stroke="#262626" stroke-width="0.81" />
<path d="M415.93 360.88 L415.66 360.75 L415.36 360.67 L415.04 360.64 L414.7 360.66 L414.35 360.74 L413.99 360.86 L413.62 361.02 L413.25 361.24 L412.88 361.49 L412.52 361.79 L412.17 362.13 L411.83 362.5 L411.51 362.89 L411.21 363.32 L410.93 363.76 L410.69 364.22 L410.47 364.7 L410.28 365.17 L410.13 365.65 L410.02 366.12 L409.94 366.58 L409.9 367.03 L409.9 367.46 L409.94 367.86 L410.02 368.23 L410.13 368.58 L410.28 368.88 L410.47 369.14 L410.69 369.36 L410.93 369.54 L415.7 372.29 L415.97 372.41 L416.27 372.49 L416.59 372.52 L416.93 372.5 L417.28 372.43 L417.64 372.31 L418.01 372.14 L418.38 371.93 L418.75 371.67 L419.11 371.37 L419.46 371.04 L419.8 370.67 L420.12 370.27 L420.42 369.85 L420.7 369.4 L420.94 368.94 L421.16 368.47 L421.35 367.99 L421.5 367.51 L421.61 367.04 L421.69 366.58 L421.73 366.13 L421.73 365.7 L421.69 365.3 L421.61 364.93 L421.5 364.59 L421.35 364.28 L421.16 364.02 L420.94 363.8 L420.7 363.63Z" fill="#fff" stroke="#262626" stroke-width="0.81" />
<ellipse cx="418.2" cy="367.96" rx="5" ry="2.89" transform="rotate(-60 418.2 367.96)" fill="#fff" stroke="#262626" stroke-width="0.81" />
<ellipse cx="418.2" cy="367.96" rx="3.1" ry="1.79" transform="rotate(-60 418.2 367.96)" fill="#fff" stroke="#111" stroke-width="1.38" />
<path d="M416.85 365.52 L416.67 365.68 L416.49 365.85 L416.32 366.04 L416.16 366.24 L416.01 366.46 L415.88 366.68 L415.76 366.92 L415.65 367.16 L415.56 367.4 L415.49 367.64 L415.44 367.88 L415.4 368.11 L415.39 368.33 L415.39 368.54 L415.42 368.74 L415.46 368.92 L415.53 369.09 L415.61 369.24 L415.71 369.36 L415.82 369.47 L415.95 369.55 L416.1 369.6 L416.25 369.63 L416.42 369.64 L416.59 369.62 L416.77 369.57 L416.95 369.5 L417.14 369.41 L417.33 369.29 L417.51 369.15 L417.69 368.99 L417.87 368.82 L418.03 368.62 L418.19 368.42 L418.34 368.2 L418.47 367.97 L418.59 367.73 L418.69 367.49" fill="none" stroke="#262626" stroke-width="0.62" />
<line x1="281.76" y1="169.09" x2="264.5" y2="191.5" stroke="#6a6a6a" stroke-width="0.62" />
<path d="M264.5 191.5 L265.92 188.18 L267.35 189.28Z" fill="#222" stroke="#262626" stroke-width="0.38" />
<circle cx="285.3" cy="164.5" r="5.7" fill="#fff" stroke="#8a8a8a" stroke-width="0.69"/>
<text x="285.3" y="166.4" font-size="5.3" fill="#333" text-anchor="middle" font-weight="bold" >1</text>
<line x1="371.22" y1="220.62" x2="335" y2="278.5" stroke="#6a6a6a" stroke-width="0.62" />
<circle cx="374.3" cy="215.7" r="5.7" fill="#fff" stroke="#8a8a8a" stroke-width="0.69"/>
<text x="374.3" y="217.6" font-size="5.3" fill="#333" text-anchor="middle" font-weight="bold" >3</text>
<line x1="422.48" y1="250.25" x2="395.5" y2="294.5" stroke="#6a6a6a" stroke-width="0.62" />
<path d="M395.5 294.5 L396.55 291.04 L398.09 291.98Z" fill="#222" stroke="#262626" stroke-width="0.38" />
<circle cx="425.5" cy="245.3" r="5.7" fill="#fff" stroke="#8a8a8a" stroke-width="0.69"/>
<text x="425.5" y="247.2" font-size="5.3" fill="#333" text-anchor="middle" font-weight="bold" >2</text>
<line x1="481.51" y1="284.47" x2="453.5" y2="331" stroke="#6a6a6a" stroke-width="0.62" />
<path d="M453.5 331 L454.53 327.54 L456.08 328.47Z" fill="#222" stroke="#262626" stroke-width="0.38" />
<circle cx="484.5" cy="279.5" r="5.7" fill="#fff" stroke="#8a8a8a" stroke-width="0.69"/>
<text x="484.5" y="281.4" font-size="5.3" fill="#333" text-anchor="middle" font-weight="bold" >4</text>
<rect x="468.3" y="37.5" width="120" height="64.4" fill="#fff" stroke="#808080" stroke-width="0.7"/>
<line x1="468.3" y1="45.9" x2="588.3" y2="45.9" stroke="#8c8c8c" stroke-width="0.62" />
<line x1="468.3" y1="59.9" x2="588.3" y2="59.9" stroke="#8c8c8c" stroke-width="0.62" />
<line x1="468.3" y1="73.9" x2="588.3" y2="73.9" stroke="#8c8c8c" stroke-width="0.62" />
<line x1="468.3" y1="87.9" x2="588.3" y2="87.9" stroke="#8c8c8c" stroke-width="0.62" />
<line x1="482.6" y1="37.5" x2="482.6" y2="101.9" stroke="#8c8c8c" stroke-width="0.62" />
<line x1="569.7" y1="37.5" x2="569.7" y2="101.9" stroke="#8c8c8c" stroke-width="0.62" />
<text x="475.45" y="44.1" font-size="5.8" fill="#444" text-anchor="middle" font-weight="normal" textLength="6.3" lengthAdjust="spacingAndGlyphs">NR</text>
<text x="526.15" y="44.1" font-size="5.8" fill="#444" text-anchor="middle" font-weight="normal" textLength="9.6" lengthAdjust="spacingAndGlyphs">PART</text>
<text x="579" y="44.1" font-size="5.8" fill="#444" text-anchor="middle" font-weight="normal" textLength="13.6" lengthAdjust="spacingAndGlyphs">PIECE</text>
<text x="475.45" y="54.7" font-size="5.2" fill="#222" text-anchor="middle" font-weight="normal" >1</text>
<text x="579" y="55.1" font-size="6.4" fill="#222" text-anchor="middle" font-weight="normal" >1</text>
<text x="483.3" y="51.6" font-size="4.3" fill="#111" text-anchor="start" font-weight="normal" textLength="29.3" lengthAdjust="spacingAndGlyphs" stroke="#111" stroke-width="0.12">Custom flywheel</text>
<text x="483.3" y="56.6" font-size="4.3" fill="#111" text-anchor="start" font-weight="normal" textLength="36" lengthAdjust="spacingAndGlyphs" stroke="#111" stroke-width="0.12">SR20-BMW DCT R6</text>
<text x="475.45" y="68.7" font-size="5.2" fill="#222" text-anchor="middle" font-weight="normal" >2</text>
<text x="579" y="69.1" font-size="6.4" fill="#222" text-anchor="middle" font-weight="normal" >1</text>
<text x="483.3" y="68.4" font-size="4.3" fill="#111" text-anchor="start" font-weight="normal" stroke="#111" stroke-width="0.12">DCT hub</text>
<text x="475.45" y="82.7" font-size="5.2" fill="#222" text-anchor="middle" font-weight="normal" >3</text>
<text x="579" y="83.1" font-size="6.4" fill="#222" text-anchor="middle" font-weight="normal" >8</text>
<text x="483.3" y="82.4" font-size="4.3" fill="#111" text-anchor="start" font-weight="normal" stroke="#111" stroke-width="0.12">ISO 21269 M10x1x35</text>
<text x="475.45" y="96.7" font-size="5.2" fill="#222" text-anchor="middle" font-weight="normal" >4</text>
<text x="579" y="97.1" font-size="6.4" fill="#222" text-anchor="middle" font-weight="normal" >6</text>
<text x="483.3" y="96.4" font-size="4.3" fill="#111" text-anchor="start" font-weight="normal" stroke="#111" stroke-width="0.12">ISO 4762 M10x25</text>
</svg>
<div class="logo"><svg width="75" height="75" viewBox="7 440 75 75">
<g fill="none" stroke="#eef3ee" stroke-width="1.3" stroke-linecap="square" stroke-linejoin="miter">
<path d="M12.3 464.3H22.3L29.7 471.7L22.3 479H13V486M23 486L37 471.7L45 483.7L54.3 473.7L66.3 486M77 464.3H66.3L59 471.7L73 486H77.7"/>
</g>
<text x="12.2" y="497.3" font-size="8.1" fill="#c3cfc3" textLength="65.6" lengthAdjust="spacing" transform="translate(0 497.3) scale(1 1.05) translate(0 -497.3)">MOTORSPORT</text>
</svg></div>
<div class="title">Custom Flywheel</div>
<div class="sub">Nissan SR - BMW DCT DKG GS7D36SG Inline-six</div>
<div class="manual">MANUAL</div>
</body></html>
